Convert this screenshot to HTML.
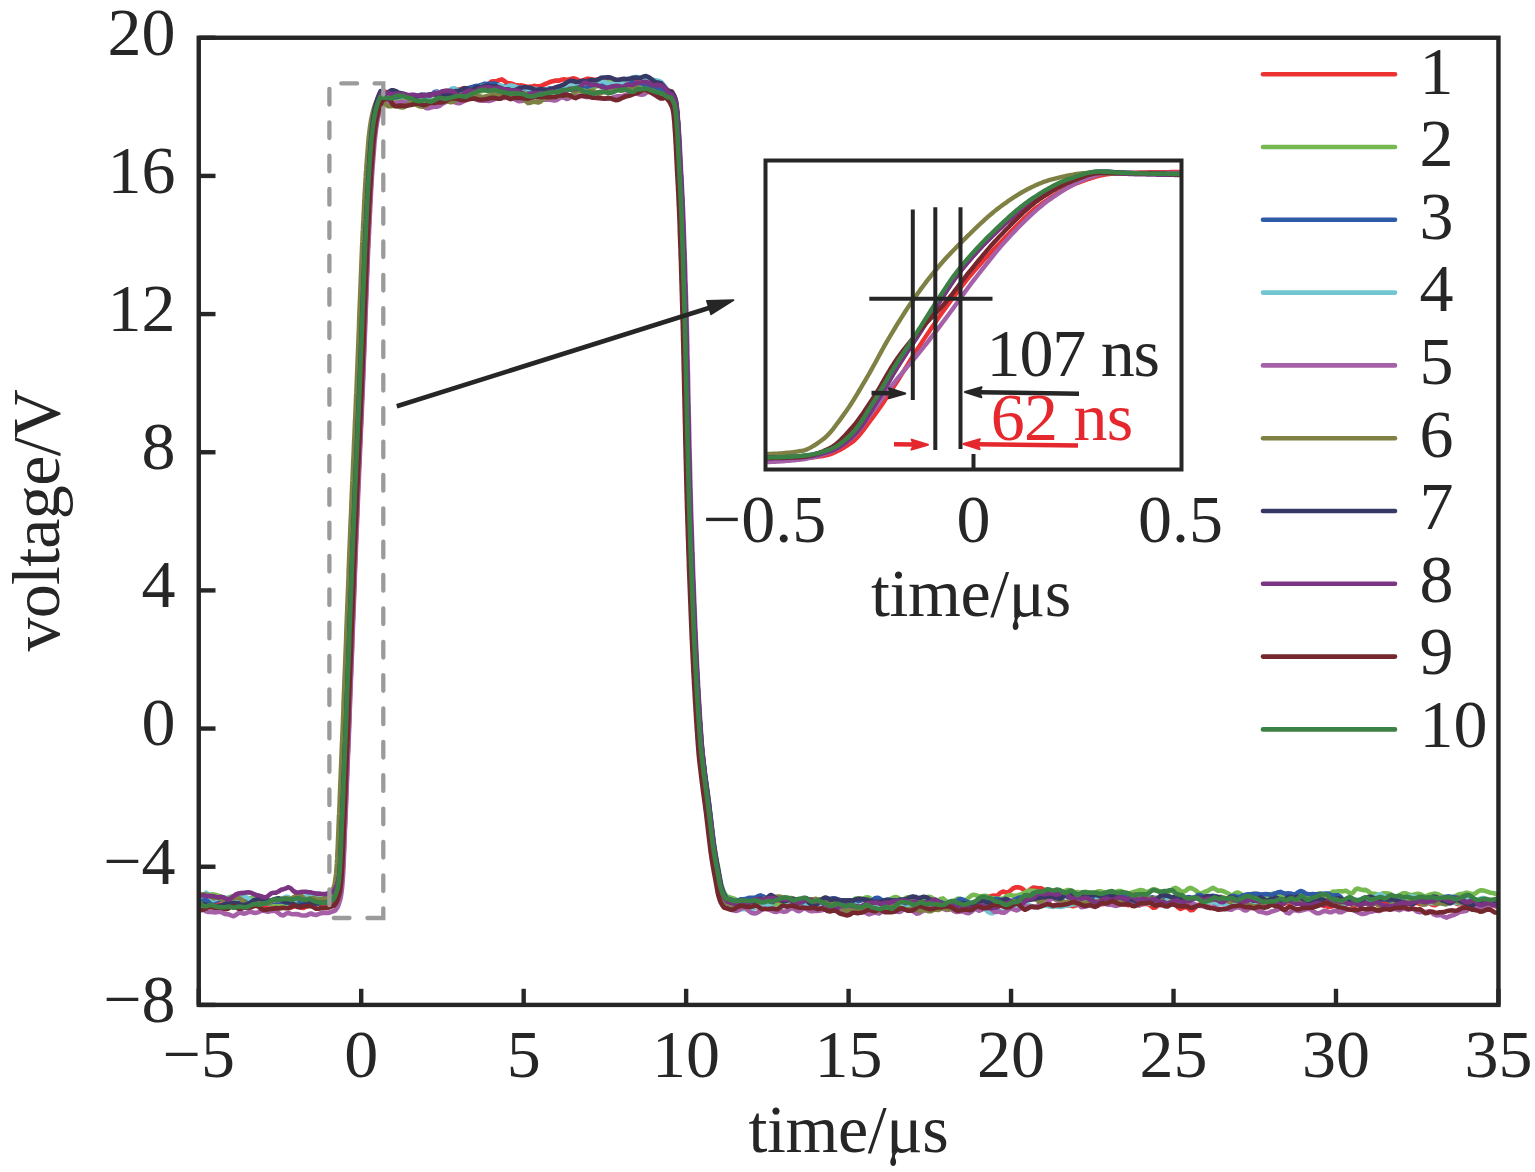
<!DOCTYPE html>
<html><head><meta charset="utf-8"><style>
html,body{margin:0;padding:0;background:#fff;width:1535px;height:1172px;overflow:hidden}
svg{display:block}
text{font-family:"Liberation Serif", serif}
</style></head><body>
<svg width="1535" height="1172" viewBox="0 0 1535 1172">
<defs><clipPath id="pc"><rect x="198.75" y="37.75" width="1299.7" height="967.15"/></clipPath><clipPath id="ic"><rect x="765.5" y="160.5" width="416" height="309"/></clipPath></defs>
<rect width="1535" height="1172" fill="#fff"/>
<g clip-path="url(#pc)" fill="none" stroke-width="4.6" stroke-linejoin="round" stroke-linecap="round">
<path stroke="#ec3232" d="M196.0 900.8 L198.5 902.8 L201.0 902.6 L203.5 901.3 L206.0 901.1 L208.5 901.5 L211.0 901.9 L213.5 902.5 L216.0 903.1 L218.5 904.2 L221.0 904.6 L223.5 904.4 L226.0 904.6 L228.5 904.6 L231.0 905.4 L233.5 906.2 L236.0 906.1 L238.5 906.5 L241.0 906.8 L243.5 906.3 L246.0 905.8 L248.5 905.3 L251.0 904.7 L253.5 903.7 L256.0 903.7 L258.5 905.5 L261.0 905.5 L263.5 905.4 L266.0 907.9 L268.5 909.0 L271.0 908.3 L273.5 908.5 L276.0 907.7 L278.5 905.2 L281.0 903.5 L283.5 904.3 L286.0 906.1 L288.5 907.1 L291.0 907.6 L293.5 906.6 L296.0 905.5 L298.5 906.3 L301.0 907.8 L303.5 907.9 L306.0 906.5 L308.5 905.8 L311.0 905.7 L313.5 905.0 L316.0 904.3 L318.5 904.2 L321.0 904.4 L323.5 904.9 L328.0 905.0 L335.3 902.4 L337.1 899.9 L338.3 897.3 L339.2 894.8 L340.0 892.2 L340.7 889.7 L341.1 887.1 L341.5 884.6 L341.8 882.0 L342.1 879.5 L342.3 876.9 L342.5 874.4 L342.7 871.8 L342.9 869.3 L343.0 866.7 L343.2 864.2 L343.3 861.6 L343.4 859.0 L343.5 856.5 L343.7 853.9 L343.8 851.4 L343.9 848.8 L344.0 846.3 L344.1 843.7 L344.2 841.2 L344.3 838.6 L344.4 836.1 L344.5 833.5 L344.6 831.0 L344.7 828.4 L344.8 825.9 L344.9 823.3 L345.0 820.8 L345.2 818.2 L345.3 815.6 L345.4 813.1 L345.5 810.5 L345.6 808.0 L345.7 805.4 L345.8 802.9 L345.9 800.3 L346.0 797.8 L346.1 795.2 L346.2 792.7 L346.3 790.1 L346.4 787.6 L346.5 785.0 L346.6 782.5 L346.7 779.9 L346.8 777.4 L346.9 774.8 L347.0 772.2 L347.1 769.7 L347.2 767.1 L347.3 764.6 L347.4 762.0 L347.5 759.5 L347.6 756.9 L347.7 754.4 L347.8 751.8 L347.9 749.3 L348.0 746.7 L348.2 744.2 L348.3 741.6 L348.4 739.1 L348.5 736.5 L348.6 734.0 L348.7 731.4 L348.8 728.8 L348.9 726.3 L349.0 723.7 L349.1 721.2 L349.2 718.6 L349.3 716.1 L349.4 713.5 L349.5 711.0 L349.5 708.4 L349.6 705.9 L349.7 703.3 L349.8 700.8 L349.9 698.2 L350.0 695.7 L350.1 693.1 L350.2 690.5 L350.3 688.0 L350.4 685.4 L350.5 682.9 L350.6 680.3 L350.7 677.8 L350.8 675.2 L350.9 672.7 L351.0 670.1 L351.1 667.6 L351.2 665.0 L351.3 662.5 L351.4 659.9 L351.5 657.4 L351.6 654.8 L351.7 652.3 L351.8 649.7 L351.9 647.1 L352.0 644.6 L352.1 642.0 L352.2 639.5 L352.2 636.9 L352.3 634.4 L352.4 631.8 L352.5 629.3 L352.6 626.7 L352.7 624.2 L352.8 621.6 L352.9 619.1 L353.0 616.5 L353.1 614.0 L353.2 611.4 L353.3 608.9 L353.4 606.3 L353.5 603.7 L353.6 601.2 L353.7 598.6 L353.8 596.1 L353.9 593.5 L354.0 591.0 L354.1 588.4 L354.2 585.9 L354.3 583.3 L354.4 580.8 L354.5 578.2 L354.6 575.7 L354.6 573.1 L354.7 570.6 L354.8 568.0 L354.9 565.5 L355.0 562.9 L355.1 560.3 L355.2 557.8 L355.3 555.2 L355.4 552.7 L355.5 550.1 L355.6 547.6 L355.7 545.0 L355.8 542.5 L355.9 539.9 L356.0 537.4 L356.1 534.8 L356.2 532.3 L356.3 529.7 L356.4 527.2 L356.5 524.6 L356.6 522.1 L356.7 519.5 L356.9 516.9 L357.0 514.4 L357.1 511.8 L357.2 509.3 L357.3 506.7 L357.4 504.2 L357.5 501.6 L357.6 499.1 L357.7 496.5 L357.8 494.0 L357.9 491.4 L358.0 488.9 L358.1 486.3 L358.2 483.8 L358.3 481.2 L358.5 478.7 L358.6 476.1 L358.7 473.5 L358.8 471.0 L358.9 468.4 L359.0 465.9 L359.1 463.3 L359.2 460.8 L359.3 458.2 L359.5 455.7 L359.6 453.1 L359.7 450.6 L359.8 448.0 L359.9 445.5 L360.0 442.9 L360.1 440.4 L360.2 437.8 L360.4 435.3 L360.5 432.7 L360.6 430.1 L360.7 427.6 L360.8 425.0 L360.9 422.5 L361.0 419.9 L361.1 417.4 L361.3 414.8 L361.4 412.3 L361.5 409.7 L361.6 407.2 L361.7 404.6 L361.8 402.1 L361.9 399.5 L362.0 397.0 L362.1 394.4 L362.2 391.9 L362.4 389.3 L362.5 386.7 L362.6 384.2 L362.7 381.6 L362.8 379.1 L362.9 376.5 L363.0 374.0 L363.1 371.4 L363.2 368.9 L363.3 366.3 L363.4 363.8 L363.5 361.2 L363.6 358.7 L363.7 356.1 L363.8 353.6 L363.9 351.0 L364.0 348.5 L364.1 345.9 L364.2 343.3 L364.3 340.8 L364.4 338.2 L364.5 335.7 L364.6 333.1 L364.7 330.6 L364.8 328.0 L364.9 325.5 L365.0 322.9 L365.1 320.4 L365.1 317.8 L365.2 315.3 L365.3 312.7 L365.4 310.2 L365.5 307.6 L365.6 305.1 L365.7 302.5 L365.8 299.9 L365.9 297.4 L366.0 294.8 L366.1 292.3 L366.2 289.7 L366.3 287.2 L366.4 284.6 L366.5 282.1 L366.6 279.5 L366.7 277.0 L366.8 274.4 L366.9 271.9 L367.0 269.3 L367.1 266.8 L367.2 264.2 L367.3 261.6 L367.4 259.1 L367.5 256.5 L367.6 254.0 L367.7 251.4 L367.8 248.9 L367.9 246.3 L368.0 243.8 L368.1 241.2 L368.2 238.7 L368.4 236.1 L368.5 233.6 L368.6 231.0 L368.7 228.5 L368.8 225.9 L369.0 223.4 L369.1 220.8 L369.2 218.2 L369.3 215.7 L369.5 213.1 L369.6 210.6 L369.7 208.0 L369.8 205.5 L370.0 202.9 L370.1 200.4 L370.2 197.8 L370.3 195.3 L370.5 192.7 L370.6 190.2 L370.7 187.6 L370.9 185.1 L371.0 182.5 L371.2 180.0 L371.3 177.4 L371.5 174.8 L371.6 172.3 L371.8 169.7 L371.9 167.2 L372.1 164.6 L372.3 162.1 L372.4 159.5 L372.6 157.0 L372.8 154.4 L373.0 151.9 L373.2 149.3 L373.4 146.8 L373.6 144.2 L373.8 141.7 L374.0 139.1 L374.2 136.6 L374.4 134.0 L374.6 131.4 L374.9 128.9 L375.2 126.3 L375.5 123.8 L375.8 121.2 L376.1 118.7 L376.5 116.1 L376.9 113.6 L377.3 111.0 L377.8 108.5 L378.4 105.9 L379.0 103.4 L379.7 100.8 L380.4 98.3 L381.3 95.7 L382.4 93.2 L383.6 90.6 L386.6 92.8 L389.1 93.7 L391.6 94.3 L394.1 95.1 L396.6 95.7 L399.1 95.1 L401.6 95.3 L404.1 95.9 L406.6 96.0 L409.1 96.2 L411.6 96.7 L414.1 96.4 L416.6 95.9 L419.1 96.0 L421.6 96.4 L424.1 96.6 L426.6 96.3 L429.1 96.1 L431.6 95.0 L434.1 93.7 L436.6 93.2 L439.1 92.9 L441.6 92.3 L444.1 91.4 L446.6 90.7 L449.1 90.3 L451.6 90.2 L454.1 89.6 L456.6 89.3 L459.1 89.7 L461.6 89.0 L464.1 88.1 L466.6 88.5 L469.1 89.1 L471.6 88.8 L474.1 88.4 L476.6 87.4 L479.1 86.3 L481.6 86.5 L484.1 86.3 L486.6 85.2 L489.1 83.5 L491.6 81.6 L494.1 81.2 L496.6 81.4 L499.1 80.1 L501.6 79.4 L504.1 80.7 L506.6 82.7 L509.1 83.4 L511.6 83.5 L514.1 84.6 L516.6 85.4 L519.1 85.6 L521.6 85.4 L524.1 85.9 L526.6 86.7 L529.1 86.9 L531.6 86.6 L534.1 85.9 L536.6 86.2 L539.1 86.4 L541.6 85.6 L544.1 84.5 L546.6 83.5 L549.1 82.4 L551.6 81.5 L554.1 80.9 L556.6 80.6 L559.1 80.6 L561.6 79.8 L564.1 79.3 L566.6 79.9 L569.1 79.6 L571.6 78.7 L574.1 78.4 L576.6 79.1 L579.1 80.9 L581.6 81.1 L584.1 79.8 L586.6 78.9 L589.1 78.9 L591.6 79.3 L594.1 79.7 L596.6 79.8 L599.1 79.9 L601.6 80.7 L604.1 81.6 L606.6 81.4 L609.1 80.3 L611.6 80.2 L614.1 81.1 L616.6 81.3 L619.1 80.7 L621.6 80.6 L624.1 80.5 L626.6 79.6 L629.1 78.9 L631.6 79.3 L634.1 80.3 L636.6 82.0 L639.1 83.9 L641.6 83.9 L644.1 83.0 L646.6 83.3 L649.1 83.5 L651.6 83.3 L654.1 84.2 L656.6 85.6 L659.1 86.1 L661.6 86.3 L664.1 87.3 L666.6 89.4 L669.1 90.8 L672.0 91.5 L673.4 94.1 L674.7 96.6 L675.6 99.2 L676.1 101.7 L676.5 104.3 L676.8 106.8 L677.0 109.4 L677.3 112.0 L677.5 114.5 L677.6 117.1 L677.8 119.6 L678.0 122.2 L678.2 124.7 L678.3 127.3 L678.5 129.8 L678.6 132.4 L678.8 135.0 L678.9 137.5 L679.0 140.1 L679.2 142.6 L679.3 145.2 L679.4 147.7 L679.5 150.3 L679.7 152.9 L679.8 155.4 L679.9 158.0 L680.0 160.5 L680.2 163.1 L680.3 165.6 L680.5 168.2 L680.6 170.7 L680.7 173.3 L680.9 175.9 L681.0 178.4 L681.1 181.0 L681.3 183.5 L681.4 186.1 L681.5 188.6 L681.6 191.2 L681.7 193.8 L681.8 196.3 L682.0 198.9 L682.1 201.4 L682.2 204.0 L682.3 206.5 L682.4 209.1 L682.5 211.7 L682.6 214.2 L682.7 216.8 L682.8 219.3 L682.8 221.9 L682.9 224.4 L683.0 227.0 L683.1 229.5 L683.2 232.1 L683.3 234.7 L683.4 237.2 L683.5 239.8 L683.6 242.3 L683.6 244.9 L683.7 247.4 L683.8 250.0 L683.9 252.6 L684.0 255.1 L684.1 257.7 L684.1 260.2 L684.2 262.8 L684.3 265.3 L684.4 267.9 L684.4 270.4 L684.5 273.0 L684.6 275.6 L684.7 278.1 L684.7 280.7 L684.8 283.2 L684.9 285.8 L685.0 288.3 L685.0 290.9 L685.1 293.5 L685.2 296.0 L685.3 298.6 L685.3 301.1 L685.4 303.7 L685.5 306.2 L685.6 308.8 L685.6 311.4 L685.7 313.9 L685.8 316.5 L685.8 319.0 L685.9 321.6 L686.0 324.1 L686.0 326.7 L686.1 329.2 L686.1 331.8 L686.2 334.4 L686.3 336.9 L686.3 339.5 L686.4 342.0 L686.4 344.6 L686.5 347.1 L686.6 349.7 L686.6 352.3 L686.7 354.8 L686.7 357.4 L686.8 359.9 L686.8 362.5 L686.9 365.0 L687.0 367.6 L687.0 370.2 L687.1 372.7 L687.1 375.3 L687.2 377.8 L687.2 380.4 L687.3 382.9 L687.3 385.5 L687.4 388.0 L687.5 390.6 L687.5 393.2 L687.6 395.7 L687.6 398.3 L687.7 400.8 L687.7 403.4 L687.8 405.9 L687.8 408.5 L687.9 411.1 L687.9 413.6 L688.0 416.2 L688.1 418.7 L688.1 421.3 L688.2 423.8 L688.2 426.4 L688.3 428.9 L688.3 431.5 L688.4 434.1 L688.4 436.6 L688.5 439.2 L688.6 441.7 L688.6 444.3 L688.7 446.8 L688.7 449.4 L688.8 452.0 L688.9 454.5 L688.9 457.1 L689.0 459.6 L689.0 462.2 L689.1 464.7 L689.2 467.3 L689.2 469.9 L689.3 472.4 L689.4 475.0 L689.4 477.5 L689.5 480.1 L689.6 482.6 L689.6 485.2 L689.7 487.7 L689.8 490.3 L689.8 492.9 L689.9 495.4 L690.0 498.0 L690.0 500.5 L690.1 503.1 L690.2 505.6 L690.3 508.2 L690.4 510.8 L690.4 513.3 L690.5 515.9 L690.6 518.4 L690.7 521.0 L690.8 523.5 L690.8 526.1 L690.9 528.6 L691.0 531.2 L691.1 533.8 L691.2 536.3 L691.3 538.9 L691.3 541.4 L691.4 544.0 L691.5 546.5 L691.6 549.1 L691.7 551.7 L691.8 554.2 L691.9 556.8 L691.9 559.3 L692.0 561.9 L692.1 564.4 L692.2 567.0 L692.3 569.6 L692.4 572.1 L692.5 574.7 L692.6 577.2 L692.7 579.8 L692.8 582.3 L692.9 584.9 L693.0 587.4 L693.1 590.0 L693.2 592.6 L693.3 595.1 L693.4 597.7 L693.5 600.2 L693.6 602.8 L693.7 605.3 L693.8 607.9 L693.9 610.5 L694.0 613.0 L694.1 615.6 L694.2 618.1 L694.3 620.7 L694.4 623.2 L694.5 625.8 L694.6 628.3 L694.7 630.9 L694.8 633.5 L695.0 636.0 L695.1 638.6 L695.2 641.1 L695.3 643.7 L695.4 646.2 L695.6 648.8 L695.7 651.4 L695.8 653.9 L695.9 656.5 L696.1 659.0 L696.2 661.6 L696.3 664.1 L696.4 666.7 L696.6 669.3 L696.7 671.8 L696.9 674.4 L697.0 676.9 L697.1 679.5 L697.3 682.0 L697.4 684.6 L697.6 687.1 L697.7 689.7 L697.8 692.3 L698.0 694.8 L698.1 697.4 L698.3 699.9 L698.5 702.5 L698.6 705.0 L698.8 707.6 L698.9 710.2 L699.1 712.7 L699.2 715.3 L699.4 717.8 L699.6 720.4 L699.7 722.9 L699.9 725.5 L700.1 728.1 L700.3 730.6 L700.4 733.2 L700.6 735.7 L700.8 738.3 L701.0 740.8 L701.2 743.4 L701.4 745.9 L701.6 748.5 L701.8 751.1 L702.1 753.6 L702.3 756.2 L702.6 758.7 L702.9 761.3 L703.2 763.8 L703.5 766.4 L703.8 769.0 L704.1 771.5 L704.4 774.1 L704.7 776.6 L705.0 779.2 L705.4 781.7 L705.7 784.3 L706.0 786.8 L706.4 789.4 L706.7 792.0 L707.1 794.5 L707.4 797.1 L707.8 799.6 L708.1 802.2 L708.4 804.7 L708.8 807.3 L709.1 809.9 L709.4 812.4 L709.7 815.0 L710.0 817.5 L710.3 820.1 L710.6 822.6 L710.9 825.2 L711.2 827.8 L711.5 830.3 L711.8 832.9 L712.1 835.4 L712.4 838.0 L712.7 840.5 L713.0 843.1 L713.3 845.6 L713.6 848.2 L714.0 850.8 L714.4 853.3 L714.7 855.9 L715.2 858.4 L715.6 861.0 L716.0 863.5 L716.5 866.1 L716.9 868.7 L717.4 871.2 L717.9 873.8 L718.4 876.3 L718.8 878.9 L719.3 881.4 L719.7 884.0 L720.2 886.5 L720.6 889.1 L721.2 891.7 L721.9 894.2 L722.7 896.8 L723.7 899.3 L725.1 901.9 L726.9 904.4 L735.0 907.0 L738.0 907.2 L740.5 906.9 L743.0 906.3 L745.5 905.6 L748.0 905.4 L750.5 905.3 L753.0 906.5 L755.5 907.5 L758.0 907.1 L760.5 905.6 L763.0 905.6 L765.5 907.1 L768.0 906.2 L770.5 903.5 L773.0 902.6 L775.5 902.8 L778.0 903.3 L780.5 902.9 L783.0 901.6 L785.5 901.9 L788.0 903.7 L790.5 904.0 L793.0 902.9 L795.5 901.8 L798.0 901.9 L800.5 902.4 L803.0 902.4 L805.5 903.5 L808.0 905.7 L810.5 907.2 L813.0 906.8 L815.5 906.0 L818.0 906.0 L820.5 905.7 L823.0 905.3 L825.5 904.6 L828.0 904.6 L830.5 906.1 L833.0 906.8 L835.5 906.4 L838.0 906.6 L840.5 907.1 L843.0 907.9 L845.5 908.1 L848.0 907.9 L850.5 907.6 L853.0 907.0 L855.5 906.9 L858.0 907.5 L860.5 907.0 L863.0 905.8 L865.5 904.5 L868.0 903.8 L870.5 904.9 L873.0 908.1 L875.5 909.2 L878.0 907.1 L880.5 906.0 L883.0 906.6 L885.5 906.4 L888.0 905.3 L890.5 904.6 L893.0 905.6 L895.5 907.1 L898.0 908.3 L900.5 907.6 L903.0 905.6 L905.5 903.4 L908.0 902.2 L910.5 904.0 L913.0 905.9 L915.5 905.6 L918.0 906.1 L920.5 908.5 L923.0 909.3 L925.5 908.1 L928.0 907.3 L930.5 907.4 L933.0 907.4 L935.5 906.3 L938.0 905.9 L940.5 906.4 L943.0 906.6 L945.5 906.9 L948.0 906.9 L950.5 906.5 L953.0 906.5 L955.5 907.0 L958.0 905.8 L960.5 904.3 L963.0 904.3 L965.5 904.8 L968.0 904.7 L970.5 904.3 L973.0 905.4 L975.5 905.5 L978.0 901.0 L980.5 899.0 L983.0 898.1 L985.5 896.3 L988.0 896.7 L990.5 896.3 L993.0 895.6 L995.5 895.9 L998.0 895.2 L1000.5 892.7 L1003.0 891.5 L1005.5 892.4 L1008.0 892.3 L1010.5 890.5 L1013.0 888.4 L1015.5 887.4 L1018.0 887.2 L1020.5 887.7 L1023.0 889.3 L1025.5 891.5 L1028.0 891.6 L1030.5 889.1 L1033.0 887.6 L1035.5 887.8 L1038.0 888.2 L1040.5 888.2 L1043.0 889.2 L1045.5 894.1 L1048.0 900.3 L1050.5 905.7 L1053.0 906.9 L1055.5 905.0 L1058.0 905.1 L1060.5 906.0 L1063.0 905.7 L1065.5 905.1 L1068.0 905.1 L1070.5 905.5 L1073.0 906.2 L1075.5 905.6 L1078.0 904.3 L1080.5 903.3 L1083.0 903.7 L1085.5 904.3 L1088.0 904.4 L1090.5 904.2 L1093.0 903.5 L1095.5 902.8 L1098.0 903.1 L1100.5 904.3 L1103.0 904.1 L1105.5 902.3 L1108.0 901.3 L1110.5 902.4 L1113.0 903.2 L1115.5 902.5 L1118.0 902.1 L1120.5 902.9 L1123.0 903.3 L1125.5 904.0 L1128.0 905.2 L1130.5 904.7 L1133.0 904.0 L1135.5 904.2 L1138.0 903.9 L1140.5 903.9 L1143.0 904.1 L1145.5 903.8 L1148.0 904.0 L1150.5 905.6 L1153.0 907.6 L1155.5 907.4 L1158.0 905.2 L1160.5 904.7 L1163.0 905.1 L1165.5 904.2 L1168.0 903.2 L1170.5 902.6 L1173.0 902.7 L1175.5 904.7 L1178.0 907.6 L1180.5 909.0 L1183.0 907.9 L1185.5 907.0 L1188.0 908.1 L1190.5 910.2 L1193.0 909.9 L1195.5 907.3 L1198.0 905.0 L1200.5 904.3 L1203.0 905.2 L1205.5 905.5 L1208.0 904.6 L1210.5 903.2 L1213.0 901.5 L1215.5 900.5 L1218.0 901.0 L1220.5 901.3 L1223.0 901.6 L1225.5 901.1 L1228.0 900.3 L1230.5 900.3 L1233.0 900.7 L1235.5 900.7 L1238.0 900.6 L1240.5 900.9 L1243.0 900.9 L1245.5 901.3 L1248.0 901.0 L1250.5 900.2 L1253.0 900.5 L1255.5 902.0 L1258.0 903.4 L1260.5 903.2 L1263.0 903.1 L1265.5 903.7 L1268.0 903.6 L1270.5 904.0 L1273.0 904.2 L1275.5 904.6 L1278.0 905.0 L1280.5 905.0 L1283.0 904.4 L1285.5 903.2 L1288.0 902.6 L1290.5 902.5 L1293.0 901.2 L1295.5 899.5 L1298.0 899.3 L1300.5 900.5 L1303.0 901.3 L1305.5 901.5 L1308.0 901.6 L1310.5 901.0 L1313.0 900.1 L1315.5 900.1 L1318.0 902.1 L1320.5 904.6 L1323.0 905.5 L1325.5 906.1 L1328.0 906.7 L1330.5 906.9 L1333.0 905.9 L1335.5 903.6 L1338.0 902.3 L1340.5 902.4 L1343.0 903.3 L1345.5 903.3 L1348.0 902.0 L1350.5 903.1 L1353.0 905.9 L1355.5 905.8 L1358.0 903.2 L1360.5 902.2 L1363.0 902.7 L1365.5 903.3 L1368.0 903.5 L1370.5 903.3 L1373.0 902.7 L1375.5 903.2 L1378.0 905.1 L1380.5 905.7 L1383.0 904.0 L1385.5 902.0 L1388.0 901.7 L1390.5 902.3 L1393.0 903.2 L1395.5 904.1 L1398.0 904.1 L1400.5 904.1 L1403.0 904.0 L1405.5 903.8 L1408.0 903.8 L1410.5 903.3 L1413.0 903.0 L1415.5 902.9 L1418.0 903.2 L1420.5 904.3 L1423.0 904.1 L1425.5 902.2 L1428.0 902.3 L1430.5 903.8 L1433.0 904.9 L1435.5 905.1 L1438.0 903.7 L1440.5 901.8 L1443.0 900.9 L1445.5 901.9 L1448.0 902.8 L1450.5 901.8 L1453.0 901.5 L1455.5 903.1 L1458.0 904.2 L1460.5 903.5 L1463.0 903.7 L1465.5 905.4 L1468.0 906.9 L1470.5 906.6 L1473.0 905.5 L1475.5 904.9 L1478.0 904.0 L1480.5 902.7 L1483.0 902.8 L1485.5 903.5 L1488.0 903.5 L1490.5 903.6 L1493.0 904.5 L1495.5 906.3 L1498.0 907.0 L1500.5 906.0 L1503.0 904.3"/>
<path stroke="#76b951" d="M196.0 896.6 L198.5 899.2 L201.0 899.5 L203.5 897.9 L206.0 896.8 L208.5 895.7 L211.0 894.5 L213.5 894.4 L216.0 895.0 L218.5 895.7 L221.0 897.1 L223.5 898.7 L226.0 899.0 L228.5 897.8 L231.0 896.6 L233.5 896.8 L236.0 898.6 L238.5 900.3 L241.0 900.6 L243.5 899.5 L246.0 898.5 L248.5 898.3 L251.0 897.9 L253.5 897.9 L256.0 899.8 L258.5 902.1 L261.0 902.2 L263.5 901.1 L266.0 901.2 L268.5 903.0 L271.0 904.2 L273.5 903.8 L276.0 902.9 L278.5 903.8 L281.0 904.8 L283.5 904.9 L286.0 904.3 L288.5 902.6 L291.0 901.4 L293.5 901.5 L296.0 902.0 L298.5 902.1 L301.0 901.6 L303.5 901.6 L306.0 901.5 L308.5 900.9 L311.0 900.6 L313.5 900.7 L316.0 900.6 L318.5 900.2 L321.0 900.0 L326.0 900.0 L333.3 897.5 L335.1 895.0 L336.3 892.4 L337.2 889.9 L338.0 887.4 L338.7 884.9 L339.1 882.3 L339.5 879.8 L339.8 877.3 L340.1 874.8 L340.3 872.2 L340.5 869.7 L340.7 867.2 L340.9 864.7 L341.0 862.1 L341.2 859.6 L341.3 857.1 L341.4 854.6 L341.5 852.0 L341.7 849.5 L341.8 847.0 L341.9 844.5 L342.0 841.9 L342.1 839.4 L342.2 836.9 L342.3 834.4 L342.4 831.8 L342.5 829.3 L342.6 826.8 L342.7 824.3 L342.8 821.8 L342.9 819.2 L343.0 816.7 L343.2 814.2 L343.3 811.7 L343.4 809.1 L343.5 806.6 L343.6 804.1 L343.7 801.6 L343.8 799.0 L343.9 796.5 L344.0 794.0 L344.1 791.5 L344.2 788.9 L344.3 786.4 L344.4 783.9 L344.5 781.4 L344.6 778.8 L344.7 776.3 L344.8 773.8 L344.9 771.3 L345.0 768.7 L345.1 766.2 L345.2 763.7 L345.3 761.2 L345.4 758.6 L345.5 756.1 L345.6 753.6 L345.7 751.1 L345.8 748.6 L345.9 746.0 L346.0 743.5 L346.2 741.0 L346.3 738.5 L346.4 735.9 L346.5 733.4 L346.6 730.9 L346.7 728.4 L346.8 725.8 L346.9 723.3 L347.0 720.8 L347.1 718.3 L347.2 715.7 L347.3 713.2 L347.4 710.7 L347.5 708.2 L347.5 705.6 L347.6 703.1 L347.7 700.6 L347.8 698.1 L347.9 695.5 L348.0 693.0 L348.1 690.5 L348.2 688.0 L348.3 685.4 L348.4 682.9 L348.5 680.4 L348.6 677.9 L348.7 675.4 L348.8 672.8 L348.9 670.3 L349.0 667.8 L349.1 665.3 L349.2 662.7 L349.3 660.2 L349.4 657.7 L349.5 655.2 L349.6 652.6 L349.7 650.1 L349.8 647.6 L349.9 645.1 L350.0 642.5 L350.1 640.0 L350.2 637.5 L350.2 635.0 L350.3 632.4 L350.4 629.9 L350.5 627.4 L350.6 624.9 L350.7 622.3 L350.8 619.8 L350.9 617.3 L351.0 614.8 L351.1 612.2 L351.2 609.7 L351.3 607.2 L351.4 604.7 L351.5 602.2 L351.6 599.6 L351.7 597.1 L351.8 594.6 L351.9 592.1 L352.0 589.5 L352.1 587.0 L352.2 584.5 L352.3 582.0 L352.4 579.4 L352.5 576.9 L352.6 574.4 L352.6 571.9 L352.7 569.3 L352.8 566.8 L352.9 564.3 L353.0 561.8 L353.1 559.2 L353.2 556.7 L353.3 554.2 L353.4 551.7 L353.5 549.1 L353.6 546.6 L353.7 544.1 L353.8 541.6 L353.9 539.0 L354.0 536.5 L354.1 534.0 L354.2 531.5 L354.3 529.0 L354.4 526.4 L354.5 523.9 L354.6 521.4 L354.7 518.9 L354.9 516.3 L355.0 513.8 L355.1 511.3 L355.2 508.8 L355.3 506.2 L355.4 503.7 L355.5 501.2 L355.6 498.7 L355.7 496.1 L355.8 493.6 L355.9 491.1 L356.0 488.6 L356.1 486.0 L356.2 483.5 L356.3 481.0 L356.5 478.5 L356.6 475.9 L356.7 473.4 L356.8 470.9 L356.9 468.4 L357.0 465.8 L357.1 463.3 L357.2 460.8 L357.3 458.3 L357.5 455.8 L357.6 453.2 L357.7 450.7 L357.8 448.2 L357.9 445.7 L358.0 443.1 L358.1 440.6 L358.2 438.1 L358.4 435.6 L358.5 433.0 L358.6 430.5 L358.7 428.0 L358.8 425.5 L358.9 422.9 L359.0 420.4 L359.1 417.9 L359.3 415.4 L359.4 412.8 L359.5 410.3 L359.6 407.8 L359.7 405.3 L359.8 402.7 L359.9 400.2 L360.0 397.7 L360.1 395.2 L360.2 392.6 L360.4 390.1 L360.5 387.6 L360.6 385.1 L360.7 382.6 L360.8 380.0 L360.9 377.5 L361.0 375.0 L361.1 372.5 L361.2 369.9 L361.3 367.4 L361.4 364.9 L361.5 362.4 L361.6 359.8 L361.7 357.3 L361.8 354.8 L361.9 352.3 L362.0 349.7 L362.1 347.2 L362.2 344.7 L362.3 342.2 L362.4 339.6 L362.5 337.1 L362.6 334.6 L362.7 332.1 L362.8 329.5 L362.9 327.0 L363.0 324.5 L363.1 322.0 L363.1 319.4 L363.2 316.9 L363.3 314.4 L363.4 311.9 L363.5 309.4 L363.6 306.8 L363.7 304.3 L363.8 301.8 L363.9 299.3 L364.0 296.7 L364.1 294.2 L364.2 291.7 L364.3 289.2 L364.4 286.6 L364.5 284.1 L364.6 281.6 L364.7 279.1 L364.8 276.5 L364.9 274.0 L365.0 271.5 L365.1 269.0 L365.2 266.4 L365.3 263.9 L365.4 261.4 L365.5 258.9 L365.6 256.3 L365.7 253.8 L365.8 251.3 L365.9 248.8 L366.0 246.2 L366.1 243.7 L366.2 241.2 L366.4 238.7 L366.5 236.2 L366.6 233.6 L366.7 231.1 L366.8 228.6 L367.0 226.1 L367.1 223.5 L367.2 221.0 L367.3 218.5 L367.5 216.0 L367.6 213.4 L367.7 210.9 L367.8 208.4 L368.0 205.9 L368.1 203.3 L368.2 200.8 L368.3 198.3 L368.5 195.8 L368.6 193.2 L368.7 190.7 L368.9 188.2 L369.0 185.7 L369.2 183.1 L369.3 180.6 L369.5 178.1 L369.6 175.6 L369.8 173.0 L369.9 170.5 L370.1 168.0 L370.3 165.5 L370.4 163.0 L370.6 160.4 L370.8 157.9 L371.0 155.4 L371.2 152.9 L371.4 150.3 L371.6 147.8 L371.8 145.3 L372.0 142.8 L372.2 140.2 L372.4 137.7 L372.6 135.2 L372.9 132.7 L373.2 130.1 L373.5 127.6 L373.8 125.1 L374.1 122.6 L374.5 120.0 L374.9 117.5 L375.3 115.0 L375.8 112.5 L376.4 109.9 L377.0 107.4 L377.7 104.9 L378.4 102.4 L379.3 99.8 L380.4 97.3 L381.6 94.8 L384.6 96.3 L387.1 97.4 L389.6 98.9 L392.1 99.3 L394.6 99.1 L397.1 99.4 L399.6 100.0 L402.1 99.9 L404.6 98.8 L407.1 98.3 L409.6 99.2 L412.1 99.8 L414.6 99.2 L417.1 97.7 L419.6 97.4 L422.1 98.7 L424.6 99.6 L427.1 100.4 L429.6 100.8 L432.1 100.4 L434.6 99.4 L437.1 98.0 L439.6 97.0 L442.1 97.0 L444.6 97.2 L447.1 96.5 L449.6 94.4 L452.1 93.7 L454.6 94.9 L457.1 95.9 L459.6 96.8 L462.1 96.7 L464.6 95.0 L467.1 92.8 L469.6 92.4 L472.1 93.0 L474.6 92.5 L477.1 91.6 L479.6 91.5 L482.1 90.9 L484.6 90.4 L487.1 90.3 L489.6 90.1 L492.1 90.6 L494.6 91.3 L497.1 92.9 L499.6 94.5 L502.1 93.7 L504.6 91.4 L507.1 91.0 L509.6 92.3 L512.1 93.2 L514.6 93.0 L517.1 93.1 L519.6 93.7 L522.1 93.5 L524.6 92.8 L527.1 92.1 L529.6 92.8 L532.1 94.8 L534.6 95.2 L537.1 94.1 L539.6 94.0 L542.1 95.2 L544.6 95.4 L547.1 94.4 L549.6 93.5 L552.1 92.3 L554.6 90.8 L557.1 90.0 L559.6 89.7 L562.1 89.0 L564.6 88.2 L567.1 88.0 L569.6 88.4 L572.1 87.9 L574.6 86.9 L577.1 87.1 L579.6 88.0 L582.1 88.2 L584.6 88.2 L587.1 88.1 L589.6 88.4 L592.1 88.3 L594.6 87.2 L597.1 86.2 L599.6 85.4 L602.1 84.7 L604.6 83.7 L607.1 82.3 L609.6 81.9 L612.1 83.0 L614.6 83.9 L617.1 84.0 L619.6 83.2 L622.1 82.0 L624.6 81.4 L627.1 81.5 L629.6 81.8 L632.1 82.9 L634.6 84.6 L637.1 85.6 L639.6 85.3 L642.1 84.4 L644.6 83.5 L647.1 83.7 L649.6 85.7 L652.1 87.1 L654.6 86.5 L657.1 86.1 L659.6 85.6 L662.1 85.6 L664.6 87.7 L667.1 91.2 L669.6 94.0 L672.0 95.7 L673.4 98.2 L674.7 100.7 L675.6 103.3 L676.1 105.8 L676.5 108.3 L676.8 110.8 L677.0 113.3 L677.3 115.8 L677.5 118.4 L677.6 120.9 L677.8 123.4 L678.0 125.9 L678.2 128.4 L678.3 131.0 L678.5 133.5 L678.6 136.0 L678.8 138.5 L678.9 141.0 L679.0 143.5 L679.2 146.1 L679.3 148.6 L679.4 151.1 L679.5 153.6 L679.7 156.1 L679.8 158.7 L679.9 161.2 L680.0 163.7 L680.2 166.2 L680.3 168.7 L680.5 171.2 L680.6 173.8 L680.7 176.3 L680.9 178.8 L681.0 181.3 L681.1 183.8 L681.3 186.4 L681.4 188.9 L681.5 191.4 L681.6 193.9 L681.7 196.4 L681.8 198.9 L682.0 201.5 L682.1 204.0 L682.2 206.5 L682.3 209.0 L682.4 211.5 L682.5 214.1 L682.6 216.6 L682.7 219.1 L682.8 221.6 L682.8 224.1 L682.9 226.6 L683.0 229.2 L683.1 231.7 L683.2 234.2 L683.3 236.7 L683.4 239.2 L683.5 241.8 L683.6 244.3 L683.6 246.8 L683.7 249.3 L683.8 251.8 L683.9 254.3 L684.0 256.9 L684.1 259.4 L684.1 261.9 L684.2 264.4 L684.3 266.9 L684.4 269.5 L684.4 272.0 L684.5 274.5 L684.6 277.0 L684.7 279.5 L684.7 282.0 L684.8 284.6 L684.9 287.1 L685.0 289.6 L685.0 292.1 L685.1 294.6 L685.2 297.2 L685.3 299.7 L685.3 302.2 L685.4 304.7 L685.5 307.2 L685.6 309.7 L685.6 312.3 L685.7 314.8 L685.8 317.3 L685.8 319.8 L685.9 322.3 L686.0 324.9 L686.0 327.4 L686.1 329.9 L686.1 332.4 L686.2 334.9 L686.3 337.4 L686.3 340.0 L686.4 342.5 L686.4 345.0 L686.5 347.5 L686.6 350.0 L686.6 352.6 L686.7 355.1 L686.7 357.6 L686.8 360.1 L686.8 362.6 L686.9 365.1 L687.0 367.7 L687.0 370.2 L687.1 372.7 L687.1 375.2 L687.2 377.7 L687.2 380.3 L687.3 382.8 L687.3 385.3 L687.4 387.8 L687.5 390.3 L687.5 392.8 L687.6 395.4 L687.6 397.9 L687.7 400.4 L687.7 402.9 L687.8 405.4 L687.8 408.0 L687.9 410.5 L687.9 413.0 L688.0 415.5 L688.1 418.0 L688.1 420.5 L688.2 423.1 L688.2 425.6 L688.3 428.1 L688.3 430.6 L688.4 433.1 L688.4 435.7 L688.5 438.2 L688.6 440.7 L688.6 443.2 L688.7 445.7 L688.7 448.2 L688.8 450.8 L688.9 453.3 L688.9 455.8 L689.0 458.3 L689.0 460.8 L689.1 463.4 L689.2 465.9 L689.2 468.4 L689.3 470.9 L689.4 473.4 L689.4 475.9 L689.5 478.5 L689.6 481.0 L689.6 483.5 L689.7 486.0 L689.8 488.5 L689.8 491.1 L689.9 493.6 L690.0 496.1 L690.0 498.6 L690.1 501.1 L690.2 503.6 L690.3 506.2 L690.4 508.7 L690.4 511.2 L690.5 513.7 L690.6 516.2 L690.7 518.8 L690.8 521.3 L690.8 523.8 L690.9 526.3 L691.0 528.8 L691.1 531.3 L691.2 533.9 L691.3 536.4 L691.3 538.9 L691.4 541.4 L691.5 543.9 L691.6 546.5 L691.7 549.0 L691.8 551.5 L691.9 554.0 L691.9 556.5 L692.0 559.0 L692.1 561.6 L692.2 564.1 L692.3 566.6 L692.4 569.1 L692.5 571.6 L692.6 574.2 L692.7 576.7 L692.8 579.2 L692.9 581.7 L693.0 584.2 L693.1 586.7 L693.2 589.3 L693.3 591.8 L693.4 594.3 L693.5 596.8 L693.6 599.3 L693.7 601.9 L693.8 604.4 L693.9 606.9 L694.0 609.4 L694.1 611.9 L694.2 614.4 L694.3 617.0 L694.4 619.5 L694.5 622.0 L694.6 624.5 L694.7 627.0 L694.8 629.6 L695.0 632.1 L695.1 634.6 L695.2 637.1 L695.3 639.6 L695.4 642.1 L695.6 644.7 L695.7 647.2 L695.8 649.7 L695.9 652.2 L696.1 654.7 L696.2 657.3 L696.3 659.8 L696.4 662.3 L696.6 664.8 L696.7 667.3 L696.9 669.8 L697.0 672.4 L697.1 674.9 L697.3 677.4 L697.4 679.9 L697.6 682.4 L697.7 685.0 L697.8 687.5 L698.0 690.0 L698.1 692.5 L698.3 695.0 L698.5 697.5 L698.6 700.1 L698.8 702.6 L698.9 705.1 L699.1 707.6 L699.2 710.1 L699.4 712.7 L699.6 715.2 L699.7 717.7 L699.9 720.2 L700.1 722.7 L700.3 725.2 L700.4 727.8 L700.6 730.3 L700.8 732.8 L701.0 735.3 L701.2 737.8 L701.4 740.4 L701.6 742.9 L701.8 745.4 L702.1 747.9 L702.3 750.4 L702.6 752.9 L702.9 755.5 L703.2 758.0 L703.5 760.5 L703.8 763.0 L704.1 765.5 L704.4 768.1 L704.7 770.6 L705.0 773.1 L705.4 775.6 L705.7 778.1 L706.0 780.6 L706.4 783.2 L706.7 785.7 L707.1 788.2 L707.4 790.7 L707.8 793.2 L708.1 795.8 L708.4 798.3 L708.8 800.8 L709.1 803.3 L709.4 805.8 L709.7 808.3 L710.0 810.9 L710.3 813.4 L710.6 815.9 L710.9 818.4 L711.2 820.9 L711.5 823.5 L711.8 826.0 L712.1 828.5 L712.4 831.0 L712.7 833.5 L713.0 836.0 L713.3 838.6 L713.6 841.1 L714.0 843.6 L714.4 846.1 L714.7 848.6 L715.2 851.2 L715.6 853.7 L716.0 856.2 L716.5 858.7 L716.9 861.2 L717.4 863.7 L717.9 866.3 L718.4 868.8 L718.8 871.3 L719.3 873.8 L719.7 876.3 L720.2 878.9 L720.6 881.4 L721.2 883.9 L721.9 886.4 L722.7 888.9 L723.7 891.4 L725.1 894.0 L726.9 896.5 L735.0 899.0 L738.0 901.7 L740.5 903.8 L743.0 905.8 L745.5 907.9 L748.0 908.9 L750.5 909.5 L753.0 908.4 L755.5 905.7 L758.0 903.8 L760.5 904.2 L763.0 905.3 L765.5 905.9 L768.0 905.4 L770.5 905.0 L773.0 904.9 L775.5 904.9 L778.0 904.8 L780.5 905.1 L783.0 905.2 L785.5 905.2 L788.0 904.5 L790.5 903.5 L793.0 903.2 L795.5 901.3 L798.0 899.5 L800.5 899.7 L803.0 900.2 L805.5 900.1 L808.0 899.8 L810.5 899.5 L813.0 900.2 L815.5 900.3 L818.0 899.3 L820.5 899.3 L823.0 899.5 L825.5 899.9 L828.0 900.9 L830.5 901.0 L833.0 900.5 L835.5 901.4 L838.0 902.6 L840.5 902.0 L843.0 900.6 L845.5 900.4 L848.0 901.3 L850.5 901.8 L853.0 900.5 L855.5 898.6 L858.0 898.2 L860.5 898.8 L863.0 898.7 L865.5 897.6 L868.0 897.2 L870.5 898.5 L873.0 900.5 L875.5 902.1 L878.0 902.7 L880.5 902.0 L883.0 901.9 L885.5 902.1 L888.0 900.8 L890.5 899.1 L893.0 897.8 L895.5 897.0 L898.0 897.8 L900.5 899.9 L903.0 900.0 L905.5 898.0 L908.0 897.3 L910.5 898.0 L913.0 898.1 L915.5 898.4 L918.0 899.3 L920.5 900.0 L923.0 899.4 L925.5 897.7 L928.0 896.9 L930.5 897.0 L933.0 898.6 L935.5 900.6 L938.0 900.4 L940.5 898.9 L943.0 898.4 L945.5 900.5 L948.0 903.3 L950.5 903.7 L953.0 902.1 L955.5 899.7 L958.0 898.5 L960.5 900.1 L963.0 901.5 L965.5 900.7 L968.0 898.4 L970.5 896.1 L973.0 894.8 L975.5 895.1 L978.0 896.0 L980.5 896.6 L983.0 896.1 L985.5 895.7 L988.0 896.8 L990.5 898.2 L993.0 898.4 L995.5 898.3 L998.0 898.6 L1000.5 898.9 L1003.0 898.6 L1005.5 897.2 L1008.0 895.4 L1010.5 895.0 L1013.0 895.8 L1015.5 895.7 L1018.0 895.2 L1020.5 894.6 L1023.0 893.6 L1025.5 892.3 L1028.0 890.8 L1030.5 890.8 L1033.0 890.9 L1035.5 891.1 L1038.0 891.7 L1040.5 892.4 L1043.0 892.3 L1045.5 891.8 L1048.0 890.7 L1050.5 890.4 L1053.0 890.7 L1055.5 891.0 L1058.0 892.1 L1060.5 892.3 L1063.0 891.3 L1065.5 890.8 L1068.0 890.0 L1070.5 890.2 L1073.0 891.9 L1075.5 892.0 L1078.0 892.1 L1080.5 893.1 L1083.0 892.2 L1085.5 891.7 L1088.0 892.4 L1090.5 893.2 L1093.0 893.6 L1095.5 892.7 L1098.0 891.4 L1100.5 891.3 L1103.0 892.1 L1105.5 892.7 L1108.0 893.1 L1110.5 893.7 L1113.0 893.5 L1115.5 892.2 L1118.0 891.1 L1120.5 891.0 L1123.0 892.0 L1125.5 893.4 L1128.0 893.7 L1130.5 893.0 L1133.0 892.1 L1135.5 891.4 L1138.0 890.7 L1140.5 890.0 L1143.0 890.4 L1145.5 891.7 L1148.0 891.8 L1150.5 890.6 L1153.0 889.3 L1155.5 889.6 L1158.0 890.6 L1160.5 891.8 L1163.0 892.9 L1165.5 892.8 L1168.0 892.2 L1170.5 890.8 L1173.0 888.7 L1175.5 887.8 L1178.0 889.0 L1180.5 891.1 L1183.0 891.9 L1185.5 890.9 L1188.0 888.7 L1190.5 887.9 L1193.0 888.9 L1195.5 890.4 L1198.0 892.4 L1200.5 893.5 L1203.0 892.8 L1205.5 891.5 L1208.0 890.7 L1210.5 889.1 L1213.0 887.9 L1215.5 889.2 L1218.0 890.7 L1220.5 890.6 L1223.0 891.1 L1225.5 892.2 L1228.0 893.4 L1230.5 895.0 L1233.0 895.0 L1235.5 893.1 L1238.0 892.5 L1240.5 893.8 L1243.0 895.6 L1245.5 897.2 L1248.0 896.8 L1250.5 894.9 L1253.0 893.5 L1255.5 893.9 L1258.0 895.9 L1260.5 897.3 L1263.0 897.8 L1265.5 897.5 L1268.0 896.2 L1270.5 894.4 L1273.0 893.6 L1275.5 893.9 L1278.0 894.3 L1280.5 894.5 L1283.0 895.3 L1285.5 896.2 L1288.0 896.3 L1290.5 896.9 L1293.0 897.4 L1295.5 897.4 L1298.0 896.4 L1300.5 894.9 L1303.0 894.7 L1305.5 896.3 L1308.0 897.9 L1310.5 897.9 L1313.0 896.3 L1315.5 895.0 L1318.0 893.7 L1320.5 893.4 L1323.0 895.0 L1325.5 896.3 L1328.0 895.6 L1330.5 893.1 L1333.0 891.6 L1335.5 891.7 L1338.0 891.3 L1340.5 891.2 L1343.0 891.4 L1345.5 890.7 L1348.0 891.8 L1350.5 893.8 L1353.0 892.7 L1355.5 889.5 L1358.0 888.5 L1360.5 889.6 L1363.0 890.1 L1365.5 889.9 L1368.0 891.1 L1370.5 893.1 L1373.0 893.9 L1375.5 893.8 L1378.0 894.7 L1380.5 894.5 L1383.0 893.3 L1385.5 893.4 L1388.0 893.5 L1390.5 894.0 L1393.0 895.9 L1395.5 897.4 L1398.0 896.7 L1400.5 894.5 L1403.0 893.3 L1405.5 893.3 L1408.0 894.1 L1410.5 895.2 L1413.0 894.8 L1415.5 894.3 L1418.0 893.8 L1420.5 894.2 L1423.0 895.7 L1425.5 896.3 L1428.0 895.4 L1430.5 894.4 L1433.0 893.9 L1435.5 893.6 L1438.0 894.3 L1440.5 895.6 L1443.0 896.8 L1445.5 897.5 L1448.0 897.6 L1450.5 897.5 L1453.0 897.2 L1455.5 896.1 L1458.0 894.7 L1460.5 894.0 L1463.0 893.8 L1465.5 892.8 L1468.0 892.8 L1470.5 893.8 L1473.0 894.2 L1475.5 893.4 L1478.0 891.4 L1480.5 890.2 L1483.0 890.6 L1485.5 891.1 L1488.0 891.9 L1490.5 892.7 L1493.0 893.0 L1495.5 893.8 L1498.0 894.5 L1500.5 894.9 L1503.0 894.9"/>
<path stroke="#2f5aa8" d="M196.0 900.5 L198.5 900.0 L201.0 900.0 L203.5 899.8 L206.0 899.8 L208.5 901.7 L211.0 902.8 L213.5 901.7 L216.0 900.9 L218.5 900.0 L221.0 899.2 L223.5 900.4 L226.0 901.5 L228.5 902.0 L231.0 902.8 L233.5 901.6 L236.0 900.7 L238.5 901.5 L241.0 901.9 L243.5 900.7 L246.0 901.1 L248.5 902.3 L251.0 901.2 L253.5 900.5 L256.0 902.3 L258.5 902.5 L261.0 901.6 L263.5 902.3 L266.0 903.7 L268.5 903.5 L271.0 902.1 L273.5 901.6 L276.0 901.8 L278.5 901.8 L281.0 901.4 L283.5 901.7 L286.0 902.6 L288.5 902.8 L291.0 901.3 L293.5 898.7 L296.0 898.7 L298.5 900.3 L301.0 902.6 L303.5 903.7 L306.0 903.6 L308.5 904.0 L311.0 904.6 L313.5 904.2 L316.0 904.0 L318.5 903.7 L321.0 902.6 L326.0 902.0 L333.3 899.5 L335.1 896.9 L336.3 894.4 L337.2 891.9 L338.0 889.3 L338.7 886.8 L339.1 884.2 L339.5 881.7 L339.8 879.2 L340.1 876.6 L340.3 874.1 L340.5 871.6 L340.7 869.0 L340.9 866.5 L341.0 864.0 L341.2 861.4 L341.3 858.9 L341.4 856.4 L341.5 853.8 L341.7 851.3 L341.8 848.7 L341.9 846.2 L342.0 843.7 L342.1 841.1 L342.2 838.6 L342.3 836.1 L342.4 833.5 L342.5 831.0 L342.6 828.5 L342.7 825.9 L342.8 823.4 L342.9 820.8 L343.0 818.3 L343.2 815.8 L343.3 813.2 L343.4 810.7 L343.5 808.2 L343.6 805.6 L343.7 803.1 L343.8 800.6 L343.9 798.0 L344.0 795.5 L344.1 792.9 L344.2 790.4 L344.3 787.9 L344.4 785.3 L344.5 782.8 L344.6 780.3 L344.7 777.7 L344.8 775.2 L344.9 772.7 L345.0 770.1 L345.1 767.6 L345.2 765.1 L345.3 762.5 L345.4 760.0 L345.5 757.4 L345.6 754.9 L345.7 752.4 L345.8 749.8 L345.9 747.3 L346.0 744.8 L346.2 742.2 L346.3 739.7 L346.4 737.2 L346.5 734.6 L346.6 732.1 L346.7 729.5 L346.8 727.0 L346.9 724.5 L347.0 721.9 L347.1 719.4 L347.2 716.9 L347.3 714.3 L347.4 711.8 L347.5 709.3 L347.5 706.7 L347.6 704.2 L347.7 701.7 L347.8 699.1 L347.9 696.6 L348.0 694.0 L348.1 691.5 L348.2 689.0 L348.3 686.4 L348.4 683.9 L348.5 681.4 L348.6 678.8 L348.7 676.3 L348.8 673.8 L348.9 671.2 L349.0 668.7 L349.1 666.1 L349.2 663.6 L349.3 661.1 L349.4 658.5 L349.5 656.0 L349.6 653.5 L349.7 650.9 L349.8 648.4 L349.9 645.9 L350.0 643.3 L350.1 640.8 L350.2 638.3 L350.2 635.7 L350.3 633.2 L350.4 630.6 L350.5 628.1 L350.6 625.6 L350.7 623.0 L350.8 620.5 L350.9 618.0 L351.0 615.4 L351.1 612.9 L351.2 610.4 L351.3 607.8 L351.4 605.3 L351.5 602.7 L351.6 600.2 L351.7 597.7 L351.8 595.1 L351.9 592.6 L352.0 590.1 L352.1 587.5 L352.2 585.0 L352.3 582.5 L352.4 579.9 L352.5 577.4 L352.6 574.8 L352.6 572.3 L352.7 569.8 L352.8 567.2 L352.9 564.7 L353.0 562.2 L353.1 559.6 L353.2 557.1 L353.3 554.6 L353.4 552.0 L353.5 549.5 L353.6 547.0 L353.7 544.4 L353.8 541.9 L353.9 539.3 L354.0 536.8 L354.1 534.3 L354.2 531.7 L354.3 529.2 L354.4 526.7 L354.5 524.1 L354.6 521.6 L354.7 519.1 L354.9 516.5 L355.0 514.0 L355.1 511.4 L355.2 508.9 L355.3 506.4 L355.4 503.8 L355.5 501.3 L355.6 498.8 L355.7 496.2 L355.8 493.7 L355.9 491.2 L356.0 488.6 L356.1 486.1 L356.2 483.6 L356.3 481.0 L356.5 478.5 L356.6 475.9 L356.7 473.4 L356.8 470.9 L356.9 468.3 L357.0 465.8 L357.1 463.3 L357.2 460.7 L357.3 458.2 L357.5 455.7 L357.6 453.1 L357.7 450.6 L357.8 448.0 L357.9 445.5 L358.0 443.0 L358.1 440.4 L358.2 437.9 L358.4 435.4 L358.5 432.8 L358.6 430.3 L358.7 427.8 L358.8 425.2 L358.9 422.7 L359.0 420.2 L359.1 417.6 L359.3 415.1 L359.4 412.5 L359.5 410.0 L359.6 407.5 L359.7 404.9 L359.8 402.4 L359.9 399.9 L360.0 397.3 L360.1 394.8 L360.2 392.3 L360.4 389.7 L360.5 387.2 L360.6 384.6 L360.7 382.1 L360.8 379.6 L360.9 377.0 L361.0 374.5 L361.1 372.0 L361.2 369.4 L361.3 366.9 L361.4 364.4 L361.5 361.8 L361.6 359.3 L361.7 356.7 L361.8 354.2 L361.9 351.7 L362.0 349.1 L362.1 346.6 L362.2 344.1 L362.3 341.5 L362.4 339.0 L362.5 336.5 L362.6 333.9 L362.7 331.4 L362.8 328.9 L362.9 326.3 L363.0 323.8 L363.1 321.2 L363.1 318.7 L363.2 316.2 L363.3 313.6 L363.4 311.1 L363.5 308.6 L363.6 306.0 L363.7 303.5 L363.8 301.0 L363.9 298.4 L364.0 295.9 L364.1 293.3 L364.2 290.8 L364.3 288.3 L364.4 285.7 L364.5 283.2 L364.6 280.7 L364.7 278.1 L364.8 275.6 L364.9 273.1 L365.0 270.5 L365.1 268.0 L365.2 265.5 L365.3 262.9 L365.4 260.4 L365.5 257.8 L365.6 255.3 L365.7 252.8 L365.8 250.2 L365.9 247.7 L366.0 245.2 L366.1 242.6 L366.2 240.1 L366.4 237.6 L366.5 235.0 L366.6 232.5 L366.7 229.9 L366.8 227.4 L367.0 224.9 L367.1 222.3 L367.2 219.8 L367.3 217.3 L367.5 214.7 L367.6 212.2 L367.7 209.7 L367.8 207.1 L368.0 204.6 L368.1 202.1 L368.2 199.5 L368.3 197.0 L368.5 194.4 L368.6 191.9 L368.7 189.4 L368.9 186.8 L369.0 184.3 L369.2 181.8 L369.3 179.2 L369.5 176.7 L369.6 174.2 L369.8 171.6 L369.9 169.1 L370.1 166.5 L370.3 164.0 L370.4 161.5 L370.6 158.9 L370.8 156.4 L371.0 153.9 L371.2 151.3 L371.4 148.8 L371.6 146.3 L371.8 143.7 L372.0 141.2 L372.2 138.6 L372.4 136.1 L372.6 133.6 L372.9 131.0 L373.2 128.5 L373.5 126.0 L373.8 123.4 L374.1 120.9 L374.5 118.4 L374.9 115.8 L375.3 113.3 L375.8 110.8 L376.4 108.2 L377.0 105.7 L377.7 103.1 L378.4 100.6 L379.3 98.1 L380.4 95.5 L381.6 93.0 L384.6 95.2 L387.1 96.4 L389.6 96.7 L392.1 97.0 L394.6 97.5 L397.1 97.0 L399.6 96.5 L402.1 96.1 L404.6 96.1 L407.1 96.9 L409.6 97.4 L412.1 98.1 L414.6 98.6 L417.1 97.2 L419.6 95.3 L422.1 94.5 L424.6 94.9 L427.1 96.3 L429.6 96.5 L432.1 94.3 L434.6 91.9 L437.1 91.5 L439.6 92.6 L442.1 93.6 L444.6 94.2 L447.1 94.2 L449.6 93.7 L452.1 93.7 L454.6 94.1 L457.1 93.3 L459.6 91.7 L462.1 91.0 L464.6 89.8 L467.1 88.4 L469.6 87.7 L472.1 87.1 L474.6 86.3 L477.1 85.8 L479.6 85.4 L482.1 84.6 L484.6 83.8 L487.1 84.0 L489.6 83.7 L492.1 83.5 L494.6 83.5 L497.1 84.5 L499.6 86.3 L502.1 86.8 L504.6 86.5 L507.1 86.5 L509.6 87.2 L512.1 88.1 L514.6 87.6 L517.1 87.3 L519.6 87.6 L522.1 87.8 L524.6 88.1 L527.1 89.2 L529.6 90.2 L532.1 90.0 L534.6 90.3 L537.1 91.0 L539.6 90.9 L542.1 90.8 L544.6 90.5 L547.1 89.6 L549.6 88.2 L552.1 88.8 L554.6 90.4 L557.1 90.4 L559.6 89.4 L562.1 88.9 L564.6 88.8 L567.1 88.9 L569.6 89.6 L572.1 89.9 L574.6 88.9 L577.1 87.4 L579.6 85.9 L582.1 85.6 L584.6 86.1 L587.1 86.7 L589.6 85.9 L592.1 85.2 L594.6 84.9 L597.1 84.0 L599.6 83.0 L602.1 83.5 L604.6 84.8 L607.1 85.6 L609.6 85.5 L612.1 85.5 L614.6 85.4 L617.1 84.5 L619.6 83.6 L622.1 83.5 L624.6 83.6 L627.1 82.9 L629.6 81.9 L632.1 81.7 L634.6 82.6 L637.1 83.3 L639.6 82.9 L642.1 83.5 L644.6 84.9 L647.1 86.2 L649.6 86.2 L652.1 85.9 L654.6 87.0 L657.1 87.8 L659.6 88.7 L662.1 90.0 L664.6 91.4 L667.1 92.3 L669.6 93.6 L672.0 93.9 L673.4 96.4 L674.7 99.0 L675.6 101.5 L676.1 104.0 L676.5 106.6 L676.8 109.1 L677.0 111.6 L677.3 114.1 L677.5 116.7 L677.6 119.2 L677.8 121.7 L678.0 124.3 L678.2 126.8 L678.3 129.3 L678.5 131.9 L678.6 134.4 L678.8 136.9 L678.9 139.4 L679.0 142.0 L679.2 144.5 L679.3 147.0 L679.4 149.6 L679.5 152.1 L679.7 154.6 L679.8 157.2 L679.9 159.7 L680.0 162.2 L680.2 164.7 L680.3 167.3 L680.5 169.8 L680.6 172.3 L680.7 174.9 L680.9 177.4 L681.0 179.9 L681.1 182.5 L681.3 185.0 L681.4 187.5 L681.5 190.0 L681.6 192.6 L681.7 195.1 L681.8 197.6 L682.0 200.2 L682.1 202.7 L682.2 205.2 L682.3 207.8 L682.4 210.3 L682.5 212.8 L682.6 215.3 L682.7 217.9 L682.8 220.4 L682.8 222.9 L682.9 225.5 L683.0 228.0 L683.1 230.5 L683.2 233.1 L683.3 235.6 L683.4 238.1 L683.5 240.6 L683.6 243.2 L683.6 245.7 L683.7 248.2 L683.8 250.8 L683.9 253.3 L684.0 255.8 L684.1 258.4 L684.1 260.9 L684.2 263.4 L684.3 265.9 L684.4 268.5 L684.4 271.0 L684.5 273.5 L684.6 276.1 L684.7 278.6 L684.7 281.1 L684.8 283.7 L684.9 286.2 L685.0 288.7 L685.0 291.2 L685.1 293.8 L685.2 296.3 L685.3 298.8 L685.3 301.4 L685.4 303.9 L685.5 306.4 L685.6 309.0 L685.6 311.5 L685.7 314.0 L685.8 316.5 L685.8 319.1 L685.9 321.6 L686.0 324.1 L686.0 326.7 L686.1 329.2 L686.1 331.7 L686.2 334.3 L686.3 336.8 L686.3 339.3 L686.4 341.8 L686.4 344.4 L686.5 346.9 L686.6 349.4 L686.6 352.0 L686.7 354.5 L686.7 357.0 L686.8 359.6 L686.8 362.1 L686.9 364.6 L687.0 367.2 L687.0 369.7 L687.1 372.2 L687.1 374.7 L687.2 377.3 L687.2 379.8 L687.3 382.3 L687.3 384.9 L687.4 387.4 L687.5 389.9 L687.5 392.5 L687.6 395.0 L687.6 397.5 L687.7 400.0 L687.7 402.6 L687.8 405.1 L687.8 407.6 L687.9 410.2 L687.9 412.7 L688.0 415.2 L688.1 417.8 L688.1 420.3 L688.2 422.8 L688.2 425.3 L688.3 427.9 L688.3 430.4 L688.4 432.9 L688.4 435.5 L688.5 438.0 L688.6 440.5 L688.6 443.1 L688.7 445.6 L688.7 448.1 L688.8 450.6 L688.9 453.2 L688.9 455.7 L689.0 458.2 L689.0 460.8 L689.1 463.3 L689.2 465.8 L689.2 468.4 L689.3 470.9 L689.4 473.4 L689.4 475.9 L689.5 478.5 L689.6 481.0 L689.6 483.5 L689.7 486.1 L689.8 488.6 L689.8 491.1 L689.9 493.7 L690.0 496.2 L690.0 498.7 L690.1 501.2 L690.2 503.8 L690.3 506.3 L690.4 508.8 L690.4 511.4 L690.5 513.9 L690.6 516.4 L690.7 519.0 L690.8 521.5 L690.8 524.0 L690.9 526.5 L691.0 529.1 L691.1 531.6 L691.2 534.1 L691.3 536.7 L691.3 539.2 L691.4 541.7 L691.5 544.3 L691.6 546.8 L691.7 549.3 L691.8 551.8 L691.9 554.4 L691.9 556.9 L692.0 559.4 L692.1 562.0 L692.2 564.5 L692.3 567.0 L692.4 569.6 L692.5 572.1 L692.6 574.6 L692.7 577.1 L692.8 579.7 L692.9 582.2 L693.0 584.7 L693.1 587.3 L693.2 589.8 L693.3 592.3 L693.4 594.9 L693.5 597.4 L693.6 599.9 L693.7 602.4 L693.8 605.0 L693.9 607.5 L694.0 610.0 L694.1 612.6 L694.2 615.1 L694.3 617.6 L694.4 620.2 L694.5 622.7 L694.6 625.2 L694.7 627.7 L694.8 630.3 L695.0 632.8 L695.1 635.3 L695.2 637.9 L695.3 640.4 L695.4 642.9 L695.6 645.5 L695.7 648.0 L695.8 650.5 L695.9 653.1 L696.1 655.6 L696.2 658.1 L696.3 660.6 L696.4 663.2 L696.6 665.7 L696.7 668.2 L696.9 670.8 L697.0 673.3 L697.1 675.8 L697.3 678.4 L697.4 680.9 L697.6 683.4 L697.7 685.9 L697.8 688.5 L698.0 691.0 L698.1 693.5 L698.3 696.1 L698.5 698.6 L698.6 701.1 L698.8 703.7 L698.9 706.2 L699.1 708.7 L699.2 711.2 L699.4 713.8 L699.6 716.3 L699.7 718.8 L699.9 721.4 L700.1 723.9 L700.3 726.4 L700.4 729.0 L700.6 731.5 L700.8 734.0 L701.0 736.5 L701.2 739.1 L701.4 741.6 L701.6 744.1 L701.8 746.7 L702.1 749.2 L702.3 751.7 L702.6 754.3 L702.9 756.8 L703.2 759.3 L703.5 761.8 L703.8 764.4 L704.1 766.9 L704.4 769.4 L704.7 772.0 L705.0 774.5 L705.4 777.0 L705.7 779.6 L706.0 782.1 L706.4 784.6 L706.7 787.1 L707.1 789.7 L707.4 792.2 L707.8 794.7 L708.1 797.3 L708.4 799.8 L708.8 802.3 L709.1 804.9 L709.4 807.4 L709.7 809.9 L710.0 812.4 L710.3 815.0 L710.6 817.5 L710.9 820.0 L711.2 822.6 L711.5 825.1 L711.8 827.6 L712.1 830.2 L712.4 832.7 L712.7 835.2 L713.0 837.7 L713.3 840.3 L713.6 842.8 L714.0 845.3 L714.4 847.9 L714.7 850.4 L715.2 852.9 L715.6 855.5 L716.0 858.0 L716.5 860.5 L716.9 863.0 L717.4 865.6 L717.9 868.1 L718.4 870.6 L718.8 873.2 L719.3 875.7 L719.7 878.2 L720.2 880.8 L720.6 883.3 L721.2 885.8 L721.9 888.3 L722.7 890.9 L723.7 893.4 L725.1 895.9 L726.9 898.5 L735.0 901.0 L738.0 900.3 L740.5 899.4 L743.0 899.4 L745.5 899.1 L748.0 898.1 L750.5 897.7 L753.0 897.8 L755.5 897.5 L758.0 896.2 L760.5 895.4 L763.0 896.3 L765.5 897.7 L768.0 900.0 L770.5 902.1 L773.0 901.9 L775.5 899.7 L778.0 897.7 L780.5 897.8 L783.0 898.7 L785.5 899.5 L788.0 899.5 L790.5 899.5 L793.0 900.2 L795.5 901.8 L798.0 902.5 L800.5 902.3 L803.0 902.5 L805.5 903.6 L808.0 904.1 L810.5 903.4 L813.0 902.6 L815.5 901.6 L818.0 901.6 L820.5 902.4 L823.0 902.1 L825.5 901.3 L828.0 900.3 L830.5 898.8 L833.0 898.3 L835.5 898.8 L838.0 899.3 L840.5 900.2 L843.0 902.1 L845.5 902.9 L848.0 901.5 L850.5 900.8 L853.0 901.2 L855.5 901.5 L858.0 901.4 L860.5 900.8 L863.0 899.6 L865.5 899.9 L868.0 901.4 L870.5 901.4 L873.0 899.6 L875.5 898.0 L878.0 897.8 L880.5 899.1 L883.0 900.8 L885.5 900.1 L888.0 899.4 L890.5 900.0 L893.0 900.2 L895.5 900.8 L898.0 902.5 L900.5 903.7 L903.0 903.7 L905.5 903.7 L908.0 903.6 L910.5 902.9 L913.0 902.9 L915.5 904.3 L918.0 905.9 L920.5 905.9 L923.0 904.6 L925.5 902.8 L928.0 901.5 L930.5 901.7 L933.0 903.0 L935.5 902.5 L938.0 901.9 L940.5 902.1 L943.0 903.1 L945.5 904.5 L948.0 905.3 L950.5 905.5 L953.0 904.8 L955.5 902.7 L958.0 900.1 L960.5 898.9 L963.0 899.6 L965.5 901.0 L968.0 902.1 L970.5 903.1 L973.0 903.6 L975.5 902.9 L978.0 901.3 L980.5 900.8 L983.0 901.2 L985.5 901.4 L988.0 901.5 L990.5 901.0 L993.0 899.8 L995.5 898.9 L998.0 899.1 L1000.5 899.8 L1003.0 900.2 L1005.5 900.8 L1008.0 901.8 L1010.5 901.3 L1013.0 900.5 L1015.5 899.5 L1018.0 898.0 L1020.5 897.4 L1023.0 897.8 L1025.5 897.8 L1028.0 897.0 L1030.5 895.7 L1033.0 893.5 L1035.5 892.6 L1038.0 894.2 L1040.5 894.9 L1043.0 894.1 L1045.5 892.9 L1048.0 892.1 L1050.5 892.9 L1053.0 893.7 L1055.5 894.0 L1058.0 894.9 L1060.5 895.1 L1063.0 894.7 L1065.5 895.6 L1068.0 897.5 L1070.5 898.3 L1073.0 897.4 L1075.5 897.4 L1078.0 899.1 L1080.5 899.7 L1083.0 899.1 L1085.5 898.0 L1088.0 897.1 L1090.5 896.9 L1093.0 896.6 L1095.5 897.3 L1098.0 897.7 L1100.5 896.6 L1103.0 895.1 L1105.5 894.1 L1108.0 894.4 L1110.5 895.8 L1113.0 896.8 L1115.5 895.6 L1118.0 893.8 L1120.5 894.5 L1123.0 895.5 L1125.5 894.9 L1128.0 895.5 L1130.5 897.5 L1133.0 899.4 L1135.5 900.5 L1138.0 900.6 L1140.5 900.1 L1143.0 900.3 L1145.5 900.8 L1148.0 899.6 L1150.5 897.5 L1153.0 897.4 L1155.5 898.8 L1158.0 899.3 L1160.5 898.3 L1163.0 897.9 L1165.5 898.5 L1168.0 899.6 L1170.5 900.2 L1173.0 900.4 L1175.5 899.5 L1178.0 898.2 L1180.5 897.9 L1183.0 898.4 L1185.5 898.0 L1188.0 897.1 L1190.5 897.4 L1193.0 897.9 L1195.5 897.0 L1198.0 895.0 L1200.5 895.0 L1203.0 896.6 L1205.5 896.9 L1208.0 896.2 L1210.5 896.1 L1213.0 895.8 L1215.5 896.2 L1218.0 897.4 L1220.5 898.5 L1223.0 899.7 L1225.5 900.2 L1228.0 898.8 L1230.5 896.7 L1233.0 895.8 L1235.5 896.3 L1238.0 897.2 L1240.5 896.7 L1243.0 895.4 L1245.5 894.8 L1248.0 894.3 L1250.5 894.3 L1253.0 894.2 L1255.5 893.7 L1258.0 893.9 L1260.5 894.5 L1263.0 894.4 L1265.5 894.0 L1268.0 894.2 L1270.5 894.7 L1273.0 894.5 L1275.5 893.5 L1278.0 892.3 L1280.5 891.9 L1283.0 893.0 L1285.5 893.7 L1288.0 893.3 L1290.5 893.5 L1293.0 894.4 L1295.5 894.2 L1298.0 892.2 L1300.5 891.0 L1303.0 891.7 L1305.5 893.4 L1308.0 894.2 L1310.5 894.3 L1313.0 894.1 L1315.5 894.4 L1318.0 894.3 L1320.5 894.0 L1323.0 893.7 L1325.5 893.5 L1328.0 893.6 L1330.5 894.7 L1333.0 895.6 L1335.5 895.4 L1338.0 895.2 L1340.5 896.7 L1343.0 899.9 L1345.5 902.2 L1348.0 902.3 L1350.5 902.3 L1353.0 902.8 L1355.5 902.4 L1358.0 901.3 L1360.5 899.9 L1363.0 898.3 L1365.5 898.2 L1368.0 900.0 L1370.5 901.9 L1373.0 902.4 L1375.5 901.3 L1378.0 900.1 L1380.5 899.1 L1383.0 898.7 L1385.5 899.0 L1388.0 899.6 L1390.5 901.2 L1393.0 902.9 L1395.5 904.0 L1398.0 902.7 L1400.5 902.2 L1403.0 903.1 L1405.5 902.6 L1408.0 902.4 L1410.5 903.1 L1413.0 902.3 L1415.5 900.6 L1418.0 900.4 L1420.5 901.3 L1423.0 901.4 L1425.5 900.9 L1428.0 900.0 L1430.5 897.9 L1433.0 896.8 L1435.5 898.0 L1438.0 899.2 L1440.5 899.0 L1443.0 897.9 L1445.5 896.8 L1448.0 896.4 L1450.5 896.7 L1453.0 897.0 L1455.5 897.5 L1458.0 898.3 L1460.5 899.5 L1463.0 899.6 L1465.5 898.5 L1468.0 897.9 L1470.5 897.9 L1473.0 898.4 L1475.5 899.7 L1478.0 901.3 L1480.5 902.4 L1483.0 902.5 L1485.5 901.4 L1488.0 900.8 L1490.5 901.3 L1493.0 901.6 L1495.5 901.5 L1498.0 901.2 L1500.5 901.2 L1503.0 900.4"/>
<path stroke="#72c6d2" d="M196.0 896.9 L198.5 897.0 L201.0 896.8 L203.5 894.7 L206.0 892.7 L208.5 894.3 L211.0 898.1 L213.5 900.1 L216.0 899.2 L218.5 897.9 L221.0 897.9 L223.5 898.2 L226.0 897.7 L228.5 897.9 L231.0 899.0 L233.5 899.3 L236.0 899.1 L238.5 898.4 L241.0 896.8 L243.5 896.1 L246.0 897.0 L248.5 898.4 L251.0 900.0 L253.5 901.4 L256.0 901.4 L258.5 901.2 L261.0 901.1 L263.5 900.8 L266.0 900.4 L268.5 900.5 L271.0 900.8 L273.5 900.4 L276.0 899.8 L278.5 898.6 L281.0 898.3 L283.5 898.1 L286.0 896.7 L288.5 897.0 L291.0 898.9 L293.5 900.0 L296.0 899.4 L298.5 897.6 L301.0 896.5 L303.5 896.8 L306.0 896.3 L308.5 895.4 L311.0 896.4 L313.5 897.3 L316.0 896.9 L318.5 896.9 L321.0 897.7 L326.0 898.0 L333.3 895.5 L335.1 892.9 L336.3 890.4 L337.2 887.9 L338.0 885.4 L338.7 882.8 L339.1 880.3 L339.5 877.8 L339.8 875.3 L340.1 872.7 L340.3 870.2 L340.5 867.7 L340.7 865.1 L340.9 862.6 L341.0 860.1 L341.2 857.6 L341.3 855.0 L341.4 852.5 L341.5 850.0 L341.7 847.5 L341.8 844.9 L341.9 842.4 L342.0 839.9 L342.1 837.3 L342.2 834.8 L342.3 832.3 L342.4 829.8 L342.5 827.2 L342.6 824.7 L342.7 822.2 L342.8 819.7 L342.9 817.1 L343.0 814.6 L343.2 812.1 L343.3 809.5 L343.4 807.0 L343.5 804.5 L343.6 802.0 L343.7 799.4 L343.8 796.9 L343.9 794.4 L344.0 791.9 L344.1 789.3 L344.2 786.8 L344.3 784.3 L344.4 781.7 L344.5 779.2 L344.6 776.7 L344.7 774.2 L344.8 771.6 L344.9 769.1 L345.0 766.6 L345.1 764.1 L345.2 761.5 L345.3 759.0 L345.4 756.5 L345.5 753.9 L345.6 751.4 L345.7 748.9 L345.8 746.4 L345.9 743.8 L346.0 741.3 L346.2 738.8 L346.3 736.3 L346.4 733.7 L346.5 731.2 L346.6 728.7 L346.7 726.1 L346.8 723.6 L346.9 721.1 L347.0 718.6 L347.1 716.0 L347.2 713.5 L347.3 711.0 L347.4 708.5 L347.5 705.9 L347.5 703.4 L347.6 700.9 L347.7 698.3 L347.8 695.8 L347.9 693.3 L348.0 690.8 L348.1 688.2 L348.2 685.7 L348.3 683.2 L348.4 680.7 L348.5 678.1 L348.6 675.6 L348.7 673.1 L348.8 670.5 L348.9 668.0 L349.0 665.5 L349.1 663.0 L349.2 660.4 L349.3 657.9 L349.4 655.4 L349.5 652.9 L349.6 650.3 L349.7 647.8 L349.8 645.3 L349.9 642.7 L350.0 640.2 L350.1 637.7 L350.2 635.2 L350.2 632.6 L350.3 630.1 L350.4 627.6 L350.5 625.1 L350.6 622.5 L350.7 620.0 L350.8 617.5 L350.9 614.9 L351.0 612.4 L351.1 609.9 L351.2 607.4 L351.3 604.8 L351.4 602.3 L351.5 599.8 L351.6 597.3 L351.7 594.7 L351.8 592.2 L351.9 589.7 L352.0 587.1 L352.1 584.6 L352.2 582.1 L352.3 579.6 L352.4 577.0 L352.5 574.5 L352.6 572.0 L352.6 569.5 L352.7 566.9 L352.8 564.4 L352.9 561.9 L353.0 559.3 L353.1 556.8 L353.2 554.3 L353.3 551.8 L353.4 549.2 L353.5 546.7 L353.6 544.2 L353.7 541.7 L353.8 539.1 L353.9 536.6 L354.0 534.1 L354.1 531.5 L354.2 529.0 L354.3 526.5 L354.4 524.0 L354.5 521.4 L354.6 518.9 L354.7 516.4 L354.9 513.9 L355.0 511.3 L355.1 508.8 L355.2 506.3 L355.3 503.7 L355.4 501.2 L355.5 498.7 L355.6 496.2 L355.7 493.6 L355.8 491.1 L355.9 488.6 L356.0 486.1 L356.1 483.5 L356.2 481.0 L356.3 478.5 L356.5 475.9 L356.6 473.4 L356.7 470.9 L356.8 468.4 L356.9 465.8 L357.0 463.3 L357.1 460.8 L357.2 458.3 L357.3 455.7 L357.5 453.2 L357.6 450.7 L357.7 448.1 L357.8 445.6 L357.9 443.1 L358.0 440.6 L358.1 438.0 L358.2 435.5 L358.4 433.0 L358.5 430.5 L358.6 427.9 L358.7 425.4 L358.8 422.9 L358.9 420.3 L359.0 417.8 L359.1 415.3 L359.3 412.8 L359.4 410.2 L359.5 407.7 L359.6 405.2 L359.7 402.7 L359.8 400.1 L359.9 397.6 L360.0 395.1 L360.1 392.5 L360.2 390.0 L360.4 387.5 L360.5 385.0 L360.6 382.4 L360.7 379.9 L360.8 377.4 L360.9 374.9 L361.0 372.3 L361.1 369.8 L361.2 367.3 L361.3 364.7 L361.4 362.2 L361.5 359.7 L361.6 357.2 L361.7 354.6 L361.8 352.1 L361.9 349.6 L362.0 347.1 L362.1 344.5 L362.2 342.0 L362.3 339.5 L362.4 336.9 L362.5 334.4 L362.6 331.9 L362.7 329.4 L362.8 326.8 L362.9 324.3 L363.0 321.8 L363.1 319.3 L363.1 316.7 L363.2 314.2 L363.3 311.7 L363.4 309.1 L363.5 306.6 L363.6 304.1 L363.7 301.6 L363.8 299.0 L363.9 296.5 L364.0 294.0 L364.1 291.5 L364.2 288.9 L364.3 286.4 L364.4 283.9 L364.5 281.3 L364.6 278.8 L364.7 276.3 L364.8 273.8 L364.9 271.2 L365.0 268.7 L365.1 266.2 L365.2 263.7 L365.3 261.1 L365.4 258.6 L365.5 256.1 L365.6 253.5 L365.7 251.0 L365.8 248.5 L365.9 246.0 L366.0 243.4 L366.1 240.9 L366.2 238.4 L366.4 235.9 L366.5 233.3 L366.6 230.8 L366.7 228.3 L366.8 225.7 L367.0 223.2 L367.1 220.7 L367.2 218.2 L367.3 215.6 L367.5 213.1 L367.6 210.6 L367.7 208.1 L367.8 205.5 L368.0 203.0 L368.1 200.5 L368.2 197.9 L368.3 195.4 L368.5 192.9 L368.6 190.4 L368.7 187.8 L368.9 185.3 L369.0 182.8 L369.2 180.3 L369.3 177.7 L369.5 175.2 L369.6 172.7 L369.8 170.1 L369.9 167.6 L370.1 165.1 L370.3 162.6 L370.4 160.0 L370.6 157.5 L370.8 155.0 L371.0 152.5 L371.2 149.9 L371.4 147.4 L371.6 144.9 L371.8 142.3 L372.0 139.8 L372.2 137.3 L372.4 134.8 L372.6 132.2 L372.9 129.7 L373.2 127.2 L373.5 124.7 L373.8 122.1 L374.1 119.6 L374.5 117.1 L374.9 114.5 L375.3 112.0 L375.8 109.5 L376.4 107.0 L377.0 104.4 L377.7 101.9 L378.4 99.4 L379.3 96.9 L380.4 94.3 L381.6 91.8 L384.6 94.6 L387.1 95.9 L389.6 95.5 L392.1 94.3 L394.6 94.3 L397.1 94.4 L399.6 95.5 L402.1 96.4 L404.6 96.6 L407.1 96.1 L409.6 95.8 L412.1 96.0 L414.6 96.0 L417.1 97.1 L419.6 98.9 L422.1 99.3 L424.6 98.5 L427.1 97.6 L429.6 96.2 L432.1 94.7 L434.6 93.2 L437.1 92.5 L439.6 92.6 L442.1 92.5 L444.6 91.7 L447.1 91.2 L449.6 90.1 L452.1 88.5 L454.6 88.2 L457.1 89.6 L459.6 91.2 L462.1 92.0 L464.6 92.1 L467.1 91.7 L469.6 91.1 L472.1 90.0 L474.6 88.9 L477.1 88.4 L479.6 87.2 L482.1 86.0 L484.6 85.7 L487.1 86.0 L489.6 86.4 L492.1 86.7 L494.6 86.9 L497.1 86.2 L499.6 85.0 L502.1 85.9 L504.6 87.4 L507.1 86.7 L509.6 85.6 L512.1 85.6 L514.6 86.3 L517.1 87.6 L519.6 88.2 L522.1 87.5 L524.6 87.7 L527.1 88.9 L529.6 89.1 L532.1 88.8 L534.6 88.8 L537.1 89.1 L539.6 89.2 L542.1 89.7 L544.6 89.7 L547.1 89.1 L549.6 89.0 L552.1 89.1 L554.6 88.4 L557.1 87.3 L559.6 86.3 L562.1 86.1 L564.6 86.9 L567.1 87.3 L569.6 86.6 L572.1 85.4 L574.6 84.1 L577.1 82.8 L579.6 82.6 L582.1 82.8 L584.6 83.1 L587.1 83.1 L589.6 82.5 L592.1 82.5 L594.6 83.1 L597.1 82.6 L599.6 81.6 L602.1 81.0 L604.6 81.8 L607.1 83.2 L609.6 83.7 L612.1 83.5 L614.6 83.9 L617.1 84.2 L619.6 83.7 L622.1 83.5 L624.6 82.7 L627.1 80.4 L629.6 78.3 L632.1 77.4 L634.6 77.0 L637.1 77.1 L639.6 77.4 L642.1 77.4 L644.6 77.6 L647.1 78.1 L649.6 78.6 L652.1 79.3 L654.6 79.9 L657.1 80.4 L659.6 81.2 L662.1 82.8 L664.6 86.2 L667.1 89.5 L669.6 92.1 L672.0 92.7 L673.4 95.2 L674.7 97.8 L675.6 100.3 L676.1 102.9 L676.5 105.4 L676.8 108.0 L677.0 110.5 L677.3 113.1 L677.5 115.6 L677.6 118.2 L677.8 120.7 L678.0 123.3 L678.2 125.8 L678.3 128.4 L678.5 130.9 L678.6 133.5 L678.8 136.0 L678.9 138.6 L679.0 141.1 L679.2 143.7 L679.3 146.2 L679.4 148.8 L679.5 151.3 L679.7 153.9 L679.8 156.4 L679.9 159.0 L680.0 161.5 L680.2 164.1 L680.3 166.6 L680.5 169.2 L680.6 171.7 L680.7 174.3 L680.9 176.8 L681.0 179.4 L681.1 181.9 L681.3 184.5 L681.4 187.0 L681.5 189.6 L681.6 192.1 L681.7 194.7 L681.8 197.2 L682.0 199.8 L682.1 202.3 L682.2 204.9 L682.3 207.4 L682.4 210.0 L682.5 212.5 L682.6 215.1 L682.7 217.6 L682.8 220.2 L682.8 222.7 L682.9 225.3 L683.0 227.8 L683.1 230.4 L683.2 232.9 L683.3 235.5 L683.4 238.0 L683.5 240.6 L683.6 243.1 L683.6 245.7 L683.7 248.2 L683.8 250.8 L683.9 253.3 L684.0 255.9 L684.1 258.4 L684.1 261.0 L684.2 263.5 L684.3 266.1 L684.4 268.6 L684.4 271.2 L684.5 273.7 L684.6 276.3 L684.7 278.8 L684.7 281.4 L684.8 283.9 L684.9 286.5 L685.0 289.0 L685.0 291.6 L685.1 294.1 L685.2 296.7 L685.3 299.2 L685.3 301.8 L685.4 304.3 L685.5 306.9 L685.6 309.4 L685.6 312.0 L685.7 314.5 L685.8 317.1 L685.8 319.6 L685.9 322.2 L686.0 324.7 L686.0 327.3 L686.1 329.8 L686.1 332.4 L686.2 334.9 L686.3 337.5 L686.3 340.0 L686.4 342.6 L686.4 345.1 L686.5 347.7 L686.6 350.2 L686.6 352.8 L686.7 355.3 L686.7 357.9 L686.8 360.4 L686.8 363.0 L686.9 365.5 L687.0 368.0 L687.0 370.6 L687.1 373.1 L687.1 375.7 L687.2 378.2 L687.2 380.8 L687.3 383.3 L687.3 385.9 L687.4 388.4 L687.5 391.0 L687.5 393.5 L687.6 396.1 L687.6 398.6 L687.7 401.2 L687.7 403.7 L687.8 406.3 L687.8 408.8 L687.9 411.4 L687.9 413.9 L688.0 416.5 L688.1 419.0 L688.1 421.6 L688.2 424.1 L688.2 426.7 L688.3 429.2 L688.3 431.8 L688.4 434.3 L688.4 436.9 L688.5 439.4 L688.6 442.0 L688.6 444.5 L688.7 447.1 L688.7 449.6 L688.8 452.2 L688.9 454.7 L688.9 457.3 L689.0 459.8 L689.0 462.4 L689.1 464.9 L689.2 467.5 L689.2 470.0 L689.3 472.6 L689.4 475.1 L689.4 477.7 L689.5 480.2 L689.6 482.8 L689.6 485.3 L689.7 487.9 L689.8 490.4 L689.8 493.0 L689.9 495.5 L690.0 498.1 L690.0 500.6 L690.1 503.2 L690.2 505.7 L690.3 508.3 L690.4 510.8 L690.4 513.4 L690.5 515.9 L690.6 518.5 L690.7 521.0 L690.8 523.6 L690.8 526.1 L690.9 528.7 L691.0 531.2 L691.1 533.8 L691.2 536.3 L691.3 538.9 L691.3 541.4 L691.4 544.0 L691.5 546.5 L691.6 549.1 L691.7 551.6 L691.8 554.2 L691.9 556.7 L691.9 559.3 L692.0 561.8 L692.1 564.4 L692.2 566.9 L692.3 569.5 L692.4 572.0 L692.5 574.6 L692.6 577.1 L692.7 579.7 L692.8 582.2 L692.9 584.8 L693.0 587.3 L693.1 589.9 L693.2 592.4 L693.3 595.0 L693.4 597.5 L693.5 600.1 L693.6 602.6 L693.7 605.2 L693.8 607.7 L693.9 610.3 L694.0 612.8 L694.1 615.4 L694.2 617.9 L694.3 620.5 L694.4 623.0 L694.5 625.6 L694.6 628.1 L694.7 630.7 L694.8 633.2 L695.0 635.7 L695.1 638.3 L695.2 640.8 L695.3 643.4 L695.4 645.9 L695.6 648.5 L695.7 651.0 L695.8 653.6 L695.9 656.1 L696.1 658.7 L696.2 661.2 L696.3 663.8 L696.4 666.3 L696.6 668.9 L696.7 671.4 L696.9 674.0 L697.0 676.5 L697.1 679.1 L697.3 681.6 L697.4 684.2 L697.6 686.7 L697.7 689.3 L697.8 691.8 L698.0 694.4 L698.1 696.9 L698.3 699.5 L698.5 702.0 L698.6 704.6 L698.8 707.1 L698.9 709.7 L699.1 712.2 L699.2 714.8 L699.4 717.3 L699.6 719.9 L699.7 722.4 L699.9 725.0 L700.1 727.5 L700.3 730.1 L700.4 732.6 L700.6 735.2 L700.8 737.7 L701.0 740.3 L701.2 742.8 L701.4 745.4 L701.6 747.9 L701.8 750.5 L702.1 753.0 L702.3 755.6 L702.6 758.1 L702.9 760.7 L703.2 763.2 L703.5 765.8 L703.8 768.3 L704.1 770.9 L704.4 773.4 L704.7 776.0 L705.0 778.5 L705.4 781.1 L705.7 783.6 L706.0 786.2 L706.4 788.7 L706.7 791.3 L707.1 793.8 L707.4 796.4 L707.8 798.9 L708.1 801.5 L708.4 804.0 L708.8 806.6 L709.1 809.1 L709.4 811.7 L709.7 814.2 L710.0 816.8 L710.3 819.3 L710.6 821.9 L710.9 824.4 L711.2 827.0 L711.5 829.5 L711.8 832.1 L712.1 834.6 L712.4 837.2 L712.7 839.7 L713.0 842.3 L713.3 844.8 L713.6 847.4 L714.0 849.9 L714.4 852.5 L714.7 855.0 L715.2 857.6 L715.6 860.1 L716.0 862.7 L716.5 865.2 L716.9 867.8 L717.4 870.3 L717.9 872.9 L718.4 875.4 L718.8 878.0 L719.3 880.5 L719.7 883.1 L720.2 885.6 L720.6 888.2 L721.2 890.7 L721.9 893.3 L722.7 895.8 L723.7 898.4 L725.1 900.9 L726.9 903.5 L735.0 906.0 L738.0 907.7 L740.5 908.9 L743.0 909.2 L745.5 908.9 L748.0 909.2 L750.5 909.9 L753.0 909.2 L755.5 907.1 L758.0 905.8 L760.5 905.7 L763.0 905.6 L765.5 905.4 L768.0 905.6 L770.5 906.5 L773.0 907.9 L775.5 909.0 L778.0 908.7 L780.5 907.3 L783.0 906.4 L785.5 906.2 L788.0 905.2 L790.5 904.2 L793.0 904.3 L795.5 905.4 L798.0 907.5 L800.5 908.3 L803.0 907.3 L805.5 905.6 L808.0 904.8 L810.5 904.6 L813.0 904.3 L815.5 904.3 L818.0 904.1 L820.5 903.8 L823.0 904.4 L825.5 905.1 L828.0 904.0 L830.5 902.4 L833.0 902.5 L835.5 903.6 L838.0 904.7 L840.5 905.5 L843.0 906.4 L845.5 907.5 L848.0 907.5 L850.5 906.6 L853.0 905.0 L855.5 904.6 L858.0 906.4 L860.5 908.0 L863.0 908.0 L865.5 907.2 L868.0 906.2 L870.5 905.1 L873.0 905.0 L875.5 906.4 L878.0 907.9 L880.5 908.7 L883.0 909.2 L885.5 909.4 L888.0 909.1 L890.5 908.4 L893.0 907.0 L895.5 905.1 L898.0 904.2 L900.5 905.7 L903.0 907.4 L905.5 907.9 L908.0 907.7 L910.5 905.8 L913.0 904.1 L915.5 904.2 L918.0 904.1 L920.5 904.0 L923.0 904.3 L925.5 905.5 L928.0 906.8 L930.5 906.1 L933.0 904.5 L935.5 904.4 L938.0 905.3 L940.5 906.9 L943.0 907.5 L945.5 907.0 L948.0 907.5 L950.5 908.3 L953.0 908.5 L955.5 908.3 L958.0 907.7 L960.5 907.5 L963.0 907.6 L965.5 907.6 L968.0 906.8 L970.5 906.4 L973.0 907.8 L975.5 909.0 L978.0 908.2 L980.5 907.1 L983.0 907.2 L985.5 909.4 L988.0 911.7 L990.5 913.1 L993.0 913.1 L995.5 911.6 L998.0 911.1 L1000.5 911.6 L1003.0 911.5 L1005.5 910.8 L1008.0 909.5 L1010.5 908.7 L1013.0 908.0 L1015.5 907.6 L1018.0 907.7 L1020.5 907.1 L1023.0 906.3 L1025.5 905.0 L1028.0 904.3 L1030.5 905.7 L1033.0 906.5 L1035.5 906.2 L1038.0 906.3 L1040.5 906.7 L1043.0 905.9 L1045.5 905.1 L1048.0 906.0 L1050.5 906.8 L1053.0 906.4 L1055.5 906.2 L1058.0 906.8 L1060.5 907.0 L1063.0 906.5 L1065.5 905.8 L1068.0 905.4 L1070.5 904.8 L1073.0 904.5 L1075.5 904.3 L1078.0 903.0 L1080.5 901.9 L1083.0 901.7 L1085.5 901.8 L1088.0 902.3 L1090.5 902.5 L1093.0 902.1 L1095.5 900.6 L1098.0 898.1 L1100.5 896.8 L1103.0 898.3 L1105.5 900.3 L1108.0 900.8 L1110.5 901.2 L1113.0 900.5 L1115.5 898.9 L1118.0 899.1 L1120.5 900.9 L1123.0 902.8 L1125.5 903.0 L1128.0 902.2 L1130.5 902.1 L1133.0 902.1 L1135.5 902.3 L1138.0 903.8 L1140.5 904.3 L1143.0 903.1 L1145.5 902.7 L1148.0 903.0 L1150.5 903.8 L1153.0 903.7 L1155.5 902.6 L1158.0 902.5 L1160.5 903.0 L1163.0 902.4 L1165.5 901.0 L1168.0 899.1 L1170.5 899.1 L1173.0 900.7 L1175.5 901.0 L1178.0 899.8 L1180.5 899.2 L1183.0 899.1 L1185.5 899.0 L1188.0 899.8 L1190.5 900.5 L1193.0 899.6 L1195.5 898.3 L1198.0 898.2 L1200.5 898.9 L1203.0 900.0 L1205.5 901.7 L1208.0 902.3 L1210.5 902.4 L1213.0 902.9 L1215.5 903.9 L1218.0 904.7 L1220.5 904.0 L1223.0 903.7 L1225.5 904.6 L1228.0 905.3 L1230.5 906.2 L1233.0 905.9 L1235.5 904.8 L1238.0 903.9 L1240.5 903.2 L1243.0 903.6 L1245.5 904.6 L1248.0 904.4 L1250.5 903.6 L1253.0 903.1 L1255.5 902.9 L1258.0 902.6 L1260.5 902.4 L1263.0 902.6 L1265.5 902.4 L1268.0 901.2 L1270.5 900.3 L1273.0 899.8 L1275.5 899.6 L1278.0 899.9 L1280.5 899.8 L1283.0 899.2 L1285.5 899.3 L1288.0 900.2 L1290.5 901.3 L1293.0 902.1 L1295.5 902.4 L1298.0 902.6 L1300.5 903.3 L1303.0 903.6 L1305.5 903.6 L1308.0 903.6 L1310.5 903.7 L1313.0 903.2 L1315.5 902.4 L1318.0 902.4 L1320.5 902.3 L1323.0 901.7 L1325.5 901.5 L1328.0 901.3 L1330.5 901.5 L1333.0 901.2 L1335.5 900.9 L1338.0 902.0 L1340.5 903.8 L1343.0 904.0 L1345.5 903.0 L1348.0 902.7 L1350.5 902.6 L1353.0 902.2 L1355.5 901.1 L1358.0 899.8 L1360.5 899.2 L1363.0 899.9 L1365.5 900.6 L1368.0 900.7 L1370.5 899.9 L1373.0 898.3 L1375.5 896.5 L1378.0 894.8 L1380.5 894.4 L1383.0 895.5 L1385.5 897.2 L1388.0 898.0 L1390.5 898.1 L1393.0 898.8 L1395.5 899.7 L1398.0 899.2 L1400.5 898.8 L1403.0 900.0 L1405.5 900.4 L1408.0 898.4 L1410.5 896.0 L1413.0 896.4 L1415.5 897.9 L1418.0 897.9 L1420.5 897.8 L1423.0 898.8 L1425.5 899.9 L1428.0 901.3 L1430.5 902.7 L1433.0 903.3 L1435.5 903.0 L1438.0 903.1 L1440.5 903.3 L1443.0 904.0 L1445.5 904.3 L1448.0 903.8 L1450.5 902.8 L1453.0 902.2 L1455.5 902.6 L1458.0 903.3 L1460.5 903.4 L1463.0 902.6 L1465.5 901.0 L1468.0 899.1 L1470.5 898.8 L1473.0 901.0 L1475.5 902.6 L1478.0 901.0 L1480.5 898.5 L1483.0 897.9 L1485.5 899.1 L1488.0 899.7 L1490.5 900.3 L1493.0 901.8 L1495.5 903.5 L1498.0 904.7 L1500.5 904.5 L1503.0 903.2"/>
<path stroke="#a560a8" d="M196.0 911.0 L198.5 910.1 L201.0 909.6 L203.5 909.7 L206.0 911.2 L208.5 912.0 L211.0 911.9 L213.5 912.3 L216.0 912.4 L218.5 911.7 L221.0 911.9 L223.5 913.4 L226.0 914.3 L228.5 914.3 L231.0 915.4 L233.5 916.2 L236.0 914.9 L238.5 913.0 L241.0 912.7 L243.5 913.7 L246.0 913.3 L248.5 911.9 L251.0 911.8 L253.5 912.7 L256.0 912.9 L258.5 912.1 L261.0 911.0 L263.5 910.6 L266.0 911.4 L268.5 911.7 L271.0 910.9 L273.5 910.6 L276.0 911.4 L278.5 913.0 L281.0 915.1 L283.5 915.5 L286.0 913.6 L288.5 912.9 L291.0 913.9 L293.5 914.3 L296.0 914.1 L298.5 914.4 L301.0 915.2 L303.5 915.5 L306.0 915.5 L308.5 914.5 L311.0 913.5 L313.5 914.5 L316.0 915.0 L318.5 914.1 L321.0 913.1 L323.5 912.9 L328.0 913.0 L335.3 910.5 L337.1 907.9 L338.3 905.4 L339.2 902.8 L340.0 900.3 L340.7 897.7 L341.1 895.2 L341.5 892.6 L341.8 890.1 L342.1 887.5 L342.3 885.0 L342.5 882.4 L342.7 879.9 L342.9 877.4 L343.0 874.8 L343.2 872.3 L343.3 869.7 L343.4 867.2 L343.5 864.6 L343.7 862.1 L343.8 859.5 L343.9 857.0 L344.0 854.4 L344.1 851.9 L344.2 849.3 L344.3 846.8 L344.4 844.3 L344.5 841.7 L344.6 839.2 L344.7 836.6 L344.8 834.1 L344.9 831.5 L345.0 829.0 L345.2 826.4 L345.3 823.9 L345.4 821.3 L345.5 818.8 L345.6 816.2 L345.7 813.7 L345.8 811.2 L345.9 808.6 L346.0 806.1 L346.1 803.5 L346.2 801.0 L346.3 798.4 L346.4 795.9 L346.5 793.3 L346.6 790.8 L346.7 788.2 L346.8 785.7 L346.9 783.1 L347.0 780.6 L347.1 778.1 L347.2 775.5 L347.3 773.0 L347.4 770.4 L347.5 767.9 L347.6 765.3 L347.7 762.8 L347.8 760.2 L347.9 757.7 L348.0 755.1 L348.2 752.6 L348.3 750.1 L348.4 747.5 L348.5 745.0 L348.6 742.4 L348.7 739.9 L348.8 737.3 L348.9 734.8 L349.0 732.2 L349.1 729.7 L349.2 727.1 L349.3 724.6 L349.4 722.0 L349.5 719.5 L349.5 717.0 L349.6 714.4 L349.7 711.9 L349.8 709.3 L349.9 706.8 L350.0 704.2 L350.1 701.7 L350.2 699.1 L350.3 696.6 L350.4 694.0 L350.5 691.5 L350.6 688.9 L350.7 686.4 L350.8 683.9 L350.9 681.3 L351.0 678.8 L351.1 676.2 L351.2 673.7 L351.3 671.1 L351.4 668.6 L351.5 666.0 L351.6 663.5 L351.7 660.9 L351.8 658.4 L351.9 655.8 L352.0 653.3 L352.1 650.8 L352.2 648.2 L352.2 645.7 L352.3 643.1 L352.4 640.6 L352.5 638.0 L352.6 635.5 L352.7 632.9 L352.8 630.4 L352.9 627.8 L353.0 625.3 L353.1 622.7 L353.2 620.2 L353.3 617.7 L353.4 615.1 L353.5 612.6 L353.6 610.0 L353.7 607.5 L353.8 604.9 L353.9 602.4 L354.0 599.8 L354.1 597.3 L354.2 594.7 L354.3 592.2 L354.4 589.6 L354.5 587.1 L354.6 584.6 L354.6 582.0 L354.7 579.5 L354.8 576.9 L354.9 574.4 L355.0 571.8 L355.1 569.3 L355.2 566.7 L355.3 564.2 L355.4 561.6 L355.5 559.1 L355.6 556.5 L355.7 554.0 L355.8 551.5 L355.9 548.9 L356.0 546.4 L356.1 543.8 L356.2 541.3 L356.3 538.7 L356.4 536.2 L356.5 533.6 L356.6 531.1 L356.7 528.5 L356.9 526.0 L357.0 523.4 L357.1 520.9 L357.2 518.4 L357.3 515.8 L357.4 513.3 L357.5 510.7 L357.6 508.2 L357.7 505.6 L357.8 503.1 L357.9 500.5 L358.0 498.0 L358.1 495.4 L358.2 492.9 L358.3 490.4 L358.5 487.8 L358.6 485.3 L358.7 482.7 L358.8 480.2 L358.9 477.6 L359.0 475.1 L359.1 472.5 L359.2 470.0 L359.3 467.4 L359.5 464.9 L359.6 462.3 L359.7 459.8 L359.8 457.3 L359.9 454.7 L360.0 452.2 L360.1 449.6 L360.2 447.1 L360.4 444.5 L360.5 442.0 L360.6 439.4 L360.7 436.9 L360.8 434.3 L360.9 431.8 L361.0 429.2 L361.1 426.7 L361.3 424.2 L361.4 421.6 L361.5 419.1 L361.6 416.5 L361.7 414.0 L361.8 411.4 L361.9 408.9 L362.0 406.3 L362.1 403.8 L362.2 401.2 L362.4 398.7 L362.5 396.1 L362.6 393.6 L362.7 391.1 L362.8 388.5 L362.9 386.0 L363.0 383.4 L363.1 380.9 L363.2 378.3 L363.3 375.8 L363.4 373.2 L363.5 370.7 L363.6 368.1 L363.7 365.6 L363.8 363.0 L363.9 360.5 L364.0 358.0 L364.1 355.4 L364.2 352.9 L364.3 350.3 L364.4 347.8 L364.5 345.2 L364.6 342.7 L364.7 340.1 L364.8 337.6 L364.9 335.0 L365.0 332.5 L365.1 329.9 L365.1 327.4 L365.2 324.9 L365.3 322.3 L365.4 319.8 L365.5 317.2 L365.6 314.7 L365.7 312.1 L365.8 309.6 L365.9 307.0 L366.0 304.5 L366.1 301.9 L366.2 299.4 L366.3 296.8 L366.4 294.3 L366.5 291.8 L366.6 289.2 L366.7 286.7 L366.8 284.1 L366.9 281.6 L367.0 279.0 L367.1 276.5 L367.2 273.9 L367.3 271.4 L367.4 268.8 L367.5 266.3 L367.6 263.7 L367.7 261.2 L367.8 258.7 L367.9 256.1 L368.0 253.6 L368.1 251.0 L368.2 248.5 L368.4 245.9 L368.5 243.4 L368.6 240.8 L368.7 238.3 L368.8 235.7 L369.0 233.2 L369.1 230.7 L369.2 228.1 L369.3 225.6 L369.5 223.0 L369.6 220.5 L369.7 217.9 L369.8 215.4 L370.0 212.8 L370.1 210.3 L370.2 207.7 L370.3 205.2 L370.5 202.6 L370.6 200.1 L370.7 197.6 L370.9 195.0 L371.0 192.5 L371.2 189.9 L371.3 187.4 L371.5 184.8 L371.6 182.3 L371.8 179.7 L371.9 177.2 L372.1 174.6 L372.3 172.1 L372.4 169.5 L372.6 167.0 L372.8 164.5 L373.0 161.9 L373.2 159.4 L373.4 156.8 L373.6 154.3 L373.8 151.7 L374.0 149.2 L374.2 146.6 L374.4 144.1 L374.6 141.5 L374.9 139.0 L375.2 136.4 L375.5 133.9 L375.8 131.4 L376.1 128.8 L376.5 126.3 L376.9 123.7 L377.3 121.2 L377.8 118.6 L378.4 116.1 L379.0 113.5 L379.7 111.0 L380.4 108.4 L381.3 105.9 L382.4 103.3 L383.6 100.8 L386.6 100.9 L389.1 101.8 L391.6 102.7 L394.1 103.1 L396.6 102.7 L399.1 102.5 L401.6 101.8 L404.1 102.2 L406.6 102.7 L409.1 102.4 L411.6 102.2 L414.1 102.7 L416.6 103.1 L419.1 103.5 L421.6 104.8 L424.1 106.7 L426.6 108.3 L429.1 108.1 L431.6 107.2 L434.1 106.7 L436.6 106.8 L439.1 106.1 L441.6 104.3 L444.1 102.8 L446.6 101.7 L449.1 101.1 L451.6 101.4 L454.1 101.9 L456.6 103.0 L459.1 103.3 L461.6 102.3 L464.1 100.9 L466.6 99.1 L469.1 97.7 L471.6 97.9 L474.1 98.8 L476.6 99.7 L479.1 100.4 L481.6 100.6 L484.1 100.4 L486.6 100.7 L489.1 100.9 L491.6 100.3 L494.1 99.3 L496.6 98.3 L499.1 97.7 L501.6 97.8 L504.1 97.9 L506.6 97.4 L509.1 97.3 L511.6 97.8 L514.1 98.9 L516.6 100.4 L519.1 101.2 L521.6 101.0 L524.1 100.4 L526.6 100.3 L529.1 100.7 L531.6 101.3 L534.1 101.9 L536.6 101.4 L539.1 100.7 L541.6 99.8 L544.1 99.5 L546.6 99.7 L549.1 99.7 L551.6 99.9 L554.1 100.4 L556.6 100.1 L559.1 98.6 L561.6 97.1 L564.1 97.8 L566.6 99.0 L569.1 98.2 L571.6 96.4 L574.1 95.4 L576.6 95.8 L579.1 96.3 L581.6 96.2 L584.1 96.5 L586.6 97.1 L589.1 96.8 L591.6 96.6 L594.1 97.3 L596.6 98.2 L599.1 98.3 L601.6 98.3 L604.1 98.5 L606.6 98.8 L609.1 98.7 L611.6 98.0 L614.1 97.1 L616.6 96.4 L619.1 96.4 L621.6 96.4 L624.1 95.5 L626.6 94.4 L629.1 94.4 L631.6 94.1 L634.1 93.4 L636.6 93.5 L639.1 94.3 L641.6 94.8 L644.1 94.2 L646.6 92.6 L649.1 91.9 L651.6 92.8 L654.1 94.2 L656.6 94.6 L659.1 94.8 L661.6 95.9 L664.1 96.9 L666.6 96.9 L669.1 97.7 L673.0 101.7 L674.4 104.2 L675.7 106.8 L676.6 109.3 L677.1 111.8 L677.5 114.4 L677.8 116.9 L678.0 119.5 L678.3 122.0 L678.5 124.5 L678.6 127.1 L678.8 129.6 L679.0 132.1 L679.2 134.7 L679.3 137.2 L679.5 139.8 L679.6 142.3 L679.8 144.8 L679.9 147.4 L680.0 149.9 L680.2 152.4 L680.3 155.0 L680.4 157.5 L680.5 160.1 L680.7 162.6 L680.8 165.1 L680.9 167.7 L681.0 170.2 L681.2 172.7 L681.3 175.3 L681.5 177.8 L681.6 180.3 L681.7 182.9 L681.9 185.4 L682.0 188.0 L682.1 190.5 L682.3 193.0 L682.4 195.6 L682.5 198.1 L682.6 200.6 L682.7 203.2 L682.8 205.7 L683.0 208.3 L683.1 210.8 L683.2 213.3 L683.3 215.9 L683.4 218.4 L683.5 220.9 L683.6 223.5 L683.7 226.0 L683.8 228.5 L683.8 231.1 L683.9 233.6 L684.0 236.2 L684.1 238.7 L684.2 241.2 L684.3 243.8 L684.4 246.3 L684.5 248.8 L684.6 251.4 L684.6 253.9 L684.7 256.5 L684.8 259.0 L684.9 261.5 L685.0 264.1 L685.1 266.6 L685.1 269.1 L685.2 271.7 L685.3 274.2 L685.4 276.8 L685.4 279.3 L685.5 281.8 L685.6 284.4 L685.7 286.9 L685.7 289.4 L685.8 292.0 L685.9 294.5 L686.0 297.0 L686.0 299.6 L686.1 302.1 L686.2 304.7 L686.3 307.2 L686.3 309.7 L686.4 312.3 L686.5 314.8 L686.6 317.3 L686.6 319.9 L686.7 322.4 L686.8 325.0 L686.8 327.5 L686.9 330.0 L687.0 332.6 L687.0 335.1 L687.1 337.6 L687.1 340.2 L687.2 342.7 L687.3 345.3 L687.3 347.8 L687.4 350.3 L687.4 352.9 L687.5 355.4 L687.6 357.9 L687.6 360.5 L687.7 363.0 L687.7 365.5 L687.8 368.1 L687.8 370.6 L687.9 373.2 L688.0 375.7 L688.0 378.2 L688.1 380.8 L688.1 383.3 L688.2 385.8 L688.2 388.4 L688.3 390.9 L688.3 393.5 L688.4 396.0 L688.5 398.5 L688.5 401.1 L688.6 403.6 L688.6 406.1 L688.7 408.7 L688.7 411.2 L688.8 413.7 L688.8 416.3 L688.9 418.8 L688.9 421.4 L689.0 423.9 L689.1 426.4 L689.1 429.0 L689.2 431.5 L689.2 434.0 L689.3 436.6 L689.3 439.1 L689.4 441.7 L689.4 444.2 L689.5 446.7 L689.6 449.3 L689.6 451.8 L689.7 454.3 L689.7 456.9 L689.8 459.4 L689.9 462.0 L689.9 464.5 L690.0 467.0 L690.0 469.6 L690.1 472.1 L690.2 474.6 L690.2 477.2 L690.3 479.7 L690.4 482.2 L690.4 484.8 L690.5 487.3 L690.6 489.9 L690.6 492.4 L690.7 494.9 L690.8 497.5 L690.8 500.0 L690.9 502.5 L691.0 505.1 L691.0 507.6 L691.1 510.2 L691.2 512.7 L691.3 515.2 L691.4 517.8 L691.4 520.3 L691.5 522.8 L691.6 525.4 L691.7 527.9 L691.8 530.5 L691.8 533.0 L691.9 535.5 L692.0 538.1 L692.1 540.6 L692.2 543.1 L692.3 545.7 L692.3 548.2 L692.4 550.7 L692.5 553.3 L692.6 555.8 L692.7 558.4 L692.8 560.9 L692.9 563.4 L692.9 566.0 L693.0 568.5 L693.1 571.0 L693.2 573.6 L693.3 576.1 L693.4 578.7 L693.5 581.2 L693.6 583.7 L693.7 586.3 L693.8 588.8 L693.9 591.3 L694.0 593.9 L694.1 596.4 L694.2 599.0 L694.3 601.5 L694.4 604.0 L694.5 606.6 L694.6 609.1 L694.7 611.6 L694.8 614.2 L694.9 616.7 L695.0 619.2 L695.1 621.8 L695.2 624.3 L695.3 626.9 L695.4 629.4 L695.5 631.9 L695.6 634.5 L695.7 637.0 L695.8 639.5 L696.0 642.1 L696.1 644.6 L696.2 647.2 L696.3 649.7 L696.4 652.2 L696.6 654.8 L696.7 657.3 L696.8 659.8 L696.9 662.4 L697.1 664.9 L697.2 667.4 L697.3 670.0 L697.4 672.5 L697.6 675.1 L697.7 677.6 L697.9 680.1 L698.0 682.7 L698.1 685.2 L698.3 687.7 L698.4 690.3 L698.6 692.8 L698.7 695.4 L698.8 697.9 L699.0 700.4 L699.1 703.0 L699.3 705.5 L699.5 708.0 L699.6 710.6 L699.8 713.1 L699.9 715.7 L700.1 718.2 L700.2 720.7 L700.4 723.3 L700.6 725.8 L700.7 728.3 L700.9 730.9 L701.1 733.4 L701.3 735.9 L701.4 738.5 L701.6 741.0 L701.8 743.6 L702.0 746.1 L702.2 748.6 L702.4 751.2 L702.6 753.7 L702.8 756.2 L703.1 758.8 L703.3 761.3 L703.6 763.9 L703.9 766.4 L704.2 768.9 L704.5 771.5 L704.8 774.0 L705.1 776.5 L705.4 779.1 L705.7 781.6 L706.0 784.2 L706.4 786.7 L706.7 789.2 L707.0 791.8 L707.4 794.3 L707.7 796.8 L708.1 799.4 L708.4 801.9 L708.8 804.4 L709.1 807.0 L709.4 809.5 L709.8 812.1 L710.1 814.6 L710.4 817.1 L710.7 819.7 L711.0 822.2 L711.3 824.7 L711.6 827.3 L711.9 829.8 L712.2 832.4 L712.5 834.9 L712.8 837.4 L713.1 840.0 L713.4 842.5 L713.7 845.0 L714.0 847.6 L714.3 850.1 L714.6 852.6 L715.0 855.2 L715.4 857.7 L715.7 860.3 L716.2 862.8 L716.6 865.3 L717.0 867.9 L717.5 870.4 L717.9 872.9 L718.4 875.5 L718.9 878.0 L719.4 880.6 L719.8 883.1 L720.3 885.6 L720.7 888.2 L721.2 890.7 L721.6 893.2 L722.2 895.8 L722.9 898.3 L723.7 900.9 L724.7 903.4 L726.1 905.9 L727.9 908.5 L736.0 911.0 L739.0 910.0 L741.5 908.4 L744.0 907.3 L746.5 908.6 L749.0 911.1 L751.5 912.8 L754.0 913.4 L756.5 913.1 L759.0 911.7 L761.5 909.8 L764.0 908.5 L766.5 909.1 L769.0 909.6 L771.5 910.5 L774.0 911.8 L776.5 911.9 L779.0 910.8 L781.5 911.1 L784.0 911.9 L786.5 911.2 L789.0 909.6 L791.5 908.2 L794.0 908.6 L796.5 910.5 L799.0 911.2 L801.5 909.9 L804.0 908.4 L806.5 909.0 L809.0 910.6 L811.5 911.3 L814.0 911.0 L816.5 911.0 L819.0 910.8 L821.5 910.2 L824.0 909.7 L826.5 909.4 L829.0 908.7 L831.5 907.7 L834.0 907.7 L836.5 908.8 L839.0 909.9 L841.5 910.7 L844.0 910.0 L846.5 908.8 L849.0 908.2 L851.5 907.9 L854.0 908.3 L856.5 909.3 L859.0 910.7 L861.5 911.2 L864.0 911.5 L866.5 913.2 L869.0 914.4 L871.5 913.6 L874.0 912.4 L876.5 912.9 L879.0 913.6 L881.5 912.1 L884.0 910.1 L886.5 909.2 L889.0 908.5 L891.5 908.2 L894.0 909.5 L896.5 911.2 L899.0 912.0 L901.5 911.0 L904.0 909.1 L906.5 909.3 L909.0 910.3 L911.5 910.4 L914.0 911.7 L916.5 913.6 L919.0 913.3 L921.5 911.6 L924.0 910.4 L926.5 910.4 L929.0 909.5 L931.5 907.4 L934.0 904.4 L936.5 902.8 L939.0 904.7 L941.5 907.1 L944.0 909.1 L946.5 910.0 L949.0 908.9 L951.5 909.2 L954.0 911.1 L956.5 912.0 L959.0 911.7 L961.5 911.2 L964.0 911.9 L966.5 913.0 L969.0 913.1 L971.5 911.7 L974.0 909.3 L976.5 909.2 L979.0 910.7 L981.5 909.9 L984.0 907.9 L986.5 906.9 L989.0 907.0 L991.5 909.0 L994.0 911.5 L996.5 911.9 L999.0 911.5 L1001.5 912.5 L1004.0 912.8 L1006.5 911.2 L1009.0 909.0 L1011.5 908.5 L1014.0 909.5 L1016.5 910.4 L1019.0 909.3 L1021.5 907.1 L1024.0 906.4 L1026.5 906.5 L1029.0 906.7 L1031.5 907.1 L1034.0 907.3 L1036.5 906.4 L1039.0 904.6 L1041.5 904.2 L1044.0 904.8 L1046.5 903.5 L1049.0 900.3 L1051.5 898.6 L1054.0 899.0 L1056.5 900.2 L1059.0 900.8 L1061.5 900.6 L1064.0 901.6 L1066.5 903.0 L1069.0 902.5 L1071.5 902.1 L1074.0 901.3 L1076.5 902.0 L1079.0 905.2 L1081.5 907.2 L1084.0 906.8 L1086.5 906.3 L1089.0 905.3 L1091.5 903.5 L1094.0 902.9 L1096.5 903.9 L1099.0 904.1 L1101.5 903.7 L1104.0 903.8 L1106.5 904.3 L1109.0 904.6 L1111.5 904.8 L1114.0 905.5 L1116.5 905.9 L1119.0 905.0 L1121.5 904.1 L1124.0 903.8 L1126.5 904.0 L1129.0 903.7 L1131.5 903.2 L1134.0 903.6 L1136.5 905.0 L1139.0 905.6 L1141.5 904.7 L1144.0 902.1 L1146.5 899.8 L1149.0 900.1 L1151.5 901.5 L1154.0 903.3 L1156.5 904.6 L1159.0 904.9 L1161.5 905.3 L1164.0 905.5 L1166.5 905.1 L1169.0 904.6 L1171.5 904.3 L1174.0 903.9 L1176.5 904.2 L1179.0 904.6 L1181.5 905.2 L1184.0 904.3 L1186.5 902.9 L1189.0 903.3 L1191.5 903.8 L1194.0 903.9 L1196.5 905.0 L1199.0 905.9 L1201.5 905.9 L1204.0 906.4 L1206.5 907.2 L1209.0 907.9 L1211.5 907.7 L1214.0 906.7 L1216.5 908.0 L1219.0 909.6 L1221.5 909.1 L1224.0 908.6 L1226.5 908.6 L1229.0 909.5 L1231.5 909.7 L1234.0 908.3 L1236.5 907.4 L1239.0 907.2 L1241.5 908.3 L1244.0 910.2 L1246.5 910.5 L1249.0 908.7 L1251.5 907.0 L1254.0 907.4 L1256.5 909.9 L1259.0 911.6 L1261.5 912.1 L1264.0 912.6 L1266.5 913.3 L1269.0 912.7 L1271.5 911.4 L1274.0 910.9 L1276.5 910.1 L1279.0 908.9 L1281.5 908.5 L1284.0 909.9 L1286.5 912.6 L1289.0 913.4 L1291.5 911.4 L1294.0 909.9 L1296.5 910.6 L1299.0 911.1 L1301.5 910.6 L1304.0 909.9 L1306.5 909.0 L1309.0 908.8 L1311.5 910.0 L1314.0 911.7 L1316.5 913.1 L1319.0 913.3 L1321.5 912.2 L1324.0 910.9 L1326.5 911.2 L1329.0 912.2 L1331.5 912.2 L1334.0 910.9 L1336.5 910.8 L1339.0 912.1 L1341.5 912.3 L1344.0 910.9 L1346.5 909.6 L1349.0 909.3 L1351.5 909.7 L1354.0 910.6 L1356.5 911.5 L1359.0 912.9 L1361.5 914.0 L1364.0 913.9 L1366.5 913.2 L1369.0 912.0 L1371.5 911.7 L1374.0 911.1 L1376.5 910.4 L1379.0 911.1 L1381.5 910.3 L1384.0 909.1 L1386.5 908.1 L1389.0 908.1 L1391.5 908.9 L1394.0 909.0 L1396.5 909.3 L1399.0 910.2 L1401.5 909.4 L1404.0 908.4 L1406.5 909.2 L1409.0 909.7 L1411.5 908.8 L1414.0 909.2 L1416.5 911.3 L1419.0 912.2 L1421.5 912.0 L1424.0 912.0 L1426.5 911.7 L1429.0 911.3 L1431.5 912.2 L1434.0 914.4 L1436.5 915.4 L1439.0 915.0 L1441.5 915.1 L1444.0 916.7 L1446.5 917.6 L1449.0 916.5 L1451.5 915.6 L1454.0 915.0 L1456.5 913.8 L1459.0 912.3 L1461.5 911.3 L1464.0 911.4 L1466.5 910.7 L1469.0 908.1 L1471.5 906.4 L1474.0 906.1 L1476.5 905.9 L1479.0 907.0 L1481.5 908.0 L1484.0 907.6 L1486.5 907.2 L1489.0 906.3 L1491.5 905.4 L1494.0 905.5 L1496.5 905.9 L1499.0 906.5 L1501.5 907.2"/>
<path stroke="#7f8043" d="M196.0 895.0 L198.5 894.6 L201.0 894.3 L203.5 894.6 L206.0 894.5 L208.5 894.9 L211.0 896.9 L213.5 898.4 L216.0 897.8 L218.5 897.6 L221.0 899.2 L223.5 899.7 L226.0 899.1 L228.5 898.6 L231.0 898.9 L233.5 898.6 L236.0 897.8 L238.5 897.8 L241.0 899.4 L243.5 901.3 L246.0 903.0 L248.5 904.2 L251.0 903.8 L253.5 903.7 L256.0 904.0 L258.5 903.4 L261.0 903.0 L263.5 903.2 L266.0 903.5 L268.5 903.2 L271.0 901.8 L273.5 899.9 L276.0 899.9 L278.5 900.4 L281.0 899.7 L283.5 898.3 L286.0 898.2 L288.5 899.0 L291.0 898.5 L293.5 897.3 L296.0 895.8 L298.5 894.9 L301.0 895.4 L303.5 897.7 L306.0 899.7 L308.5 899.3 L311.0 898.2 L313.5 898.1 L316.0 898.7 L322.0 899.0 L329.3 896.5 L331.1 894.0 L332.3 891.5 L333.2 889.0 L334.0 886.5 L334.7 884.0 L335.1 881.4 L335.5 878.9 L335.8 876.4 L336.1 873.9 L336.3 871.4 L336.5 868.9 L336.7 866.4 L336.9 863.9 L337.0 861.4 L337.2 858.9 L337.3 856.4 L337.4 853.9 L337.5 851.4 L337.7 848.8 L337.8 846.3 L337.9 843.8 L338.0 841.3 L338.1 838.8 L338.2 836.3 L338.3 833.8 L338.4 831.3 L338.5 828.8 L338.6 826.3 L338.7 823.8 L338.8 821.3 L338.9 818.7 L339.0 816.2 L339.2 813.7 L339.3 811.2 L339.4 808.7 L339.5 806.2 L339.6 803.7 L339.7 801.2 L339.8 798.7 L339.9 796.2 L340.0 793.7 L340.1 791.2 L340.2 788.7 L340.3 786.1 L340.4 783.6 L340.5 781.1 L340.6 778.6 L340.7 776.1 L340.8 773.6 L340.9 771.1 L341.0 768.6 L341.1 766.1 L341.2 763.6 L341.3 761.1 L341.4 758.6 L341.5 756.1 L341.6 753.5 L341.7 751.0 L341.8 748.5 L341.9 746.0 L342.0 743.5 L342.2 741.0 L342.3 738.5 L342.4 736.0 L342.5 733.5 L342.6 731.0 L342.7 728.5 L342.8 726.0 L342.9 723.5 L343.0 720.9 L343.1 718.4 L343.2 715.9 L343.3 713.4 L343.4 710.9 L343.5 708.4 L343.5 705.9 L343.6 703.4 L343.7 700.9 L343.8 698.4 L343.9 695.9 L344.0 693.4 L344.1 690.8 L344.2 688.3 L344.3 685.8 L344.4 683.3 L344.5 680.8 L344.6 678.3 L344.7 675.8 L344.8 673.3 L344.9 670.8 L345.0 668.3 L345.1 665.8 L345.2 663.3 L345.3 660.8 L345.4 658.2 L345.5 655.7 L345.6 653.2 L345.7 650.7 L345.8 648.2 L345.9 645.7 L346.0 643.2 L346.1 640.7 L346.2 638.2 L346.2 635.7 L346.3 633.2 L346.4 630.7 L346.5 628.2 L346.6 625.6 L346.7 623.1 L346.8 620.6 L346.9 618.1 L347.0 615.6 L347.1 613.1 L347.2 610.6 L347.3 608.1 L347.4 605.6 L347.5 603.1 L347.6 600.6 L347.7 598.1 L347.8 595.6 L347.9 593.0 L348.0 590.5 L348.1 588.0 L348.2 585.5 L348.3 583.0 L348.4 580.5 L348.5 578.0 L348.6 575.5 L348.6 573.0 L348.7 570.5 L348.8 568.0 L348.9 565.5 L349.0 562.9 L349.1 560.4 L349.2 557.9 L349.3 555.4 L349.4 552.9 L349.5 550.4 L349.6 547.9 L349.7 545.4 L349.8 542.9 L349.9 540.4 L350.0 537.9 L350.1 535.4 L350.2 532.9 L350.3 530.3 L350.4 527.8 L350.5 525.3 L350.6 522.8 L350.7 520.3 L350.9 517.8 L351.0 515.3 L351.1 512.8 L351.2 510.3 L351.3 507.8 L351.4 505.3 L351.5 502.8 L351.6 500.3 L351.7 497.7 L351.8 495.2 L351.9 492.7 L352.0 490.2 L352.1 487.7 L352.2 485.2 L352.3 482.7 L352.5 480.2 L352.6 477.7 L352.7 475.2 L352.8 472.7 L352.9 470.2 L353.0 467.7 L353.1 465.1 L353.2 462.6 L353.3 460.1 L353.5 457.6 L353.6 455.1 L353.7 452.6 L353.8 450.1 L353.9 447.6 L354.0 445.1 L354.1 442.6 L354.2 440.1 L354.4 437.6 L354.5 435.1 L354.6 432.5 L354.7 430.0 L354.8 427.5 L354.9 425.0 L355.0 422.5 L355.1 420.0 L355.3 417.5 L355.4 415.0 L355.5 412.5 L355.6 410.0 L355.7 407.5 L355.8 405.0 L355.9 402.4 L356.0 399.9 L356.1 397.4 L356.2 394.9 L356.4 392.4 L356.5 389.9 L356.6 387.4 L356.7 384.9 L356.8 382.4 L356.9 379.9 L357.0 377.4 L357.1 374.9 L357.2 372.4 L357.3 369.8 L357.4 367.3 L357.5 364.8 L357.6 362.3 L357.7 359.8 L357.8 357.3 L357.9 354.8 L358.0 352.3 L358.1 349.8 L358.2 347.3 L358.3 344.8 L358.4 342.3 L358.5 339.8 L358.6 337.2 L358.7 334.7 L358.8 332.2 L358.9 329.7 L359.0 327.2 L359.1 324.7 L359.1 322.2 L359.2 319.7 L359.3 317.2 L359.4 314.7 L359.5 312.2 L359.6 309.7 L359.7 307.2 L359.8 304.6 L359.9 302.1 L360.0 299.6 L360.1 297.1 L360.2 294.6 L360.3 292.1 L360.4 289.6 L360.5 287.1 L360.6 284.6 L360.7 282.1 L360.8 279.6 L360.9 277.1 L361.0 274.5 L361.1 272.0 L361.2 269.5 L361.3 267.0 L361.4 264.5 L361.5 262.0 L361.6 259.5 L361.7 257.0 L361.8 254.5 L361.9 252.0 L362.0 249.5 L362.1 247.0 L362.2 244.5 L362.4 241.9 L362.5 239.4 L362.6 236.9 L362.7 234.4 L362.8 231.9 L363.0 229.4 L363.1 226.9 L363.2 224.4 L363.3 221.9 L363.5 219.4 L363.6 216.9 L363.7 214.4 L363.8 211.9 L364.0 209.3 L364.1 206.8 L364.2 204.3 L364.3 201.8 L364.5 199.3 L364.6 196.8 L364.7 194.3 L364.9 191.8 L365.0 189.3 L365.2 186.8 L365.3 184.3 L365.5 181.8 L365.6 179.3 L365.8 176.7 L365.9 174.2 L366.1 171.7 L366.3 169.2 L366.4 166.7 L366.6 164.2 L366.8 161.7 L367.0 159.2 L367.2 156.7 L367.4 154.2 L367.6 151.7 L367.8 149.2 L368.0 146.6 L368.2 144.1 L368.4 141.6 L368.6 139.1 L368.9 136.6 L369.2 134.1 L369.5 131.6 L369.8 129.1 L370.1 126.6 L370.5 124.1 L370.9 121.6 L371.3 119.1 L371.8 116.6 L372.4 114.0 L373.0 111.5 L373.7 109.0 L374.4 106.5 L375.3 104.0 L376.4 101.5 L377.6 99.0 L380.6 100.3 L383.1 102.0 L385.6 104.8 L388.1 106.1 L390.6 106.3 L393.1 105.9 L395.6 105.8 L398.1 106.5 L400.6 107.2 L403.1 107.5 L405.6 106.2 L408.1 104.2 L410.6 103.2 L413.1 103.4 L415.6 104.6 L418.1 105.8 L420.6 106.5 L423.1 106.8 L425.6 105.4 L428.1 104.1 L430.6 103.0 L433.1 102.0 L435.6 101.5 L438.1 101.3 L440.6 101.6 L443.1 101.5 L445.6 101.0 L448.1 101.6 L450.6 102.3 L453.1 101.7 L455.6 100.3 L458.1 98.9 L460.6 98.5 L463.1 98.7 L465.6 97.4 L468.1 95.4 L470.6 95.1 L473.1 96.0 L475.6 96.1 L478.1 95.7 L480.6 96.5 L483.1 97.1 L485.6 96.4 L488.1 95.7 L490.6 95.3 L493.1 94.5 L495.6 94.0 L498.1 94.1 L500.6 94.5 L503.1 94.4 L505.6 94.6 L508.1 95.0 L510.6 94.8 L513.1 94.8 L515.6 95.7 L518.1 96.9 L520.6 97.7 L523.1 98.7 L525.6 100.9 L528.1 103.1 L530.6 102.7 L533.1 101.4 L535.6 101.7 L538.1 102.5 L540.6 101.5 L543.1 99.5 L545.6 97.9 L548.1 97.6 L550.6 97.6 L553.1 97.1 L555.6 96.8 L558.1 96.5 L560.6 96.0 L563.1 95.4 L565.6 95.6 L568.1 96.2 L570.6 95.8 L573.1 93.9 L575.6 91.9 L578.1 91.3 L580.6 91.2 L583.1 91.4 L585.6 92.2 L588.1 92.0 L590.6 90.7 L593.1 90.8 L595.6 92.3 L598.1 93.6 L600.6 93.3 L603.1 92.2 L605.6 92.2 L608.1 92.1 L610.6 91.1 L613.1 89.5 L615.6 88.5 L618.1 89.3 L620.6 90.7 L623.1 90.4 L625.6 89.4 L628.1 88.9 L630.6 88.0 L633.1 86.9 L635.6 87.4 L638.1 88.4 L640.6 88.9 L643.1 89.9 L645.6 91.0 L648.1 91.2 L650.6 90.7 L653.1 90.7 L655.6 92.5 L658.1 94.5 L660.6 94.3 L663.1 95.0 L665.6 96.8 L670.0 99.9 L671.4 102.4 L672.7 104.9 L673.6 107.5 L674.1 110.0 L674.5 112.5 L674.8 115.0 L675.0 117.6 L675.3 120.1 L675.5 122.6 L675.6 125.1 L675.8 127.7 L676.0 130.2 L676.2 132.7 L676.3 135.2 L676.5 137.8 L676.6 140.3 L676.8 142.8 L676.9 145.3 L677.0 147.9 L677.2 150.4 L677.3 152.9 L677.4 155.4 L677.5 157.9 L677.7 160.5 L677.8 163.0 L677.9 165.5 L678.0 168.0 L678.2 170.6 L678.3 173.1 L678.5 175.6 L678.6 178.1 L678.7 180.7 L678.9 183.2 L679.0 185.7 L679.1 188.2 L679.3 190.8 L679.4 193.3 L679.5 195.8 L679.6 198.3 L679.7 200.9 L679.8 203.4 L680.0 205.9 L680.1 208.4 L680.2 210.9 L680.3 213.5 L680.4 216.0 L680.5 218.5 L680.6 221.0 L680.7 223.6 L680.8 226.1 L680.8 228.6 L680.9 231.1 L681.0 233.7 L681.1 236.2 L681.2 238.7 L681.3 241.2 L681.4 243.8 L681.5 246.3 L681.6 248.8 L681.6 251.3 L681.7 253.9 L681.8 256.4 L681.9 258.9 L682.0 261.4 L682.1 263.9 L682.1 266.5 L682.2 269.0 L682.3 271.5 L682.4 274.0 L682.4 276.6 L682.5 279.1 L682.6 281.6 L682.7 284.1 L682.7 286.7 L682.8 289.2 L682.9 291.7 L683.0 294.2 L683.0 296.8 L683.1 299.3 L683.2 301.8 L683.3 304.3 L683.3 306.9 L683.4 309.4 L683.5 311.9 L683.6 314.4 L683.6 316.9 L683.7 319.5 L683.8 322.0 L683.8 324.5 L683.9 327.0 L684.0 329.6 L684.0 332.1 L684.1 334.6 L684.1 337.1 L684.2 339.7 L684.3 342.2 L684.3 344.7 L684.4 347.2 L684.4 349.8 L684.5 352.3 L684.6 354.8 L684.6 357.3 L684.7 359.9 L684.7 362.4 L684.8 364.9 L684.8 367.4 L684.9 369.9 L685.0 372.5 L685.0 375.0 L685.1 377.5 L685.1 380.0 L685.2 382.6 L685.2 385.1 L685.3 387.6 L685.3 390.1 L685.4 392.7 L685.5 395.2 L685.5 397.7 L685.6 400.2 L685.6 402.8 L685.7 405.3 L685.7 407.8 L685.8 410.3 L685.8 412.9 L685.9 415.4 L685.9 417.9 L686.0 420.4 L686.1 422.9 L686.1 425.5 L686.2 428.0 L686.2 430.5 L686.3 433.0 L686.3 435.6 L686.4 438.1 L686.4 440.6 L686.5 443.1 L686.6 445.7 L686.6 448.2 L686.7 450.7 L686.7 453.2 L686.8 455.8 L686.9 458.3 L686.9 460.8 L687.0 463.3 L687.0 465.9 L687.1 468.4 L687.2 470.9 L687.2 473.4 L687.3 475.9 L687.4 478.5 L687.4 481.0 L687.5 483.5 L687.6 486.0 L687.6 488.6 L687.7 491.1 L687.8 493.6 L687.8 496.1 L687.9 498.7 L688.0 501.2 L688.0 503.7 L688.1 506.2 L688.2 508.8 L688.3 511.3 L688.4 513.8 L688.4 516.3 L688.5 518.9 L688.6 521.4 L688.7 523.9 L688.8 526.4 L688.8 529.0 L688.9 531.5 L689.0 534.0 L689.1 536.5 L689.2 539.0 L689.3 541.6 L689.3 544.1 L689.4 546.6 L689.5 549.1 L689.6 551.7 L689.7 554.2 L689.8 556.7 L689.9 559.2 L689.9 561.8 L690.0 564.3 L690.1 566.8 L690.2 569.3 L690.3 571.9 L690.4 574.4 L690.5 576.9 L690.6 579.4 L690.7 582.0 L690.8 584.5 L690.9 587.0 L691.0 589.5 L691.1 592.0 L691.2 594.6 L691.3 597.1 L691.4 599.6 L691.5 602.1 L691.6 604.7 L691.7 607.2 L691.8 609.7 L691.9 612.2 L692.0 614.8 L692.1 617.3 L692.2 619.8 L692.3 622.3 L692.4 624.9 L692.5 627.4 L692.6 629.9 L692.7 632.4 L692.8 635.0 L693.0 637.5 L693.1 640.0 L693.2 642.5 L693.3 645.0 L693.4 647.6 L693.6 650.1 L693.7 652.6 L693.8 655.1 L693.9 657.7 L694.1 660.2 L694.2 662.7 L694.3 665.2 L694.4 667.8 L694.6 670.3 L694.7 672.8 L694.9 675.3 L695.0 677.9 L695.1 680.4 L695.3 682.9 L695.4 685.4 L695.6 688.0 L695.7 690.5 L695.8 693.0 L696.0 695.5 L696.1 698.0 L696.3 700.6 L696.5 703.1 L696.6 705.6 L696.8 708.1 L696.9 710.7 L697.1 713.2 L697.2 715.7 L697.4 718.2 L697.6 720.8 L697.7 723.3 L697.9 725.8 L698.1 728.3 L698.3 730.9 L698.4 733.4 L698.6 735.9 L698.8 738.4 L699.0 741.0 L699.2 743.5 L699.4 746.0 L699.6 748.5 L699.8 751.0 L700.1 753.6 L700.3 756.1 L700.6 758.6 L700.9 761.1 L701.2 763.7 L701.5 766.2 L701.8 768.7 L702.1 771.2 L702.4 773.8 L702.7 776.3 L703.0 778.8 L703.4 781.3 L703.7 783.9 L704.0 786.4 L704.4 788.9 L704.7 791.4 L705.1 794.0 L705.4 796.5 L705.8 799.0 L706.1 801.5 L706.4 804.0 L706.8 806.6 L707.1 809.1 L707.4 811.6 L707.7 814.1 L708.0 816.7 L708.3 819.2 L708.6 821.7 L708.9 824.2 L709.2 826.8 L709.5 829.3 L709.8 831.8 L710.1 834.3 L710.4 836.9 L710.7 839.4 L711.0 841.9 L711.3 844.4 L711.6 847.0 L712.0 849.5 L712.4 852.0 L712.7 854.5 L713.2 857.0 L713.6 859.6 L714.0 862.1 L714.5 864.6 L714.9 867.1 L715.4 869.7 L715.9 872.2 L716.4 874.7 L716.8 877.2 L717.3 879.8 L717.7 882.3 L718.2 884.8 L718.6 887.3 L719.2 889.9 L719.9 892.4 L720.7 894.9 L721.7 897.4 L723.1 900.0 L724.9 902.5 L733.0 905.0 L736.0 905.1 L738.5 904.2 L741.0 904.0 L743.5 903.1 L746.0 902.7 L748.5 903.4 L751.0 903.6 L753.5 903.1 L756.0 902.6 L758.5 901.9 L761.0 900.2 L763.5 898.9 L766.0 898.3 L768.5 898.0 L771.0 898.7 L773.5 898.3 L776.0 896.8 L778.5 896.4 L781.0 896.8 L783.5 897.9 L786.0 899.3 L788.5 899.2 L791.0 898.0 L793.5 898.7 L796.0 900.6 L798.5 901.4 L801.0 901.4 L803.5 900.2 L806.0 899.2 L808.5 899.6 L811.0 899.9 L813.5 899.2 L816.0 898.8 L818.5 899.9 L821.0 900.6 L823.5 900.9 L826.0 902.6 L828.5 903.6 L831.0 903.2 L833.5 902.9 L836.0 903.4 L838.5 904.8 L841.0 907.0 L843.5 909.6 L846.0 910.9 L848.5 910.9 L851.0 910.1 L853.5 909.5 L856.0 909.2 L858.5 908.5 L861.0 909.0 L863.5 909.4 L866.0 908.3 L868.5 907.8 L871.0 908.6 L873.5 910.4 L876.0 911.3 L878.5 909.9 L881.0 908.4 L883.5 908.6 L886.0 909.7 L888.5 909.8 L891.0 907.6 L893.5 905.8 L896.0 905.9 L898.5 907.1 L901.0 908.0 L903.5 908.7 L906.0 909.4 L908.5 909.3 L911.0 908.7 L913.5 908.0 L916.0 908.9 L918.5 910.7 L921.0 911.1 L923.5 909.7 L926.0 909.6 L928.5 911.3 L931.0 911.2 L933.5 910.0 L936.0 909.6 L938.5 909.9 L941.0 908.8 L943.5 907.6 L946.0 908.8 L948.5 909.7 L951.0 908.2 L953.5 906.5 L956.0 907.5 L958.5 908.6 L961.0 907.3 L963.5 905.8 L966.0 904.9 L968.5 904.2 L971.0 905.5 L973.5 907.7 L976.0 906.8 L978.5 904.3 L981.0 904.9 L983.5 906.5 L986.0 905.7 L988.5 904.3 L991.0 903.9 L993.5 902.7 L996.0 901.2 L998.5 901.6 L1001.0 902.2 L1003.5 901.4 L1006.0 901.4 L1008.5 901.7 L1011.0 901.7 L1013.5 901.3 L1016.0 901.2 L1018.5 901.1 L1021.0 900.3 L1023.5 898.9 L1026.0 897.1 L1028.5 896.9 L1031.0 897.8 L1033.5 898.7 L1036.0 899.5 L1038.5 901.1 L1041.0 901.8 L1043.5 899.7 L1046.0 896.9 L1048.5 895.5 L1051.0 895.9 L1053.5 897.2 L1056.0 898.7 L1058.5 899.7 L1061.0 900.3 L1063.5 901.8 L1066.0 902.5 L1068.5 901.5 L1071.0 901.6 L1073.5 903.1 L1076.0 903.5 L1078.5 903.2 L1081.0 903.1 L1083.5 903.1 L1086.0 902.5 L1088.5 902.5 L1091.0 902.2 L1093.5 901.5 L1096.0 901.3 L1098.5 900.9 L1101.0 900.2 L1103.5 900.8 L1106.0 902.0 L1108.5 902.2 L1111.0 900.6 L1113.5 898.6 L1116.0 898.8 L1118.5 901.0 L1121.0 901.3 L1123.5 900.3 L1126.0 899.6 L1128.5 897.8 L1131.0 895.8 L1133.5 894.4 L1136.0 894.4 L1138.5 896.3 L1141.0 897.5 L1143.5 897.6 L1146.0 897.9 L1148.5 898.6 L1151.0 898.8 L1153.5 898.4 L1156.0 897.7 L1158.5 898.3 L1161.0 899.7 L1163.5 901.5 L1166.0 903.3 L1168.5 902.9 L1171.0 901.5 L1173.5 900.6 L1176.0 900.2 L1178.5 901.6 L1181.0 904.4 L1183.5 904.7 L1186.0 902.2 L1188.5 900.4 L1191.0 899.3 L1193.5 898.1 L1196.0 898.1 L1198.5 899.0 L1201.0 899.0 L1203.5 898.9 L1206.0 899.8 L1208.5 900.3 L1211.0 900.3 L1213.5 899.7 L1216.0 898.8 L1218.5 897.4 L1221.0 896.7 L1223.5 898.2 L1226.0 900.1 L1228.5 901.6 L1231.0 901.9 L1233.5 900.8 L1236.0 900.5 L1238.5 900.4 L1241.0 900.6 L1243.5 901.5 L1246.0 902.9 L1248.5 904.5 L1251.0 905.6 L1253.5 906.0 L1256.0 906.5 L1258.5 904.9 L1261.0 903.1 L1263.5 902.8 L1266.0 902.2 L1268.5 901.1 L1271.0 901.2 L1273.5 901.1 L1276.0 901.9 L1278.5 904.0 L1281.0 904.5 L1283.5 902.9 L1286.0 901.7 L1288.5 901.8 L1291.0 901.5 L1293.5 901.2 L1296.0 901.2 L1298.5 901.3 L1301.0 901.8 L1303.5 903.0 L1306.0 904.0 L1308.5 903.6 L1311.0 902.4 L1313.5 902.6 L1316.0 902.7 L1318.5 901.5 L1321.0 900.4 L1323.5 899.9 L1326.0 900.1 L1328.5 900.5 L1331.0 901.2 L1333.5 902.1 L1336.0 903.2 L1338.5 903.7 L1341.0 902.3 L1343.5 902.2 L1346.0 902.5 L1348.5 902.6 L1351.0 903.4 L1353.5 904.5 L1356.0 903.9 L1358.5 902.7 L1361.0 902.3 L1363.5 902.3 L1366.0 903.2 L1368.5 905.3 L1371.0 905.3 L1373.5 903.3 L1376.0 903.6 L1378.5 905.3 L1381.0 906.0 L1383.5 906.8 L1386.0 907.1 L1388.5 906.2 L1391.0 904.8 L1393.5 903.5 L1396.0 902.6 L1398.5 902.8 L1401.0 903.3 L1403.5 903.6 L1406.0 902.9 L1408.5 901.6 L1411.0 900.9 L1413.5 900.2 L1416.0 899.6 L1418.5 901.0 L1421.0 903.2 L1423.5 904.8 L1426.0 904.2 L1428.5 902.0 L1431.0 901.3 L1433.5 902.3 L1436.0 903.4 L1438.5 903.5 L1441.0 903.1 L1443.5 903.8 L1446.0 904.1 L1448.5 902.9 L1451.0 901.3 L1453.5 900.5 L1456.0 901.3 L1458.5 902.5 L1461.0 902.6 L1463.5 901.5 L1466.0 901.2 L1468.5 903.0 L1471.0 903.9 L1473.5 902.1 L1476.0 901.1 L1478.5 902.2 L1481.0 903.9 L1483.5 904.2 L1486.0 903.8 L1488.5 903.6 L1491.0 903.6 L1493.5 903.9 L1496.0 904.3 L1498.5 904.3 L1501.0 903.9 L1503.5 903.8"/>
<path stroke="#373865" d="M196.0 904.2 L198.5 904.1 L201.0 904.3 L203.5 904.3 L206.0 904.7 L208.5 905.9 L211.0 906.5 L213.5 906.3 L216.0 906.6 L218.5 906.1 L221.0 905.3 L223.5 905.2 L226.0 904.1 L228.5 902.8 L231.0 903.1 L233.5 903.3 L236.0 903.0 L238.5 904.0 L241.0 905.0 L243.5 905.0 L246.0 904.4 L248.5 903.6 L251.0 902.1 L253.5 900.5 L256.0 899.6 L258.5 899.0 L261.0 898.9 L263.5 899.5 L266.0 899.9 L268.5 900.6 L271.0 900.5 L273.5 899.6 L276.0 898.7 L278.5 898.2 L281.0 899.5 L283.5 901.6 L286.0 901.9 L288.5 901.8 L291.0 902.6 L293.5 904.0 L296.0 905.1 L298.5 905.8 L301.0 905.6 L303.5 905.0 L306.0 903.9 L308.5 902.9 L311.0 902.8 L313.5 903.3 L316.0 903.1 L318.5 902.8 L325.0 903.0 L332.3 900.5 L334.1 897.9 L335.3 895.4 L336.2 892.8 L337.0 890.3 L337.7 887.7 L338.1 885.2 L338.5 882.6 L338.8 880.1 L339.1 877.6 L339.3 875.0 L339.5 872.5 L339.7 869.9 L339.9 867.4 L340.0 864.8 L340.2 862.3 L340.3 859.7 L340.4 857.2 L340.5 854.6 L340.7 852.1 L340.8 849.6 L340.9 847.0 L341.0 844.5 L341.1 841.9 L341.2 839.4 L341.3 836.8 L341.4 834.3 L341.5 831.7 L341.6 829.2 L341.7 826.7 L341.8 824.1 L341.9 821.6 L342.0 819.0 L342.2 816.5 L342.3 813.9 L342.4 811.4 L342.5 808.8 L342.6 806.3 L342.7 803.8 L342.8 801.2 L342.9 798.7 L343.0 796.1 L343.1 793.6 L343.2 791.0 L343.3 788.5 L343.4 785.9 L343.5 783.4 L343.6 780.8 L343.7 778.3 L343.8 775.8 L343.9 773.2 L344.0 770.7 L344.1 768.1 L344.2 765.6 L344.3 763.0 L344.4 760.5 L344.5 757.9 L344.6 755.4 L344.7 752.9 L344.8 750.3 L344.9 747.8 L345.0 745.2 L345.2 742.7 L345.3 740.1 L345.4 737.6 L345.5 735.0 L345.6 732.5 L345.7 730.0 L345.8 727.4 L345.9 724.9 L346.0 722.3 L346.1 719.8 L346.2 717.2 L346.3 714.7 L346.4 712.1 L346.5 709.6 L346.5 707.0 L346.6 704.5 L346.7 702.0 L346.8 699.4 L346.9 696.9 L347.0 694.3 L347.1 691.8 L347.2 689.2 L347.3 686.7 L347.4 684.1 L347.5 681.6 L347.6 679.1 L347.7 676.5 L347.8 674.0 L347.9 671.4 L348.0 668.9 L348.1 666.3 L348.2 663.8 L348.3 661.2 L348.4 658.7 L348.5 656.2 L348.6 653.6 L348.7 651.1 L348.8 648.5 L348.9 646.0 L349.0 643.4 L349.1 640.9 L349.2 638.3 L349.2 635.8 L349.3 633.2 L349.4 630.7 L349.5 628.2 L349.6 625.6 L349.7 623.1 L349.8 620.5 L349.9 618.0 L350.0 615.4 L350.1 612.9 L350.2 610.3 L350.3 607.8 L350.4 605.3 L350.5 602.7 L350.6 600.2 L350.7 597.6 L350.8 595.1 L350.9 592.5 L351.0 590.0 L351.1 587.4 L351.2 584.9 L351.3 582.4 L351.4 579.8 L351.5 577.3 L351.6 574.7 L351.6 572.2 L351.7 569.6 L351.8 567.1 L351.9 564.5 L352.0 562.0 L352.1 559.4 L352.2 556.9 L352.3 554.4 L352.4 551.8 L352.5 549.3 L352.6 546.7 L352.7 544.2 L352.8 541.6 L352.9 539.1 L353.0 536.5 L353.1 534.0 L353.2 531.5 L353.3 528.9 L353.4 526.4 L353.5 523.8 L353.6 521.3 L353.7 518.7 L353.9 516.2 L354.0 513.6 L354.1 511.1 L354.2 508.6 L354.3 506.0 L354.4 503.5 L354.5 500.9 L354.6 498.4 L354.7 495.8 L354.8 493.3 L354.9 490.7 L355.0 488.2 L355.1 485.6 L355.2 483.1 L355.3 480.6 L355.5 478.0 L355.6 475.5 L355.7 472.9 L355.8 470.4 L355.9 467.8 L356.0 465.3 L356.1 462.7 L356.2 460.2 L356.3 457.7 L356.5 455.1 L356.6 452.6 L356.7 450.0 L356.8 447.5 L356.9 444.9 L357.0 442.4 L357.1 439.8 L357.2 437.3 L357.4 434.8 L357.5 432.2 L357.6 429.7 L357.7 427.1 L357.8 424.6 L357.9 422.0 L358.0 419.5 L358.1 416.9 L358.3 414.4 L358.4 411.8 L358.5 409.3 L358.6 406.8 L358.7 404.2 L358.8 401.7 L358.9 399.1 L359.0 396.6 L359.1 394.0 L359.2 391.5 L359.4 388.9 L359.5 386.4 L359.6 383.9 L359.7 381.3 L359.8 378.8 L359.9 376.2 L360.0 373.7 L360.1 371.1 L360.2 368.6 L360.3 366.0 L360.4 363.5 L360.5 361.0 L360.6 358.4 L360.7 355.9 L360.8 353.3 L360.9 350.8 L361.0 348.2 L361.1 345.7 L361.2 343.1 L361.3 340.6 L361.4 338.0 L361.5 335.5 L361.6 333.0 L361.7 330.4 L361.8 327.9 L361.9 325.3 L362.0 322.8 L362.1 320.2 L362.1 317.7 L362.2 315.1 L362.3 312.6 L362.4 310.1 L362.5 307.5 L362.6 305.0 L362.7 302.4 L362.8 299.9 L362.9 297.3 L363.0 294.8 L363.1 292.2 L363.2 289.7 L363.3 287.2 L363.4 284.6 L363.5 282.1 L363.6 279.5 L363.7 277.0 L363.8 274.4 L363.9 271.9 L364.0 269.3 L364.1 266.8 L364.2 264.2 L364.3 261.7 L364.4 259.2 L364.5 256.6 L364.6 254.1 L364.7 251.5 L364.8 249.0 L364.9 246.4 L365.0 243.9 L365.1 241.3 L365.2 238.8 L365.4 236.3 L365.5 233.7 L365.6 231.2 L365.7 228.6 L365.8 226.1 L366.0 223.5 L366.1 221.0 L366.2 218.4 L366.3 215.9 L366.5 213.4 L366.6 210.8 L366.7 208.3 L366.8 205.7 L367.0 203.2 L367.1 200.6 L367.2 198.1 L367.3 195.5 L367.5 193.0 L367.6 190.4 L367.7 187.9 L367.9 185.4 L368.0 182.8 L368.2 180.3 L368.3 177.7 L368.5 175.2 L368.6 172.6 L368.8 170.1 L368.9 167.5 L369.1 165.0 L369.3 162.5 L369.4 159.9 L369.6 157.4 L369.8 154.8 L370.0 152.3 L370.2 149.7 L370.4 147.2 L370.6 144.6 L370.8 142.1 L371.0 139.6 L371.2 137.0 L371.4 134.5 L371.6 131.9 L371.9 129.4 L372.2 126.8 L372.5 124.3 L372.8 121.7 L373.1 119.2 L373.5 116.6 L373.9 114.1 L374.3 111.6 L374.8 109.0 L375.4 106.5 L376.0 103.9 L376.7 101.4 L377.4 98.8 L378.3 96.3 L379.4 93.7 L380.6 91.2 L383.6 93.1 L386.1 93.6 L388.6 92.0 L391.1 90.4 L393.6 90.4 L396.1 91.2 L398.6 92.7 L401.1 93.2 L403.6 93.7 L406.1 94.8 L408.6 95.9 L411.1 97.0 L413.6 97.5 L416.1 96.9 L418.6 96.0 L421.1 95.4 L423.6 95.4 L426.1 95.2 L428.6 94.6 L431.1 94.3 L433.6 94.2 L436.1 94.8 L438.6 95.3 L441.1 95.2 L443.6 94.5 L446.1 94.2 L448.6 94.2 L451.1 93.6 L453.6 91.9 L456.1 91.0 L458.6 90.9 L461.1 89.9 L463.6 88.5 L466.1 88.2 L468.6 89.4 L471.1 90.3 L473.6 89.1 L476.1 87.2 L478.6 87.0 L481.1 87.1 L483.6 86.1 L486.1 85.4 L488.6 85.7 L491.1 86.2 L493.6 86.2 L496.1 86.3 L498.6 87.1 L501.1 88.1 L503.6 89.2 L506.1 89.3 L508.6 89.3 L511.1 90.3 L513.6 90.6 L516.1 89.6 L518.6 88.5 L521.1 87.7 L523.6 87.3 L526.1 87.3 L528.6 87.5 L531.1 88.1 L533.6 89.2 L536.1 90.0 L538.6 89.5 L541.1 89.0 L543.6 89.4 L546.1 89.9 L548.6 89.6 L551.1 89.0 L553.6 88.1 L556.1 87.3 L558.6 86.5 L561.1 85.7 L563.6 84.6 L566.1 83.0 L568.6 81.5 L571.1 80.7 L573.6 81.0 L576.1 82.0 L578.6 81.8 L581.1 81.0 L583.6 80.9 L586.1 81.4 L588.6 80.7 L591.1 80.0 L593.6 80.3 L596.1 80.3 L598.6 79.2 L601.1 77.8 L603.6 77.5 L606.1 77.4 L608.6 77.2 L611.1 77.7 L613.6 79.0 L616.1 79.8 L618.6 79.7 L621.1 79.2 L623.6 78.9 L626.1 79.1 L628.6 79.1 L631.1 78.4 L633.6 77.8 L636.1 77.6 L638.6 78.1 L641.1 77.7 L643.6 76.5 L646.1 76.1 L648.6 77.1 L651.1 78.9 L653.6 81.0 L656.1 82.2 L658.6 82.6 L661.1 83.3 L663.6 85.9 L666.1 89.0 L668.6 91.3 L672.0 92.1 L673.4 94.6 L674.7 97.2 L675.6 99.7 L676.1 102.3 L676.5 104.8 L676.8 107.3 L677.0 109.9 L677.3 112.4 L677.5 114.9 L677.6 117.5 L677.8 120.0 L678.0 122.6 L678.2 125.1 L678.3 127.6 L678.5 130.2 L678.6 132.7 L678.8 135.3 L678.9 137.8 L679.0 140.3 L679.2 142.9 L679.3 145.4 L679.4 148.0 L679.5 150.5 L679.7 153.0 L679.8 155.6 L679.9 158.1 L680.0 160.6 L680.2 163.2 L680.3 165.7 L680.5 168.3 L680.6 170.8 L680.7 173.3 L680.9 175.9 L681.0 178.4 L681.1 181.0 L681.3 183.5 L681.4 186.0 L681.5 188.6 L681.6 191.1 L681.7 193.7 L681.8 196.2 L682.0 198.7 L682.1 201.3 L682.2 203.8 L682.3 206.3 L682.4 208.9 L682.5 211.4 L682.6 214.0 L682.7 216.5 L682.8 219.0 L682.8 221.6 L682.9 224.1 L683.0 226.7 L683.1 229.2 L683.2 231.7 L683.3 234.3 L683.4 236.8 L683.5 239.4 L683.6 241.9 L683.6 244.4 L683.7 247.0 L683.8 249.5 L683.9 252.0 L684.0 254.6 L684.1 257.1 L684.1 259.7 L684.2 262.2 L684.3 264.7 L684.4 267.3 L684.4 269.8 L684.5 272.4 L684.6 274.9 L684.7 277.4 L684.7 280.0 L684.8 282.5 L684.9 285.1 L685.0 287.6 L685.0 290.1 L685.1 292.7 L685.2 295.2 L685.3 297.7 L685.3 300.3 L685.4 302.8 L685.5 305.4 L685.6 307.9 L685.6 310.4 L685.7 313.0 L685.8 315.5 L685.8 318.1 L685.9 320.6 L686.0 323.1 L686.0 325.7 L686.1 328.2 L686.1 330.8 L686.2 333.3 L686.3 335.8 L686.3 338.4 L686.4 340.9 L686.4 343.4 L686.5 346.0 L686.6 348.5 L686.6 351.1 L686.7 353.6 L686.7 356.1 L686.8 358.7 L686.8 361.2 L686.9 363.8 L687.0 366.3 L687.0 368.8 L687.1 371.4 L687.1 373.9 L687.2 376.5 L687.2 379.0 L687.3 381.5 L687.3 384.1 L687.4 386.6 L687.5 389.1 L687.5 391.7 L687.6 394.2 L687.6 396.8 L687.7 399.3 L687.7 401.8 L687.8 404.4 L687.8 406.9 L687.9 409.5 L687.9 412.0 L688.0 414.5 L688.1 417.1 L688.1 419.6 L688.2 422.2 L688.2 424.7 L688.3 427.2 L688.3 429.8 L688.4 432.3 L688.4 434.8 L688.5 437.4 L688.6 439.9 L688.6 442.5 L688.7 445.0 L688.7 447.5 L688.8 450.1 L688.9 452.6 L688.9 455.2 L689.0 457.7 L689.0 460.2 L689.1 462.8 L689.2 465.3 L689.2 467.9 L689.3 470.4 L689.4 472.9 L689.4 475.5 L689.5 478.0 L689.6 480.5 L689.6 483.1 L689.7 485.6 L689.8 488.2 L689.8 490.7 L689.9 493.2 L690.0 495.8 L690.0 498.3 L690.1 500.9 L690.2 503.4 L690.3 505.9 L690.4 508.5 L690.4 511.0 L690.5 513.6 L690.6 516.1 L690.7 518.6 L690.8 521.2 L690.8 523.7 L690.9 526.2 L691.0 528.8 L691.1 531.3 L691.2 533.9 L691.3 536.4 L691.3 538.9 L691.4 541.5 L691.5 544.0 L691.6 546.6 L691.7 549.1 L691.8 551.6 L691.9 554.2 L691.9 556.7 L692.0 559.3 L692.1 561.8 L692.2 564.3 L692.3 566.9 L692.4 569.4 L692.5 571.9 L692.6 574.5 L692.7 577.0 L692.8 579.6 L692.9 582.1 L693.0 584.6 L693.1 587.2 L693.2 589.7 L693.3 592.3 L693.4 594.8 L693.5 597.3 L693.6 599.9 L693.7 602.4 L693.8 605.0 L693.9 607.5 L694.0 610.0 L694.1 612.6 L694.2 615.1 L694.3 617.6 L694.4 620.2 L694.5 622.7 L694.6 625.3 L694.7 627.8 L694.8 630.3 L695.0 632.9 L695.1 635.4 L695.2 638.0 L695.3 640.5 L695.4 643.0 L695.6 645.6 L695.7 648.1 L695.8 650.7 L695.9 653.2 L696.1 655.7 L696.2 658.3 L696.3 660.8 L696.4 663.3 L696.6 665.9 L696.7 668.4 L696.9 671.0 L697.0 673.5 L697.1 676.0 L697.3 678.6 L697.4 681.1 L697.6 683.7 L697.7 686.2 L697.8 688.7 L698.0 691.3 L698.1 693.8 L698.3 696.4 L698.5 698.9 L698.6 701.4 L698.8 704.0 L698.9 706.5 L699.1 709.0 L699.2 711.6 L699.4 714.1 L699.6 716.7 L699.7 719.2 L699.9 721.7 L700.1 724.3 L700.3 726.8 L700.4 729.4 L700.6 731.9 L700.8 734.4 L701.0 737.0 L701.2 739.5 L701.4 742.1 L701.6 744.6 L701.8 747.1 L702.1 749.7 L702.3 752.2 L702.6 754.7 L702.9 757.3 L703.2 759.8 L703.5 762.4 L703.8 764.9 L704.1 767.4 L704.4 770.0 L704.7 772.5 L705.0 775.1 L705.4 777.6 L705.7 780.1 L706.0 782.7 L706.4 785.2 L706.7 787.8 L707.1 790.3 L707.4 792.8 L707.8 795.4 L708.1 797.9 L708.4 800.4 L708.8 803.0 L709.1 805.5 L709.4 808.1 L709.7 810.6 L710.0 813.1 L710.3 815.7 L710.6 818.2 L710.9 820.8 L711.2 823.3 L711.5 825.8 L711.8 828.4 L712.1 830.9 L712.4 833.5 L712.7 836.0 L713.0 838.5 L713.3 841.1 L713.6 843.6 L714.0 846.1 L714.4 848.7 L714.7 851.2 L715.2 853.8 L715.6 856.3 L716.0 858.8 L716.5 861.4 L716.9 863.9 L717.4 866.5 L717.9 869.0 L718.4 871.5 L718.8 874.1 L719.3 876.6 L719.7 879.2 L720.2 881.7 L720.6 884.2 L721.2 886.8 L721.9 889.3 L722.7 891.8 L723.7 894.4 L725.1 896.9 L726.9 899.5 L735.0 902.0 L738.0 903.1 L740.5 903.6 L743.0 904.0 L745.5 904.3 L748.0 903.1 L750.5 901.8 L753.0 901.5 L755.5 901.2 L758.0 899.7 L760.5 898.8 L763.0 899.5 L765.5 899.2 L768.0 897.1 L770.5 895.0 L773.0 896.0 L775.5 897.9 L778.0 899.0 L780.5 900.1 L783.0 901.1 L785.5 901.0 L788.0 900.2 L790.5 899.5 L793.0 898.9 L795.5 899.3 L798.0 900.7 L800.5 900.8 L803.0 899.7 L805.5 899.7 L808.0 901.8 L810.5 904.1 L813.0 905.4 L815.5 905.6 L818.0 903.3 L820.5 900.3 L823.0 898.5 L825.5 897.5 L828.0 898.4 L830.5 900.0 L833.0 899.5 L835.5 898.8 L838.0 900.2 L840.5 900.8 L843.0 900.3 L845.5 900.6 L848.0 900.3 L850.5 900.4 L853.0 900.6 L855.5 899.4 L858.0 898.9 L860.5 898.9 L863.0 899.2 L865.5 899.6 L868.0 899.9 L870.5 901.0 L873.0 901.6 L875.5 901.7 L878.0 902.1 L880.5 901.9 L883.0 900.7 L885.5 900.0 L888.0 900.2 L890.5 900.5 L893.0 900.5 L895.5 900.5 L898.0 900.2 L900.5 899.6 L903.0 899.5 L905.5 899.4 L908.0 898.2 L910.5 897.0 L913.0 896.4 L915.5 896.9 L918.0 898.1 L920.5 897.8 L923.0 896.8 L925.5 897.0 L928.0 898.1 L930.5 899.7 L933.0 900.1 L935.5 900.2 L938.0 901.5 L940.5 903.2 L943.0 904.6 L945.5 905.5 L948.0 905.7 L950.5 905.7 L953.0 905.0 L955.5 904.3 L958.0 904.9 L960.5 904.2 L963.0 902.9 L965.5 903.7 L968.0 905.1 L970.5 906.1 L973.0 905.5 L975.5 903.5 L978.0 902.1 L980.5 901.3 L983.0 901.0 L985.5 901.6 L988.0 902.6 L990.5 903.6 L993.0 903.3 L995.5 902.3 L998.0 901.2 L1000.5 900.7 L1003.0 899.8 L1005.5 898.9 L1008.0 899.7 L1010.5 901.2 L1013.0 902.7 L1015.5 903.0 L1018.0 901.0 L1020.5 900.2 L1023.0 900.8 L1025.5 900.7 L1028.0 900.0 L1030.5 899.7 L1033.0 899.2 L1035.5 898.6 L1038.0 898.1 L1040.5 897.5 L1043.0 897.1 L1045.5 897.1 L1048.0 896.4 L1050.5 896.2 L1053.0 896.9 L1055.5 897.7 L1058.0 898.4 L1060.5 898.6 L1063.0 897.0 L1065.5 895.0 L1068.0 894.4 L1070.5 893.8 L1073.0 893.4 L1075.5 893.7 L1078.0 894.4 L1080.5 894.9 L1083.0 894.8 L1085.5 894.7 L1088.0 894.7 L1090.5 894.7 L1093.0 894.5 L1095.5 894.7 L1098.0 895.6 L1100.5 896.2 L1103.0 896.7 L1105.5 897.0 L1108.0 897.0 L1110.5 896.5 L1113.0 896.0 L1115.5 896.2 L1118.0 896.4 L1120.5 897.2 L1123.0 898.5 L1125.5 899.5 L1128.0 899.5 L1130.5 899.3 L1133.0 900.2 L1135.5 901.3 L1138.0 901.9 L1140.5 901.2 L1143.0 899.4 L1145.5 899.3 L1148.0 901.3 L1150.5 902.0 L1153.0 900.6 L1155.5 899.6 L1158.0 898.2 L1160.5 895.8 L1163.0 894.5 L1165.5 895.1 L1168.0 896.0 L1170.5 896.7 L1173.0 897.3 L1175.5 896.7 L1178.0 895.9 L1180.5 897.4 L1183.0 899.6 L1185.5 900.1 L1188.0 900.6 L1190.5 900.0 L1193.0 898.5 L1195.5 897.7 L1198.0 897.4 L1200.5 897.9 L1203.0 897.9 L1205.5 896.6 L1208.0 896.1 L1210.5 896.2 L1213.0 896.5 L1215.5 896.7 L1218.0 896.8 L1220.5 897.7 L1223.0 899.0 L1225.5 899.7 L1228.0 898.3 L1230.5 896.9 L1233.0 897.5 L1235.5 898.5 L1238.0 899.2 L1240.5 899.5 L1243.0 899.7 L1245.5 899.6 L1248.0 899.3 L1250.5 899.7 L1253.0 900.6 L1255.5 900.5 L1258.0 898.6 L1260.5 897.3 L1263.0 898.7 L1265.5 900.6 L1268.0 900.4 L1270.5 899.3 L1273.0 898.6 L1275.5 897.7 L1278.0 898.3 L1280.5 900.3 L1283.0 901.0 L1285.5 899.3 L1288.0 897.0 L1290.5 896.9 L1293.0 897.8 L1295.5 897.1 L1298.0 896.6 L1300.5 897.6 L1303.0 898.9 L1305.5 900.1 L1308.0 901.0 L1310.5 901.0 L1313.0 901.3 L1315.5 901.3 L1318.0 900.3 L1320.5 899.2 L1323.0 899.6 L1325.5 901.1 L1328.0 901.0 L1330.5 900.5 L1333.0 900.1 L1335.5 899.1 L1338.0 898.3 L1340.5 898.6 L1343.0 899.6 L1345.5 900.5 L1348.0 901.1 L1350.5 900.5 L1353.0 899.4 L1355.5 899.8 L1358.0 901.2 L1360.5 901.4 L1363.0 899.8 L1365.5 898.3 L1368.0 897.1 L1370.5 896.7 L1373.0 897.6 L1375.5 898.6 L1378.0 899.1 L1380.5 899.5 L1383.0 899.2 L1385.5 899.4 L1388.0 899.4 L1390.5 898.7 L1393.0 899.0 L1395.5 900.0 L1398.0 900.8 L1400.5 901.5 L1403.0 902.3 L1405.5 903.0 L1408.0 903.7 L1410.5 904.4 L1413.0 904.1 L1415.5 902.6 L1418.0 900.9 L1420.5 900.5 L1423.0 900.9 L1425.5 900.9 L1428.0 899.4 L1430.5 897.8 L1433.0 896.7 L1435.5 896.9 L1438.0 897.9 L1440.5 899.4 L1443.0 900.6 L1445.5 901.2 L1448.0 902.6 L1450.5 903.2 L1453.0 901.7 L1455.5 899.8 L1458.0 899.8 L1460.5 901.2 L1463.0 902.4 L1465.5 903.3 L1468.0 905.2 L1470.5 906.7 L1473.0 905.2 L1475.5 902.9 L1478.0 902.3 L1480.5 903.0 L1483.0 903.8 L1485.5 903.6 L1488.0 902.9 L1490.5 902.7 L1493.0 902.2 L1495.5 901.3 L1498.0 901.2 L1500.5 901.7 L1503.0 900.6"/>
<path stroke="#7a3482" d="M196.0 898.5 L198.5 897.3 L201.0 895.8 L203.5 895.1 L206.0 896.0 L208.5 896.2 L211.0 896.1 L213.5 896.2 L216.0 896.9 L218.5 897.4 L221.0 896.8 L223.5 897.2 L226.0 899.0 L228.5 899.6 L231.0 898.3 L233.5 896.2 L236.0 894.5 L238.5 893.5 L241.0 893.1 L243.5 892.9 L246.0 892.5 L248.5 892.3 L251.0 892.7 L253.5 893.9 L256.0 894.9 L258.5 895.4 L261.0 896.1 L263.5 897.1 L266.0 897.3 L268.5 895.6 L271.0 893.4 L273.5 892.7 L276.0 892.6 L278.5 891.5 L281.0 889.8 L283.5 889.2 L286.0 888.3 L288.5 887.2 L291.0 888.5 L293.5 891.1 L296.0 892.4 L298.5 892.5 L301.0 892.1 L303.5 891.7 L306.0 891.8 L308.5 892.2 L311.0 892.4 L313.5 893.1 L316.0 893.6 L318.5 893.6 L321.0 893.8 L326.0 894.0 L333.3 891.5 L335.1 889.0 L336.3 886.5 L337.2 884.0 L338.0 881.5 L338.7 878.9 L339.1 876.4 L339.5 873.9 L339.8 871.4 L340.1 868.9 L340.3 866.4 L340.5 863.9 L340.7 861.4 L340.9 858.9 L341.0 856.4 L341.2 853.9 L341.3 851.3 L341.4 848.8 L341.5 846.3 L341.7 843.8 L341.8 841.3 L341.9 838.8 L342.0 836.3 L342.1 833.8 L342.2 831.3 L342.3 828.8 L342.4 826.3 L342.5 823.7 L342.6 821.2 L342.7 818.7 L342.8 816.2 L342.9 813.7 L343.0 811.2 L343.2 808.7 L343.3 806.2 L343.4 803.7 L343.5 801.2 L343.6 798.7 L343.7 796.1 L343.8 793.6 L343.9 791.1 L344.0 788.6 L344.1 786.1 L344.2 783.6 L344.3 781.1 L344.4 778.6 L344.5 776.1 L344.6 773.6 L344.7 771.1 L344.8 768.5 L344.9 766.0 L345.0 763.5 L345.1 761.0 L345.2 758.5 L345.3 756.0 L345.4 753.5 L345.5 751.0 L345.6 748.5 L345.7 746.0 L345.8 743.5 L345.9 740.9 L346.0 738.4 L346.2 735.9 L346.3 733.4 L346.4 730.9 L346.5 728.4 L346.6 725.9 L346.7 723.4 L346.8 720.9 L346.9 718.4 L347.0 715.9 L347.1 713.3 L347.2 710.8 L347.3 708.3 L347.4 705.8 L347.5 703.3 L347.5 700.8 L347.6 698.3 L347.7 695.8 L347.8 693.3 L347.9 690.8 L348.0 688.3 L348.1 685.7 L348.2 683.2 L348.3 680.7 L348.4 678.2 L348.5 675.7 L348.6 673.2 L348.7 670.7 L348.8 668.2 L348.9 665.7 L349.0 663.2 L349.1 660.7 L349.2 658.1 L349.3 655.6 L349.4 653.1 L349.5 650.6 L349.6 648.1 L349.7 645.6 L349.8 643.1 L349.9 640.6 L350.0 638.1 L350.1 635.6 L350.2 633.1 L350.2 630.5 L350.3 628.0 L350.4 625.5 L350.5 623.0 L350.6 620.5 L350.7 618.0 L350.8 615.5 L350.9 613.0 L351.0 610.5 L351.1 608.0 L351.2 605.5 L351.3 602.9 L351.4 600.4 L351.5 597.9 L351.6 595.4 L351.7 592.9 L351.8 590.4 L351.9 587.9 L352.0 585.4 L352.1 582.9 L352.2 580.4 L352.3 577.9 L352.4 575.3 L352.5 572.8 L352.6 570.3 L352.6 567.8 L352.7 565.3 L352.8 562.8 L352.9 560.3 L353.0 557.8 L353.1 555.3 L353.2 552.8 L353.3 550.3 L353.4 547.7 L353.5 545.2 L353.6 542.7 L353.7 540.2 L353.8 537.7 L353.9 535.2 L354.0 532.7 L354.1 530.2 L354.2 527.7 L354.3 525.2 L354.4 522.7 L354.5 520.1 L354.6 517.6 L354.7 515.1 L354.9 512.6 L355.0 510.1 L355.1 507.6 L355.2 505.1 L355.3 502.6 L355.4 500.1 L355.5 497.6 L355.6 495.1 L355.7 492.5 L355.8 490.0 L355.9 487.5 L356.0 485.0 L356.1 482.5 L356.2 480.0 L356.3 477.5 L356.5 475.0 L356.6 472.5 L356.7 470.0 L356.8 467.5 L356.9 464.9 L357.0 462.4 L357.1 459.9 L357.2 457.4 L357.3 454.9 L357.5 452.4 L357.6 449.9 L357.7 447.4 L357.8 444.9 L357.9 442.4 L358.0 439.9 L358.1 437.3 L358.2 434.8 L358.4 432.3 L358.5 429.8 L358.6 427.3 L358.7 424.8 L358.8 422.3 L358.9 419.8 L359.0 417.3 L359.1 414.8 L359.3 412.3 L359.4 409.7 L359.5 407.2 L359.6 404.7 L359.7 402.2 L359.8 399.7 L359.9 397.2 L360.0 394.7 L360.1 392.2 L360.2 389.7 L360.4 387.2 L360.5 384.7 L360.6 382.1 L360.7 379.6 L360.8 377.1 L360.9 374.6 L361.0 372.1 L361.1 369.6 L361.2 367.1 L361.3 364.6 L361.4 362.1 L361.5 359.6 L361.6 357.1 L361.7 354.5 L361.8 352.0 L361.9 349.5 L362.0 347.0 L362.1 344.5 L362.2 342.0 L362.3 339.5 L362.4 337.0 L362.5 334.5 L362.6 332.0 L362.7 329.5 L362.8 326.9 L362.9 324.4 L363.0 321.9 L363.1 319.4 L363.1 316.9 L363.2 314.4 L363.3 311.9 L363.4 309.4 L363.5 306.9 L363.6 304.4 L363.7 301.9 L363.8 299.3 L363.9 296.8 L364.0 294.3 L364.1 291.8 L364.2 289.3 L364.3 286.8 L364.4 284.3 L364.5 281.8 L364.6 279.3 L364.7 276.8 L364.8 274.3 L364.9 271.7 L365.0 269.2 L365.1 266.7 L365.2 264.2 L365.3 261.7 L365.4 259.2 L365.5 256.7 L365.6 254.2 L365.7 251.7 L365.8 249.2 L365.9 246.7 L366.0 244.1 L366.1 241.6 L366.2 239.1 L366.4 236.6 L366.5 234.1 L366.6 231.6 L366.7 229.1 L366.8 226.6 L367.0 224.1 L367.1 221.6 L367.2 219.1 L367.3 216.5 L367.5 214.0 L367.6 211.5 L367.7 209.0 L367.8 206.5 L368.0 204.0 L368.1 201.5 L368.2 199.0 L368.3 196.5 L368.5 194.0 L368.6 191.5 L368.7 188.9 L368.9 186.4 L369.0 183.9 L369.2 181.4 L369.3 178.9 L369.5 176.4 L369.6 173.9 L369.8 171.4 L369.9 168.9 L370.1 166.4 L370.3 163.9 L370.4 161.3 L370.6 158.8 L370.8 156.3 L371.0 153.8 L371.2 151.3 L371.4 148.8 L371.6 146.3 L371.8 143.8 L372.0 141.3 L372.2 138.8 L372.4 136.3 L372.6 133.7 L372.9 131.2 L373.2 128.7 L373.5 126.2 L373.8 123.7 L374.1 121.2 L374.5 118.7 L374.9 116.2 L375.3 113.7 L375.8 111.2 L376.4 108.7 L377.0 106.1 L377.7 103.6 L378.4 101.1 L379.3 98.6 L380.4 96.1 L381.6 93.6 L384.6 93.5 L387.1 93.1 L389.6 93.4 L392.1 94.4 L394.6 94.0 L397.1 93.6 L399.6 94.1 L402.1 94.4 L404.6 94.2 L407.1 94.7 L409.6 95.0 L412.1 94.8 L414.6 94.9 L417.1 95.4 L419.6 96.0 L422.1 95.8 L424.6 94.9 L427.1 95.2 L429.6 95.8 L432.1 94.7 L434.6 93.4 L437.1 93.3 L439.6 92.5 L442.1 91.3 L444.6 90.9 L447.1 91.0 L449.6 90.9 L452.1 91.1 L454.6 92.6 L457.1 94.7 L459.6 95.8 L462.1 94.9 L464.6 93.1 L467.1 91.4 L469.6 90.4 L472.1 91.0 L474.6 91.2 L477.1 90.3 L479.6 88.9 L482.1 87.7 L484.6 87.6 L487.1 87.4 L489.6 87.4 L492.1 88.1 L494.6 88.4 L497.1 87.6 L499.6 88.1 L502.1 89.1 L504.6 89.2 L507.1 89.5 L509.6 90.1 L512.1 90.4 L514.6 90.5 L517.1 90.8 L519.6 91.3 L522.1 92.7 L524.6 94.5 L527.1 94.7 L529.6 94.0 L532.1 93.5 L534.6 93.0 L537.1 93.2 L539.6 93.6 L542.1 93.8 L544.6 93.7 L547.1 93.0 L549.6 91.9 L552.1 91.7 L554.6 91.8 L557.1 92.6 L559.6 93.3 L562.1 93.0 L564.6 91.9 L567.1 90.3 L569.6 88.7 L572.1 88.7 L574.6 89.3 L577.1 88.9 L579.6 87.3 L582.1 84.5 L584.6 82.5 L587.1 83.2 L589.6 84.4 L592.1 84.6 L594.6 84.7 L597.1 85.3 L599.6 86.1 L602.1 87.1 L604.6 87.8 L607.1 87.9 L609.6 87.1 L612.1 86.4 L614.6 86.1 L617.1 85.7 L619.6 86.3 L622.1 87.1 L624.6 86.0 L627.1 84.5 L629.6 84.8 L632.1 85.0 L634.6 84.0 L637.1 82.9 L639.6 82.5 L642.1 82.2 L644.6 81.9 L647.1 82.1 L649.6 83.5 L652.1 85.0 L654.6 85.3 L657.1 85.1 L659.6 85.1 L662.1 85.6 L664.6 87.8 L667.1 91.3 L669.6 93.7 L672.0 94.5 L673.4 97.0 L674.7 99.6 L675.6 102.1 L676.1 104.7 L676.5 107.2 L676.8 109.7 L677.0 112.3 L677.3 114.8 L677.5 117.3 L677.6 119.9 L677.8 122.4 L678.0 125.0 L678.2 127.5 L678.3 130.0 L678.5 132.6 L678.6 135.1 L678.8 137.6 L678.9 140.2 L679.0 142.7 L679.2 145.3 L679.3 147.8 L679.4 150.3 L679.5 152.9 L679.7 155.4 L679.8 157.9 L679.9 160.5 L680.0 163.0 L680.2 165.6 L680.3 168.1 L680.5 170.6 L680.6 173.2 L680.7 175.7 L680.9 178.2 L681.0 180.8 L681.1 183.3 L681.3 185.9 L681.4 188.4 L681.5 190.9 L681.6 193.5 L681.7 196.0 L681.8 198.5 L682.0 201.1 L682.1 203.6 L682.2 206.2 L682.3 208.7 L682.4 211.2 L682.5 213.8 L682.6 216.3 L682.7 218.8 L682.8 221.4 L682.8 223.9 L682.9 226.5 L683.0 229.0 L683.1 231.5 L683.2 234.1 L683.3 236.6 L683.4 239.1 L683.5 241.7 L683.6 244.2 L683.6 246.8 L683.7 249.3 L683.8 251.8 L683.9 254.4 L684.0 256.9 L684.1 259.4 L684.1 262.0 L684.2 264.5 L684.3 267.1 L684.4 269.6 L684.4 272.1 L684.5 274.7 L684.6 277.2 L684.7 279.7 L684.7 282.3 L684.8 284.8 L684.9 287.4 L685.0 289.9 L685.0 292.4 L685.1 295.0 L685.2 297.5 L685.3 300.0 L685.3 302.6 L685.4 305.1 L685.5 307.7 L685.6 310.2 L685.6 312.7 L685.7 315.3 L685.8 317.8 L685.8 320.3 L685.9 322.9 L686.0 325.4 L686.0 328.0 L686.1 330.5 L686.1 333.0 L686.2 335.6 L686.3 338.1 L686.3 340.6 L686.4 343.2 L686.4 345.7 L686.5 348.3 L686.6 350.8 L686.6 353.3 L686.7 355.9 L686.7 358.4 L686.8 360.9 L686.8 363.5 L686.9 366.0 L687.0 368.6 L687.0 371.1 L687.1 373.6 L687.1 376.2 L687.2 378.7 L687.2 381.3 L687.3 383.8 L687.3 386.3 L687.4 388.9 L687.5 391.4 L687.5 393.9 L687.6 396.5 L687.6 399.0 L687.7 401.6 L687.7 404.1 L687.8 406.6 L687.8 409.2 L687.9 411.7 L687.9 414.2 L688.0 416.8 L688.1 419.3 L688.1 421.9 L688.2 424.4 L688.2 426.9 L688.3 429.5 L688.3 432.0 L688.4 434.5 L688.4 437.1 L688.5 439.6 L688.6 442.2 L688.6 444.7 L688.7 447.2 L688.7 449.8 L688.8 452.3 L688.9 454.8 L688.9 457.4 L689.0 459.9 L689.0 462.5 L689.1 465.0 L689.2 467.5 L689.2 470.1 L689.3 472.6 L689.4 475.1 L689.4 477.7 L689.5 480.2 L689.6 482.8 L689.6 485.3 L689.7 487.8 L689.8 490.4 L689.8 492.9 L689.9 495.4 L690.0 498.0 L690.0 500.5 L690.1 503.1 L690.2 505.6 L690.3 508.1 L690.4 510.7 L690.4 513.2 L690.5 515.7 L690.6 518.3 L690.7 520.8 L690.8 523.4 L690.8 525.9 L690.9 528.4 L691.0 531.0 L691.1 533.5 L691.2 536.0 L691.3 538.6 L691.3 541.1 L691.4 543.7 L691.5 546.2 L691.6 548.7 L691.7 551.3 L691.8 553.8 L691.9 556.3 L691.9 558.9 L692.0 561.4 L692.1 564.0 L692.2 566.5 L692.3 569.0 L692.4 571.6 L692.5 574.1 L692.6 576.6 L692.7 579.2 L692.8 581.7 L692.9 584.3 L693.0 586.8 L693.1 589.3 L693.2 591.9 L693.3 594.4 L693.4 596.9 L693.5 599.5 L693.6 602.0 L693.7 604.6 L693.8 607.1 L693.9 609.6 L694.0 612.2 L694.1 614.7 L694.2 617.2 L694.3 619.8 L694.4 622.3 L694.5 624.9 L694.6 627.4 L694.7 629.9 L694.8 632.5 L695.0 635.0 L695.1 637.6 L695.2 640.1 L695.3 642.6 L695.4 645.2 L695.6 647.7 L695.7 650.2 L695.8 652.8 L695.9 655.3 L696.1 657.9 L696.2 660.4 L696.3 662.9 L696.4 665.5 L696.6 668.0 L696.7 670.5 L696.9 673.1 L697.0 675.6 L697.1 678.2 L697.3 680.7 L697.4 683.2 L697.6 685.8 L697.7 688.3 L697.8 690.8 L698.0 693.4 L698.1 695.9 L698.3 698.5 L698.5 701.0 L698.6 703.5 L698.8 706.1 L698.9 708.6 L699.1 711.1 L699.2 713.7 L699.4 716.2 L699.6 718.8 L699.7 721.3 L699.9 723.8 L700.1 726.4 L700.3 728.9 L700.4 731.4 L700.6 734.0 L700.8 736.5 L701.0 739.1 L701.2 741.6 L701.4 744.1 L701.6 746.7 L701.8 749.2 L702.1 751.7 L702.3 754.3 L702.6 756.8 L702.9 759.4 L703.2 761.9 L703.5 764.4 L703.8 767.0 L704.1 769.5 L704.4 772.0 L704.7 774.6 L705.0 777.1 L705.4 779.7 L705.7 782.2 L706.0 784.7 L706.4 787.3 L706.7 789.8 L707.1 792.3 L707.4 794.9 L707.8 797.4 L708.1 800.0 L708.4 802.5 L708.8 805.0 L709.1 807.6 L709.4 810.1 L709.7 812.6 L710.0 815.2 L710.3 817.7 L710.6 820.3 L710.9 822.8 L711.2 825.3 L711.5 827.9 L711.8 830.4 L712.1 832.9 L712.4 835.5 L712.7 838.0 L713.0 840.6 L713.3 843.1 L713.6 845.6 L714.0 848.2 L714.4 850.7 L714.7 853.2 L715.2 855.8 L715.6 858.3 L716.0 860.9 L716.5 863.4 L716.9 865.9 L717.4 868.5 L717.9 871.0 L718.4 873.5 L718.8 876.1 L719.3 878.6 L719.7 881.2 L720.2 883.7 L720.6 886.2 L721.2 888.8 L721.9 891.3 L722.7 893.8 L723.7 896.4 L725.1 898.9 L726.9 901.5 L735.0 904.0 L738.0 904.5 L740.5 903.7 L743.0 903.2 L745.5 902.7 L748.0 902.5 L750.5 901.7 L753.0 900.2 L755.5 899.2 L758.0 899.6 L760.5 899.7 L763.0 899.4 L765.5 898.9 L768.0 898.5 L770.5 898.1 L773.0 897.7 L775.5 898.4 L778.0 899.4 L780.5 899.3 L783.0 899.3 L785.5 899.7 L788.0 899.3 L790.5 899.8 L793.0 902.6 L795.5 904.0 L798.0 903.1 L800.5 902.1 L803.0 901.0 L805.5 900.6 L808.0 899.6 L810.5 899.5 L813.0 901.1 L815.5 901.9 L818.0 901.1 L820.5 901.7 L823.0 903.5 L825.5 904.2 L828.0 906.0 L830.5 908.2 L833.0 909.2 L835.5 909.5 L838.0 907.8 L840.5 905.8 L843.0 905.9 L845.5 905.7 L848.0 905.0 L850.5 905.6 L853.0 906.1 L855.5 905.9 L858.0 906.3 L860.5 906.5 L863.0 905.2 L865.5 904.0 L868.0 903.3 L870.5 903.0 L873.0 902.7 L875.5 902.4 L878.0 902.9 L880.5 903.9 L883.0 903.5 L885.5 902.6 L888.0 903.0 L890.5 902.6 L893.0 901.4 L895.5 901.3 L898.0 901.4 L900.5 900.8 L903.0 900.5 L905.5 900.8 L908.0 901.4 L910.5 902.0 L913.0 901.6 L915.5 901.6 L918.0 902.6 L920.5 902.8 L923.0 902.5 L925.5 902.2 L928.0 902.7 L930.5 901.9 L933.0 899.9 L935.5 899.6 L938.0 901.7 L940.5 903.4 L943.0 904.0 L945.5 903.9 L948.0 904.1 L950.5 903.7 L953.0 903.1 L955.5 904.8 L958.0 906.4 L960.5 905.8 L963.0 906.0 L965.5 907.0 L968.0 907.6 L970.5 908.8 L973.0 909.2 L975.5 907.4 L978.0 905.7 L980.5 905.6 L983.0 906.0 L985.5 906.8 L988.0 907.9 L990.5 908.2 L993.0 907.9 L995.5 907.8 L998.0 907.1 L1000.5 905.6 L1003.0 904.5 L1005.5 903.9 L1008.0 902.8 L1010.5 901.6 L1013.0 902.4 L1015.5 904.1 L1018.0 903.7 L1020.5 903.4 L1023.0 903.3 L1025.5 901.2 L1028.0 899.2 L1030.5 898.7 L1033.0 898.1 L1035.5 895.9 L1038.0 894.0 L1040.5 893.5 L1043.0 894.1 L1045.5 894.2 L1048.0 893.5 L1050.5 893.3 L1053.0 893.8 L1055.5 894.6 L1058.0 894.4 L1060.5 893.1 L1063.0 892.1 L1065.5 892.9 L1068.0 895.2 L1070.5 897.5 L1073.0 898.7 L1075.5 898.1 L1078.0 898.1 L1080.5 898.7 L1083.0 898.4 L1085.5 897.5 L1088.0 898.3 L1090.5 900.0 L1093.0 900.9 L1095.5 902.4 L1098.0 902.9 L1100.5 901.3 L1103.0 899.4 L1105.5 898.6 L1108.0 898.6 L1110.5 900.1 L1113.0 900.6 L1115.5 898.9 L1118.0 897.5 L1120.5 897.3 L1123.0 898.3 L1125.5 899.9 L1128.0 898.7 L1130.5 896.1 L1133.0 896.7 L1135.5 899.0 L1138.0 900.0 L1140.5 899.5 L1143.0 898.4 L1145.5 899.0 L1148.0 900.3 L1150.5 899.9 L1153.0 898.9 L1155.5 899.6 L1158.0 901.3 L1160.5 902.1 L1163.0 901.9 L1165.5 903.0 L1168.0 903.9 L1170.5 902.6 L1173.0 901.1 L1175.5 900.7 L1178.0 900.9 L1180.5 901.7 L1183.0 902.1 L1185.5 901.3 L1188.0 901.2 L1190.5 900.5 L1193.0 898.7 L1195.5 897.8 L1198.0 898.0 L1200.5 898.8 L1203.0 900.0 L1205.5 899.4 L1208.0 898.6 L1210.5 899.1 L1213.0 899.2 L1215.5 899.4 L1218.0 900.4 L1220.5 902.0 L1223.0 902.3 L1225.5 900.6 L1228.0 898.4 L1230.5 898.2 L1233.0 899.4 L1235.5 900.2 L1238.0 900.9 L1240.5 901.3 L1243.0 901.7 L1245.5 901.5 L1248.0 900.5 L1250.5 899.4 L1253.0 899.6 L1255.5 900.5 L1258.0 901.1 L1260.5 901.7 L1263.0 902.1 L1265.5 901.8 L1268.0 902.6 L1270.5 903.4 L1273.0 902.0 L1275.5 901.5 L1278.0 904.0 L1280.5 905.4 L1283.0 904.0 L1285.5 901.8 L1288.0 900.3 L1290.5 900.9 L1293.0 902.7 L1295.5 903.7 L1298.0 904.0 L1300.5 903.8 L1303.0 904.0 L1305.5 905.1 L1308.0 905.3 L1310.5 904.9 L1313.0 904.4 L1315.5 903.3 L1318.0 903.1 L1320.5 904.6 L1323.0 905.1 L1325.5 903.4 L1328.0 901.4 L1330.5 899.6 L1333.0 899.2 L1335.5 900.6 L1338.0 901.3 L1340.5 901.9 L1343.0 901.7 L1345.5 902.4 L1348.0 904.0 L1350.5 904.0 L1353.0 902.8 L1355.5 903.0 L1358.0 904.6 L1360.5 905.2 L1363.0 904.2 L1365.5 903.0 L1368.0 903.4 L1370.5 904.4 L1373.0 903.6 L1375.5 902.0 L1378.0 902.3 L1380.5 904.0 L1383.0 905.3 L1385.5 905.6 L1388.0 905.9 L1390.5 906.3 L1393.0 906.3 L1395.5 905.1 L1398.0 904.1 L1400.5 903.1 L1403.0 902.4 L1405.5 903.0 L1408.0 903.6 L1410.5 903.3 L1413.0 901.9 L1415.5 901.5 L1418.0 901.5 L1420.5 901.1 L1423.0 901.9 L1425.5 902.3 L1428.0 901.5 L1430.5 901.3 L1433.0 901.3 L1435.5 900.3 L1438.0 898.8 L1440.5 898.2 L1443.0 898.5 L1445.5 899.7 L1448.0 900.8 L1450.5 901.1 L1453.0 901.0 L1455.5 899.2 L1458.0 897.9 L1460.5 898.7 L1463.0 900.3 L1465.5 902.0 L1468.0 902.4 L1470.5 900.8 L1473.0 899.7 L1475.5 901.5 L1478.0 904.2 L1480.5 905.3 L1483.0 904.9 L1485.5 903.2 L1488.0 902.6 L1490.5 903.5 L1493.0 905.0 L1495.5 905.2 L1498.0 904.1 L1500.5 903.4 L1503.0 903.4"/>
<path stroke="#74282d" d="M196.0 912.1 L198.5 911.0 L201.0 910.1 L203.5 909.8 L206.0 908.5 L208.5 907.2 L211.0 907.2 L213.5 907.6 L216.0 907.8 L218.5 907.8 L221.0 907.7 L223.5 908.6 L226.0 909.3 L228.5 908.5 L231.0 906.6 L233.5 906.1 L236.0 907.5 L238.5 908.8 L241.0 908.8 L243.5 907.9 L246.0 907.7 L248.5 907.8 L251.0 907.4 L253.5 906.4 L256.0 905.6 L258.5 906.7 L261.0 908.6 L263.5 909.9 L266.0 909.8 L268.5 909.1 L271.0 908.9 L273.5 908.6 L276.0 908.3 L278.5 908.4 L281.0 908.1 L283.5 907.8 L286.0 908.2 L288.5 908.3 L291.0 906.7 L293.5 905.7 L296.0 906.3 L298.5 907.3 L301.0 907.0 L303.5 906.3 L306.0 906.2 L308.5 906.1 L311.0 905.9 L313.5 907.3 L316.0 908.6 L318.5 908.8 L321.0 908.3 L327.0 908.0 L334.3 905.5 L336.1 902.9 L337.3 900.4 L338.2 897.9 L339.0 895.3 L339.7 892.8 L340.1 890.3 L340.5 887.7 L340.8 885.2 L341.1 882.7 L341.3 880.1 L341.5 877.6 L341.7 875.1 L341.9 872.5 L342.0 870.0 L342.2 867.5 L342.3 865.0 L342.4 862.4 L342.5 859.9 L342.7 857.4 L342.8 854.8 L342.9 852.3 L343.0 849.8 L343.1 847.2 L343.2 844.7 L343.3 842.2 L343.4 839.6 L343.5 837.1 L343.6 834.6 L343.7 832.0 L343.8 829.5 L343.9 827.0 L344.0 824.4 L344.2 821.9 L344.3 819.4 L344.4 816.8 L344.5 814.3 L344.6 811.8 L344.7 809.2 L344.8 806.7 L344.9 804.2 L345.0 801.6 L345.1 799.1 L345.2 796.6 L345.3 794.0 L345.4 791.5 L345.5 789.0 L345.6 786.5 L345.7 783.9 L345.8 781.4 L345.9 778.9 L346.0 776.3 L346.1 773.8 L346.2 771.3 L346.3 768.7 L346.4 766.2 L346.5 763.7 L346.6 761.1 L346.7 758.6 L346.8 756.1 L346.9 753.5 L347.0 751.0 L347.2 748.5 L347.3 745.9 L347.4 743.4 L347.5 740.9 L347.6 738.3 L347.7 735.8 L347.8 733.3 L347.9 730.7 L348.0 728.2 L348.1 725.7 L348.2 723.1 L348.3 720.6 L348.4 718.1 L348.5 715.5 L348.5 713.0 L348.6 710.5 L348.7 707.9 L348.8 705.4 L348.9 702.9 L349.0 700.4 L349.1 697.8 L349.2 695.3 L349.3 692.8 L349.4 690.2 L349.5 687.7 L349.6 685.2 L349.7 682.6 L349.8 680.1 L349.9 677.6 L350.0 675.0 L350.1 672.5 L350.2 670.0 L350.3 667.4 L350.4 664.9 L350.5 662.4 L350.6 659.8 L350.7 657.3 L350.8 654.8 L350.9 652.2 L351.0 649.7 L351.1 647.2 L351.2 644.6 L351.2 642.1 L351.3 639.6 L351.4 637.0 L351.5 634.5 L351.6 632.0 L351.7 629.4 L351.8 626.9 L351.9 624.4 L352.0 621.9 L352.1 619.3 L352.2 616.8 L352.3 614.3 L352.4 611.7 L352.5 609.2 L352.6 606.7 L352.7 604.1 L352.8 601.6 L352.9 599.1 L353.0 596.5 L353.1 594.0 L353.2 591.5 L353.3 588.9 L353.4 586.4 L353.5 583.9 L353.6 581.3 L353.6 578.8 L353.7 576.3 L353.8 573.7 L353.9 571.2 L354.0 568.7 L354.1 566.1 L354.2 563.6 L354.3 561.1 L354.4 558.5 L354.5 556.0 L354.6 553.5 L354.7 550.9 L354.8 548.4 L354.9 545.9 L355.0 543.4 L355.1 540.8 L355.2 538.3 L355.3 535.8 L355.4 533.2 L355.5 530.7 L355.6 528.2 L355.7 525.6 L355.9 523.1 L356.0 520.6 L356.1 518.0 L356.2 515.5 L356.3 513.0 L356.4 510.4 L356.5 507.9 L356.6 505.4 L356.7 502.8 L356.8 500.3 L356.9 497.8 L357.0 495.2 L357.1 492.7 L357.2 490.2 L357.3 487.6 L357.5 485.1 L357.6 482.6 L357.7 480.0 L357.8 477.5 L357.9 475.0 L358.0 472.4 L358.1 469.9 L358.2 467.4 L358.3 464.8 L358.5 462.3 L358.6 459.8 L358.7 457.3 L358.8 454.7 L358.9 452.2 L359.0 449.7 L359.1 447.1 L359.2 444.6 L359.4 442.1 L359.5 439.5 L359.6 437.0 L359.7 434.5 L359.8 431.9 L359.9 429.4 L360.0 426.9 L360.1 424.3 L360.3 421.8 L360.4 419.3 L360.5 416.7 L360.6 414.2 L360.7 411.7 L360.8 409.1 L360.9 406.6 L361.0 404.1 L361.1 401.5 L361.2 399.0 L361.4 396.5 L361.5 393.9 L361.6 391.4 L361.7 388.9 L361.8 386.3 L361.9 383.8 L362.0 381.3 L362.1 378.8 L362.2 376.2 L362.3 373.7 L362.4 371.2 L362.5 368.6 L362.6 366.1 L362.7 363.6 L362.8 361.0 L362.9 358.5 L363.0 356.0 L363.1 353.4 L363.2 350.9 L363.3 348.4 L363.4 345.8 L363.5 343.3 L363.6 340.8 L363.7 338.2 L363.8 335.7 L363.9 333.2 L364.0 330.6 L364.1 328.1 L364.1 325.6 L364.2 323.0 L364.3 320.5 L364.4 318.0 L364.5 315.4 L364.6 312.9 L364.7 310.4 L364.8 307.8 L364.9 305.3 L365.0 302.8 L365.1 300.3 L365.2 297.7 L365.3 295.2 L365.4 292.7 L365.5 290.1 L365.6 287.6 L365.7 285.1 L365.8 282.5 L365.9 280.0 L366.0 277.5 L366.1 274.9 L366.2 272.4 L366.3 269.9 L366.4 267.3 L366.5 264.8 L366.6 262.3 L366.7 259.7 L366.8 257.2 L366.9 254.7 L367.0 252.1 L367.1 249.6 L367.2 247.1 L367.4 244.5 L367.5 242.0 L367.6 239.5 L367.7 236.9 L367.8 234.4 L368.0 231.9 L368.1 229.3 L368.2 226.8 L368.3 224.3 L368.5 221.7 L368.6 219.2 L368.7 216.7 L368.8 214.2 L369.0 211.6 L369.1 209.1 L369.2 206.6 L369.3 204.0 L369.5 201.5 L369.6 199.0 L369.7 196.4 L369.9 193.9 L370.0 191.4 L370.2 188.8 L370.3 186.3 L370.5 183.8 L370.6 181.2 L370.8 178.7 L370.9 176.2 L371.1 173.6 L371.3 171.1 L371.4 168.6 L371.6 166.0 L371.8 163.5 L372.0 161.0 L372.2 158.4 L372.4 155.9 L372.6 153.4 L372.8 150.8 L373.0 148.3 L373.2 145.8 L373.4 143.2 L373.6 140.7 L373.9 138.2 L374.2 135.7 L374.5 133.1 L374.8 130.6 L375.1 128.1 L375.5 125.5 L375.9 123.0 L376.3 120.5 L376.8 117.9 L377.4 115.4 L378.0 112.9 L378.7 110.3 L379.4 107.8 L380.3 105.3 L381.4 102.7 L382.6 100.2 L385.6 98.9 L388.1 98.6 L390.6 100.7 L393.1 104.8 L395.6 106.2 L398.1 105.9 L400.6 105.6 L403.1 105.8 L405.6 105.9 L408.1 105.4 L410.6 105.0 L413.1 104.4 L415.6 103.6 L418.1 103.6 L420.6 104.4 L423.1 105.1 L425.6 104.8 L428.1 103.6 L430.6 102.7 L433.1 103.0 L435.6 102.9 L438.1 102.2 L440.6 102.4 L443.1 102.1 L445.6 101.2 L448.1 99.8 L450.6 98.5 L453.1 98.2 L455.6 98.4 L458.1 99.0 L460.6 99.9 L463.1 100.3 L465.6 100.2 L468.1 99.6 L470.6 98.9 L473.1 98.5 L475.6 98.6 L478.1 99.5 L480.6 99.7 L483.1 99.5 L485.6 99.3 L488.1 98.7 L490.6 98.1 L493.1 97.9 L495.6 98.1 L498.1 98.8 L500.6 98.7 L503.1 97.1 L505.6 96.1 L508.1 98.1 L510.6 99.1 L513.1 98.2 L515.6 97.8 L518.1 97.9 L520.6 98.0 L523.1 98.2 L525.6 98.5 L528.1 98.7 L530.6 97.7 L533.1 97.0 L535.6 96.8 L538.1 96.7 L540.6 97.1 L543.1 97.0 L545.6 96.9 L548.1 97.3 L550.6 97.2 L553.1 97.0 L555.6 97.0 L558.1 95.8 L560.6 95.3 L563.1 95.6 L565.6 95.0 L568.1 94.7 L570.6 95.9 L573.1 97.4 L575.6 98.1 L578.1 97.0 L580.6 95.7 L583.1 95.7 L585.6 96.3 L588.1 96.4 L590.6 97.2 L593.1 97.8 L595.6 97.7 L598.1 97.8 L600.6 98.1 L603.1 98.6 L605.6 98.5 L608.1 97.8 L610.6 98.2 L613.1 99.3 L615.6 100.1 L618.1 99.9 L620.6 98.8 L623.1 97.5 L625.6 96.5 L628.1 96.0 L630.6 95.3 L633.1 94.2 L635.6 93.4 L638.1 92.7 L640.6 91.2 L643.1 89.7 L645.6 89.7 L648.1 90.9 L650.6 92.3 L653.1 93.8 L655.6 95.4 L658.1 97.0 L660.6 98.4 L663.1 98.4 L665.6 97.3 L669.0 101.1 L670.4 103.6 L671.7 106.2 L672.6 108.7 L673.1 111.2 L673.5 113.8 L673.8 116.3 L674.0 118.9 L674.3 121.4 L674.5 123.9 L674.6 126.5 L674.8 129.0 L675.0 131.5 L675.2 134.1 L675.3 136.6 L675.5 139.1 L675.6 141.7 L675.8 144.2 L675.9 146.7 L676.0 149.3 L676.2 151.8 L676.3 154.4 L676.4 156.9 L676.5 159.4 L676.7 162.0 L676.8 164.5 L676.9 167.0 L677.0 169.6 L677.2 172.1 L677.3 174.6 L677.5 177.2 L677.6 179.7 L677.7 182.2 L677.9 184.8 L678.0 187.3 L678.1 189.9 L678.3 192.4 L678.4 194.9 L678.5 197.5 L678.6 200.0 L678.7 202.5 L678.8 205.1 L679.0 207.6 L679.1 210.1 L679.2 212.7 L679.3 215.2 L679.4 217.7 L679.5 220.3 L679.6 222.8 L679.7 225.4 L679.8 227.9 L679.8 230.4 L679.9 233.0 L680.0 235.5 L680.1 238.0 L680.2 240.6 L680.3 243.1 L680.4 245.6 L680.5 248.2 L680.6 250.7 L680.6 253.2 L680.7 255.8 L680.8 258.3 L680.9 260.9 L681.0 263.4 L681.1 265.9 L681.1 268.5 L681.2 271.0 L681.3 273.5 L681.4 276.1 L681.4 278.6 L681.5 281.1 L681.6 283.7 L681.7 286.2 L681.7 288.7 L681.8 291.3 L681.9 293.8 L682.0 296.4 L682.0 298.9 L682.1 301.4 L682.2 304.0 L682.3 306.5 L682.3 309.0 L682.4 311.6 L682.5 314.1 L682.6 316.6 L682.6 319.2 L682.7 321.7 L682.8 324.2 L682.8 326.8 L682.9 329.3 L683.0 331.9 L683.0 334.4 L683.1 336.9 L683.1 339.5 L683.2 342.0 L683.3 344.5 L683.3 347.1 L683.4 349.6 L683.4 352.1 L683.5 354.7 L683.6 357.2 L683.6 359.7 L683.7 362.3 L683.7 364.8 L683.8 367.4 L683.8 369.9 L683.9 372.4 L684.0 375.0 L684.0 377.5 L684.1 380.0 L684.1 382.6 L684.2 385.1 L684.2 387.6 L684.3 390.2 L684.3 392.7 L684.4 395.2 L684.5 397.8 L684.5 400.3 L684.6 402.9 L684.6 405.4 L684.7 407.9 L684.7 410.5 L684.8 413.0 L684.8 415.5 L684.9 418.1 L684.9 420.6 L685.0 423.1 L685.1 425.7 L685.1 428.2 L685.2 430.7 L685.2 433.3 L685.3 435.8 L685.3 438.4 L685.4 440.9 L685.4 443.4 L685.5 446.0 L685.6 448.5 L685.6 451.0 L685.7 453.6 L685.7 456.1 L685.8 458.6 L685.9 461.2 L685.9 463.7 L686.0 466.2 L686.0 468.8 L686.1 471.3 L686.2 473.9 L686.2 476.4 L686.3 478.9 L686.4 481.5 L686.4 484.0 L686.5 486.5 L686.6 489.1 L686.6 491.6 L686.7 494.1 L686.8 496.7 L686.8 499.2 L686.9 501.7 L687.0 504.3 L687.0 506.8 L687.1 509.4 L687.2 511.9 L687.3 514.4 L687.4 517.0 L687.4 519.5 L687.5 522.0 L687.6 524.6 L687.7 527.1 L687.8 529.6 L687.8 532.2 L687.9 534.7 L688.0 537.2 L688.1 539.8 L688.2 542.3 L688.3 544.9 L688.3 547.4 L688.4 549.9 L688.5 552.5 L688.6 555.0 L688.7 557.5 L688.8 560.1 L688.9 562.6 L688.9 565.1 L689.0 567.7 L689.1 570.2 L689.2 572.7 L689.3 575.3 L689.4 577.8 L689.5 580.4 L689.6 582.9 L689.7 585.4 L689.8 588.0 L689.9 590.5 L690.0 593.0 L690.1 595.6 L690.2 598.1 L690.3 600.6 L690.4 603.2 L690.5 605.7 L690.6 608.2 L690.7 610.8 L690.8 613.3 L690.9 615.9 L691.0 618.4 L691.1 620.9 L691.2 623.5 L691.3 626.0 L691.4 628.5 L691.5 631.1 L691.6 633.6 L691.7 636.1 L691.8 638.7 L692.0 641.2 L692.1 643.7 L692.2 646.3 L692.3 648.8 L692.4 651.4 L692.6 653.9 L692.7 656.4 L692.8 659.0 L692.9 661.5 L693.1 664.0 L693.2 666.6 L693.3 669.1 L693.4 671.6 L693.6 674.2 L693.7 676.7 L693.9 679.2 L694.0 681.8 L694.1 684.3 L694.3 686.9 L694.4 689.4 L694.6 691.9 L694.7 694.5 L694.8 697.0 L695.0 699.5 L695.1 702.1 L695.3 704.6 L695.5 707.1 L695.6 709.7 L695.8 712.2 L695.9 714.7 L696.1 717.3 L696.2 719.8 L696.4 722.4 L696.6 724.9 L696.7 727.4 L696.9 730.0 L697.1 732.5 L697.3 735.0 L697.4 737.6 L697.6 740.1 L697.8 742.6 L698.0 745.2 L698.2 747.7 L698.4 750.2 L698.6 752.8 L698.8 755.3 L699.1 757.9 L699.3 760.4 L699.6 762.9 L699.9 765.5 L700.2 768.0 L700.5 770.5 L700.8 773.1 L701.1 775.6 L701.4 778.1 L701.7 780.7 L702.0 783.2 L702.4 785.7 L702.7 788.3 L703.0 790.8 L703.4 793.4 L703.7 795.9 L704.1 798.4 L704.4 801.0 L704.8 803.5 L705.1 806.0 L705.4 808.6 L705.8 811.1 L706.1 813.6 L706.4 816.2 L706.7 818.7 L707.0 821.2 L707.3 823.8 L707.6 826.3 L707.9 828.9 L708.2 831.4 L708.5 833.9 L708.8 836.5 L709.1 839.0 L709.4 841.5 L709.7 844.1 L710.0 846.6 L710.3 849.1 L710.6 851.7 L711.0 854.2 L711.4 856.7 L711.7 859.3 L712.2 861.8 L712.6 864.4 L713.0 866.9 L713.5 869.4 L713.9 872.0 L714.4 874.5 L714.9 877.0 L715.4 879.6 L715.8 882.1 L716.3 884.6 L716.7 887.2 L717.2 889.7 L717.6 892.2 L718.2 894.8 L718.9 897.3 L719.7 899.9 L720.7 902.4 L722.1 904.9 L723.9 907.5 L732.0 910.0 L735.0 908.6 L737.5 907.0 L740.0 906.0 L742.5 905.9 L745.0 906.5 L747.5 907.0 L750.0 907.0 L752.5 906.5 L755.0 905.6 L757.5 906.0 L760.0 907.9 L762.5 909.2 L765.0 909.0 L767.5 909.0 L770.0 908.7 L772.5 908.6 L775.0 909.1 L777.5 909.3 L780.0 907.5 L782.5 905.5 L785.0 906.0 L787.5 906.7 L790.0 905.7 L792.5 905.6 L795.0 906.5 L797.5 907.3 L800.0 907.6 L802.5 907.6 L805.0 907.8 L807.5 908.1 L810.0 908.3 L812.5 907.7 L815.0 908.1 L817.5 909.1 L820.0 908.7 L822.5 908.3 L825.0 909.6 L827.5 911.0 L830.0 911.5 L832.5 910.8 L835.0 910.4 L837.5 911.9 L840.0 913.6 L842.5 914.2 L845.0 914.9 L847.5 915.4 L850.0 914.5 L852.5 912.8 L855.0 912.8 L857.5 913.1 L860.0 912.8 L862.5 912.4 L865.0 911.2 L867.5 910.0 L870.0 909.8 L872.5 911.0 L875.0 911.3 L877.5 910.1 L880.0 909.6 L882.5 910.9 L885.0 912.1 L887.5 912.2 L890.0 912.0 L892.5 912.1 L895.0 911.6 L897.5 910.1 L900.0 908.5 L902.5 908.4 L905.0 909.7 L907.5 910.7 L910.0 910.6 L912.5 910.5 L915.0 909.0 L917.5 906.7 L920.0 906.0 L922.5 906.8 L925.0 907.8 L927.5 908.6 L930.0 909.2 L932.5 909.0 L935.0 908.1 L937.5 907.5 L940.0 907.4 L942.5 907.1 L945.0 906.4 L947.5 906.2 L950.0 906.7 L952.5 907.9 L955.0 909.6 L957.5 910.7 L960.0 910.5 L962.5 910.0 L965.0 909.6 L967.5 909.5 L970.0 910.3 L972.5 909.5 L975.0 907.4 L977.5 906.4 L980.0 907.0 L982.5 908.1 L985.0 908.2 L987.5 907.9 L990.0 906.9 L992.5 905.0 L995.0 904.9 L997.5 905.3 L1000.0 905.5 L1002.5 906.3 L1005.0 907.1 L1007.5 907.4 L1010.0 907.0 L1012.5 905.4 L1015.0 903.7 L1017.5 903.7 L1020.0 905.5 L1022.5 908.2 L1025.0 909.8 L1027.5 908.7 L1030.0 907.1 L1032.5 906.5 L1035.0 907.2 L1037.5 907.5 L1040.0 906.7 L1042.5 905.8 L1045.0 904.9 L1047.5 904.0 L1050.0 904.7 L1052.5 905.6 L1055.0 905.4 L1057.5 905.0 L1060.0 905.2 L1062.5 904.9 L1065.0 904.4 L1067.5 904.2 L1070.0 903.2 L1072.5 902.2 L1075.0 902.3 L1077.5 903.1 L1080.0 904.0 L1082.5 905.3 L1085.0 906.0 L1087.5 905.5 L1090.0 905.0 L1092.5 906.0 L1095.0 906.9 L1097.5 905.9 L1100.0 903.8 L1102.5 902.8 L1105.0 903.5 L1107.5 903.3 L1110.0 901.7 L1112.5 901.3 L1115.0 902.1 L1117.5 903.4 L1120.0 904.2 L1122.5 904.5 L1125.0 904.4 L1127.5 903.9 L1130.0 904.4 L1132.5 906.0 L1135.0 906.1 L1137.5 904.7 L1140.0 903.5 L1142.5 903.3 L1145.0 903.1 L1147.5 902.8 L1150.0 902.6 L1152.5 904.1 L1155.0 905.6 L1157.5 905.0 L1160.0 904.4 L1162.5 904.8 L1165.0 906.2 L1167.5 906.5 L1170.0 905.0 L1172.5 904.3 L1175.0 905.1 L1177.5 905.7 L1180.0 906.3 L1182.5 906.4 L1185.0 906.0 L1187.5 906.4 L1190.0 907.5 L1192.5 907.7 L1195.0 906.7 L1197.5 905.8 L1200.0 905.2 L1202.5 905.3 L1205.0 906.5 L1207.5 907.3 L1210.0 908.0 L1212.5 908.2 L1215.0 908.7 L1217.5 909.6 L1220.0 909.4 L1222.5 909.2 L1225.0 909.3 L1227.5 908.3 L1230.0 907.1 L1232.5 906.3 L1235.0 906.1 L1237.5 905.7 L1240.0 905.3 L1242.5 906.1 L1245.0 907.0 L1247.5 907.1 L1250.0 907.1 L1252.5 908.2 L1255.0 908.0 L1257.5 906.9 L1260.0 906.9 L1262.5 907.5 L1265.0 907.6 L1267.5 907.1 L1270.0 905.4 L1272.5 904.8 L1275.0 906.1 L1277.5 906.3 L1280.0 907.1 L1282.5 909.2 L1285.0 909.8 L1287.5 907.9 L1290.0 906.6 L1292.5 907.5 L1295.0 908.7 L1297.5 909.5 L1300.0 908.9 L1302.5 908.0 L1305.0 907.9 L1307.5 907.7 L1310.0 907.8 L1312.5 907.7 L1315.0 906.7 L1317.5 906.0 L1320.0 905.1 L1322.5 904.0 L1325.0 903.0 L1327.5 903.1 L1330.0 904.5 L1332.5 905.2 L1335.0 905.7 L1337.5 906.7 L1340.0 907.5 L1342.5 907.8 L1345.0 908.2 L1347.5 909.2 L1350.0 909.6 L1352.5 909.7 L1355.0 910.1 L1357.5 910.1 L1360.0 909.1 L1362.5 908.8 L1365.0 909.3 L1367.5 909.3 L1370.0 908.9 L1372.5 908.5 L1375.0 909.5 L1377.5 910.5 L1380.0 909.9 L1382.5 909.3 L1385.0 909.0 L1387.5 909.3 L1390.0 909.7 L1392.5 909.0 L1395.0 907.9 L1397.5 907.7 L1400.0 908.1 L1402.5 907.3 L1405.0 907.5 L1407.5 908.6 L1410.0 908.8 L1412.5 908.6 L1415.0 909.1 L1417.5 909.5 L1420.0 909.2 L1422.5 910.9 L1425.0 913.1 L1427.5 912.9 L1430.0 911.6 L1432.5 911.8 L1435.0 912.5 L1437.5 912.7 L1440.0 912.2 L1442.5 912.1 L1445.0 911.7 L1447.5 910.9 L1450.0 910.5 L1452.5 910.4 L1455.0 910.8 L1457.5 910.4 L1460.0 909.1 L1462.5 907.9 L1465.0 907.4 L1467.5 907.8 L1470.0 908.9 L1472.5 909.7 L1475.0 909.9 L1477.5 910.5 L1480.0 911.6 L1482.5 911.4 L1485.0 910.3 L1487.5 909.4 L1490.0 909.6 L1492.5 911.0 L1495.0 912.5 L1497.5 912.6 L1500.0 911.3 L1502.5 910.2"/>
<path stroke="#3b8146" d="M196.0 900.7 L198.5 901.5 L201.0 903.6 L203.5 905.9 L206.0 906.3 L208.5 905.3 L211.0 905.1 L213.5 905.6 L216.0 906.6 L218.5 907.0 L221.0 907.1 L223.5 907.3 L226.0 907.1 L228.5 906.5 L231.0 906.9 L233.5 907.8 L236.0 907.3 L238.5 906.6 L241.0 906.7 L243.5 907.2 L246.0 907.3 L248.5 906.5 L251.0 905.3 L253.5 904.1 L256.0 904.1 L258.5 904.6 L261.0 904.4 L263.5 903.4 L266.0 902.9 L268.5 902.2 L271.0 900.4 L273.5 899.6 L276.0 899.6 L278.5 899.7 L281.0 899.4 L283.5 899.0 L286.0 898.7 L288.5 899.0 L291.0 899.7 L293.5 899.4 L296.0 898.4 L298.5 898.3 L301.0 899.0 L303.5 899.9 L306.0 899.9 L308.5 898.8 L311.0 899.4 L313.5 900.7 L316.0 901.7 L318.5 902.4 L325.0 903.0 L332.3 900.5 L334.1 897.9 L335.3 895.4 L336.2 892.9 L337.0 890.4 L337.7 887.8 L338.1 885.3 L338.5 882.8 L338.8 880.2 L339.1 877.7 L339.3 875.2 L339.5 872.7 L339.7 870.1 L339.9 867.6 L340.0 865.1 L340.2 862.6 L340.3 860.0 L340.4 857.5 L340.5 855.0 L340.7 852.4 L340.8 849.9 L340.9 847.4 L341.0 844.9 L341.1 842.3 L341.2 839.8 L341.3 837.3 L341.4 834.7 L341.5 832.2 L341.6 829.7 L341.7 827.2 L341.8 824.6 L341.9 822.1 L342.0 819.6 L342.2 817.1 L342.3 814.5 L342.4 812.0 L342.5 809.5 L342.6 806.9 L342.7 804.4 L342.8 801.9 L342.9 799.4 L343.0 796.8 L343.1 794.3 L343.2 791.8 L343.3 789.2 L343.4 786.7 L343.5 784.2 L343.6 781.7 L343.7 779.1 L343.8 776.6 L343.9 774.1 L344.0 771.5 L344.1 769.0 L344.2 766.5 L344.3 764.0 L344.4 761.4 L344.5 758.9 L344.6 756.4 L344.7 753.9 L344.8 751.3 L344.9 748.8 L345.0 746.3 L345.2 743.7 L345.3 741.2 L345.4 738.7 L345.5 736.2 L345.6 733.6 L345.7 731.1 L345.8 728.6 L345.9 726.0 L346.0 723.5 L346.1 721.0 L346.2 718.5 L346.3 715.9 L346.4 713.4 L346.5 710.9 L346.5 708.4 L346.6 705.8 L346.7 703.3 L346.8 700.8 L346.9 698.2 L347.0 695.7 L347.1 693.2 L347.2 690.7 L347.3 688.1 L347.4 685.6 L347.5 683.1 L347.6 680.5 L347.7 678.0 L347.8 675.5 L347.9 673.0 L348.0 670.4 L348.1 667.9 L348.2 665.4 L348.3 662.8 L348.4 660.3 L348.5 657.8 L348.6 655.3 L348.7 652.7 L348.8 650.2 L348.9 647.7 L349.0 645.2 L349.1 642.6 L349.2 640.1 L349.2 637.6 L349.3 635.0 L349.4 632.5 L349.5 630.0 L349.6 627.5 L349.7 624.9 L349.8 622.4 L349.9 619.9 L350.0 617.3 L350.1 614.8 L350.2 612.3 L350.3 609.8 L350.4 607.2 L350.5 604.7 L350.6 602.2 L350.7 599.7 L350.8 597.1 L350.9 594.6 L351.0 592.1 L351.1 589.5 L351.2 587.0 L351.3 584.5 L351.4 582.0 L351.5 579.4 L351.6 576.9 L351.6 574.4 L351.7 571.8 L351.8 569.3 L351.9 566.8 L352.0 564.3 L352.1 561.7 L352.2 559.2 L352.3 556.7 L352.4 554.1 L352.5 551.6 L352.6 549.1 L352.7 546.6 L352.8 544.0 L352.9 541.5 L353.0 539.0 L353.1 536.5 L353.2 533.9 L353.3 531.4 L353.4 528.9 L353.5 526.3 L353.6 523.8 L353.7 521.3 L353.9 518.8 L354.0 516.2 L354.1 513.7 L354.2 511.2 L354.3 508.6 L354.4 506.1 L354.5 503.6 L354.6 501.1 L354.7 498.5 L354.8 496.0 L354.9 493.5 L355.0 491.0 L355.1 488.4 L355.2 485.9 L355.3 483.4 L355.5 480.8 L355.6 478.3 L355.7 475.8 L355.8 473.3 L355.9 470.7 L356.0 468.2 L356.1 465.7 L356.2 463.1 L356.3 460.6 L356.5 458.1 L356.6 455.6 L356.7 453.0 L356.8 450.5 L356.9 448.0 L357.0 445.5 L357.1 442.9 L357.2 440.4 L357.4 437.9 L357.5 435.3 L357.6 432.8 L357.7 430.3 L357.8 427.8 L357.9 425.2 L358.0 422.7 L358.1 420.2 L358.3 417.6 L358.4 415.1 L358.5 412.6 L358.6 410.1 L358.7 407.5 L358.8 405.0 L358.9 402.5 L359.0 399.9 L359.1 397.4 L359.2 394.9 L359.4 392.4 L359.5 389.8 L359.6 387.3 L359.7 384.8 L359.8 382.3 L359.9 379.7 L360.0 377.2 L360.1 374.7 L360.2 372.1 L360.3 369.6 L360.4 367.1 L360.5 364.6 L360.6 362.0 L360.7 359.5 L360.8 357.0 L360.9 354.4 L361.0 351.9 L361.1 349.4 L361.2 346.9 L361.3 344.3 L361.4 341.8 L361.5 339.3 L361.6 336.8 L361.7 334.2 L361.8 331.7 L361.9 329.2 L362.0 326.6 L362.1 324.1 L362.1 321.6 L362.2 319.1 L362.3 316.5 L362.4 314.0 L362.5 311.5 L362.6 308.9 L362.7 306.4 L362.8 303.9 L362.9 301.4 L363.0 298.8 L363.1 296.3 L363.2 293.8 L363.3 291.2 L363.4 288.7 L363.5 286.2 L363.6 283.7 L363.7 281.1 L363.8 278.6 L363.9 276.1 L364.0 273.6 L364.1 271.0 L364.2 268.5 L364.3 266.0 L364.4 263.4 L364.5 260.9 L364.6 258.4 L364.7 255.9 L364.8 253.3 L364.9 250.8 L365.0 248.3 L365.1 245.7 L365.2 243.2 L365.4 240.7 L365.5 238.2 L365.6 235.6 L365.7 233.1 L365.8 230.6 L366.0 228.1 L366.1 225.5 L366.2 223.0 L366.3 220.5 L366.5 217.9 L366.6 215.4 L366.7 212.9 L366.8 210.4 L367.0 207.8 L367.1 205.3 L367.2 202.8 L367.3 200.2 L367.5 197.7 L367.6 195.2 L367.7 192.7 L367.9 190.1 L368.0 187.6 L368.2 185.1 L368.3 182.5 L368.5 180.0 L368.6 177.5 L368.8 175.0 L368.9 172.4 L369.1 169.9 L369.3 167.4 L369.4 164.9 L369.6 162.3 L369.8 159.8 L370.0 157.3 L370.2 154.7 L370.4 152.2 L370.6 149.7 L370.8 147.2 L371.0 144.6 L371.2 142.1 L371.4 139.6 L371.6 137.0 L371.9 134.5 L372.2 132.0 L372.5 129.5 L372.8 126.9 L373.1 124.4 L373.5 121.9 L373.9 119.4 L374.3 116.8 L374.8 114.3 L375.4 111.8 L376.0 109.2 L376.7 106.7 L377.4 104.2 L378.3 101.7 L379.4 99.1 L380.6 96.6 L383.6 97.8 L386.1 98.0 L388.6 97.9 L391.1 98.4 L393.6 97.4 L396.1 96.0 L398.6 95.8 L401.1 95.9 L403.6 96.1 L406.1 97.2 L408.6 98.1 L411.1 98.4 L413.6 99.6 L416.1 100.8 L418.6 101.1 L421.1 100.9 L423.6 100.4 L426.1 100.5 L428.6 101.3 L431.1 101.6 L433.6 100.7 L436.1 99.1 L438.6 97.9 L441.1 97.9 L443.6 98.6 L446.1 98.9 L448.6 98.3 L451.1 97.6 L453.6 96.9 L456.1 96.3 L458.6 96.0 L461.1 96.0 L463.6 96.5 L466.1 96.6 L468.6 95.6 L471.1 94.2 L473.6 93.2 L476.1 92.1 L478.6 91.0 L481.1 90.2 L483.6 89.7 L486.1 90.4 L488.6 91.0 L491.1 90.6 L493.6 90.0 L496.1 90.1 L498.6 91.2 L501.1 91.8 L503.6 92.1 L506.1 92.8 L508.6 93.6 L511.1 93.4 L513.6 93.2 L516.1 93.4 L518.6 93.5 L521.1 93.7 L523.6 94.3 L526.1 95.5 L528.6 96.3 L531.1 96.5 L533.6 96.3 L536.1 95.4 L538.6 94.6 L541.1 94.4 L543.6 93.9 L546.1 93.1 L548.6 92.8 L551.1 92.5 L553.6 92.0 L556.1 92.1 L558.6 92.0 L561.1 90.8 L563.6 90.0 L566.1 89.8 L568.6 89.7 L571.1 89.3 L573.6 88.4 L576.1 87.9 L578.6 88.4 L581.1 89.6 L583.6 91.4 L586.1 92.0 L588.6 91.8 L591.1 92.8 L593.6 93.6 L596.1 93.1 L598.6 92.3 L601.1 91.7 L603.6 91.6 L606.1 92.3 L608.6 93.0 L611.1 92.8 L613.6 92.1 L616.1 90.7 L618.6 90.1 L621.1 90.1 L623.6 89.6 L626.1 89.5 L628.6 90.7 L631.1 91.8 L633.6 91.7 L636.1 89.9 L638.6 89.0 L641.1 89.1 L643.6 89.0 L646.1 88.6 L648.6 89.2 L651.1 90.4 L653.6 91.2 L656.1 92.1 L658.6 92.7 L661.1 93.0 L663.6 94.3 L666.1 96.2 L668.6 97.4 L671.0 97.5 L672.4 100.0 L673.7 102.5 L674.6 105.1 L675.1 107.6 L675.5 110.1 L675.8 112.6 L676.0 115.1 L676.3 117.7 L676.5 120.2 L676.6 122.7 L676.8 125.2 L677.0 127.7 L677.2 130.2 L677.3 132.8 L677.5 135.3 L677.6 137.8 L677.8 140.3 L677.9 142.8 L678.0 145.4 L678.2 147.9 L678.3 150.4 L678.4 152.9 L678.5 155.4 L678.7 158.0 L678.8 160.5 L678.9 163.0 L679.0 165.5 L679.2 168.0 L679.3 170.5 L679.5 173.1 L679.6 175.6 L679.7 178.1 L679.9 180.6 L680.0 183.1 L680.1 185.7 L680.3 188.2 L680.4 190.7 L680.5 193.2 L680.6 195.7 L680.7 198.3 L680.8 200.8 L681.0 203.3 L681.1 205.8 L681.2 208.3 L681.3 210.8 L681.4 213.4 L681.5 215.9 L681.6 218.4 L681.7 220.9 L681.8 223.4 L681.8 226.0 L681.9 228.5 L682.0 231.0 L682.1 233.5 L682.2 236.0 L682.3 238.6 L682.4 241.1 L682.5 243.6 L682.6 246.1 L682.6 248.6 L682.7 251.1 L682.8 253.7 L682.9 256.2 L683.0 258.7 L683.1 261.2 L683.1 263.7 L683.2 266.3 L683.3 268.8 L683.4 271.3 L683.4 273.8 L683.5 276.3 L683.6 278.9 L683.7 281.4 L683.7 283.9 L683.8 286.4 L683.9 288.9 L684.0 291.4 L684.0 294.0 L684.1 296.5 L684.2 299.0 L684.3 301.5 L684.3 304.0 L684.4 306.6 L684.5 309.1 L684.6 311.6 L684.6 314.1 L684.7 316.6 L684.8 319.2 L684.8 321.7 L684.9 324.2 L685.0 326.7 L685.0 329.2 L685.1 331.7 L685.1 334.3 L685.2 336.8 L685.3 339.3 L685.3 341.8 L685.4 344.3 L685.4 346.9 L685.5 349.4 L685.6 351.9 L685.6 354.4 L685.7 356.9 L685.7 359.5 L685.8 362.0 L685.8 364.5 L685.9 367.0 L686.0 369.5 L686.0 372.1 L686.1 374.6 L686.1 377.1 L686.2 379.6 L686.2 382.1 L686.3 384.6 L686.3 387.2 L686.4 389.7 L686.5 392.2 L686.5 394.7 L686.6 397.2 L686.6 399.8 L686.7 402.3 L686.7 404.8 L686.8 407.3 L686.8 409.8 L686.9 412.4 L686.9 414.9 L687.0 417.4 L687.1 419.9 L687.1 422.4 L687.2 424.9 L687.2 427.5 L687.3 430.0 L687.3 432.5 L687.4 435.0 L687.4 437.5 L687.5 440.1 L687.6 442.6 L687.6 445.1 L687.7 447.6 L687.7 450.1 L687.8 452.7 L687.9 455.2 L687.9 457.7 L688.0 460.2 L688.0 462.7 L688.1 465.2 L688.2 467.8 L688.2 470.3 L688.3 472.8 L688.4 475.3 L688.4 477.8 L688.5 480.4 L688.6 482.9 L688.6 485.4 L688.7 487.9 L688.8 490.4 L688.8 493.0 L688.9 495.5 L689.0 498.0 L689.0 500.5 L689.1 503.0 L689.2 505.5 L689.3 508.1 L689.4 510.6 L689.4 513.1 L689.5 515.6 L689.6 518.1 L689.7 520.7 L689.8 523.2 L689.8 525.7 L689.9 528.2 L690.0 530.7 L690.1 533.3 L690.2 535.8 L690.3 538.3 L690.3 540.8 L690.4 543.3 L690.5 545.8 L690.6 548.4 L690.7 550.9 L690.8 553.4 L690.9 555.9 L690.9 558.4 L691.0 561.0 L691.1 563.5 L691.2 566.0 L691.3 568.5 L691.4 571.0 L691.5 573.6 L691.6 576.1 L691.7 578.6 L691.8 581.1 L691.9 583.6 L692.0 586.1 L692.1 588.7 L692.2 591.2 L692.3 593.7 L692.4 596.2 L692.5 598.7 L692.6 601.3 L692.7 603.8 L692.8 606.3 L692.9 608.8 L693.0 611.3 L693.1 613.9 L693.2 616.4 L693.3 618.9 L693.4 621.4 L693.5 623.9 L693.6 626.4 L693.7 629.0 L693.8 631.5 L694.0 634.0 L694.1 636.5 L694.2 639.0 L694.3 641.6 L694.4 644.1 L694.6 646.6 L694.7 649.1 L694.8 651.6 L694.9 654.2 L695.1 656.7 L695.2 659.2 L695.3 661.7 L695.4 664.2 L695.6 666.8 L695.7 669.3 L695.9 671.8 L696.0 674.3 L696.1 676.8 L696.3 679.3 L696.4 681.9 L696.6 684.4 L696.7 686.9 L696.8 689.4 L697.0 691.9 L697.1 694.5 L697.3 697.0 L697.5 699.5 L697.6 702.0 L697.8 704.5 L697.9 707.1 L698.1 709.6 L698.2 712.1 L698.4 714.6 L698.6 717.1 L698.7 719.6 L698.9 722.2 L699.1 724.7 L699.3 727.2 L699.4 729.7 L699.6 732.2 L699.8 734.8 L700.0 737.3 L700.2 739.8 L700.4 742.3 L700.6 744.8 L700.8 747.4 L701.1 749.9 L701.3 752.4 L701.6 754.9 L701.9 757.4 L702.2 759.9 L702.5 762.5 L702.8 765.0 L703.1 767.5 L703.4 770.0 L703.7 772.5 L704.0 775.1 L704.4 777.6 L704.7 780.1 L705.0 782.6 L705.4 785.1 L705.7 787.7 L706.1 790.2 L706.4 792.7 L706.8 795.2 L707.1 797.7 L707.4 800.2 L707.8 802.8 L708.1 805.3 L708.4 807.8 L708.7 810.3 L709.0 812.8 L709.3 815.4 L709.6 817.9 L709.9 820.4 L710.2 822.9 L710.5 825.4 L710.8 828.0 L711.1 830.5 L711.4 833.0 L711.7 835.5 L712.0 838.0 L712.3 840.5 L712.6 843.1 L713.0 845.6 L713.4 848.1 L713.7 850.6 L714.2 853.1 L714.6 855.7 L715.0 858.2 L715.5 860.7 L715.9 863.2 L716.4 865.7 L716.9 868.3 L717.4 870.8 L717.8 873.3 L718.3 875.8 L718.7 878.3 L719.2 880.8 L719.6 883.4 L720.2 885.9 L720.9 888.4 L721.7 890.9 L722.7 893.4 L724.1 896.0 L725.9 898.5 L734.0 901.0 L737.0 901.3 L739.5 900.7 L742.0 900.3 L744.5 900.7 L747.0 900.9 L749.5 900.9 L752.0 900.5 L754.5 900.3 L757.0 900.8 L759.5 901.5 L762.0 902.5 L764.5 902.3 L767.0 901.1 L769.5 901.1 L772.0 901.4 L774.5 900.7 L777.0 899.8 L779.5 899.2 L782.0 898.2 L784.5 897.4 L787.0 897.5 L789.5 898.2 L792.0 899.8 L794.5 900.4 L797.0 899.3 L799.5 898.7 L802.0 898.3 L804.5 897.6 L807.0 898.3 L809.5 900.8 L812.0 902.0 L814.5 901.1 L817.0 900.4 L819.5 901.2 L822.0 902.2 L824.5 902.9 L827.0 904.3 L829.5 905.6 L832.0 905.8 L834.5 904.7 L837.0 903.9 L839.5 904.1 L842.0 905.1 L844.5 906.2 L847.0 905.9 L849.5 905.2 L852.0 904.9 L854.5 905.9 L857.0 907.3 L859.5 907.4 L862.0 907.2 L864.5 905.6 L867.0 904.5 L869.5 905.9 L872.0 907.5 L874.5 907.8 L877.0 908.6 L879.5 909.4 L882.0 908.5 L884.5 907.1 L887.0 906.7 L889.5 908.1 L892.0 908.8 L894.5 906.7 L897.0 904.3 L899.5 902.4 L902.0 901.9 L904.5 902.4 L907.0 902.5 L909.5 902.8 L912.0 904.3 L914.5 904.9 L917.0 904.1 L919.5 902.7 L922.0 902.3 L924.5 903.7 L927.0 904.2 L929.5 903.5 L932.0 904.0 L934.5 904.2 L937.0 904.3 L939.5 904.9 L942.0 904.9 L944.5 904.4 L947.0 903.0 L949.5 901.6 L952.0 900.9 L954.5 901.3 L957.0 902.6 L959.5 903.6 L962.0 904.3 L964.5 904.6 L967.0 903.9 L969.5 903.0 L972.0 902.5 L974.5 901.8 L977.0 900.1 L979.5 898.0 L982.0 896.8 L984.5 896.9 L987.0 897.8 L989.5 897.9 L992.0 898.9 L994.5 901.0 L997.0 901.7 L999.5 901.8 L1002.0 903.2 L1004.5 904.6 L1007.0 904.8 L1009.5 903.8 L1012.0 902.6 L1014.5 902.0 L1017.0 901.9 L1019.5 900.6 L1022.0 898.0 L1024.5 895.3 L1027.0 895.0 L1029.5 895.9 L1032.0 895.0 L1034.5 893.2 L1037.0 891.7 L1039.5 891.5 L1042.0 892.0 L1044.5 890.8 L1047.0 889.2 L1049.5 889.6 L1052.0 890.5 L1054.5 890.2 L1057.0 889.6 L1059.5 890.0 L1062.0 891.5 L1064.5 893.0 L1067.0 892.5 L1069.5 890.9 L1072.0 890.8 L1074.5 893.0 L1077.0 895.0 L1079.5 894.2 L1082.0 892.4 L1084.5 892.2 L1087.0 892.6 L1089.5 892.6 L1092.0 892.5 L1094.5 892.6 L1097.0 892.9 L1099.5 893.9 L1102.0 893.9 L1104.5 893.0 L1107.0 892.2 L1109.5 891.4 L1112.0 891.0 L1114.5 892.1 L1117.0 892.9 L1119.5 892.6 L1122.0 892.2 L1124.5 892.4 L1127.0 892.8 L1129.5 893.9 L1132.0 895.5 L1134.5 895.5 L1137.0 894.5 L1139.5 894.2 L1142.0 894.2 L1144.5 894.3 L1147.0 894.3 L1149.5 892.6 L1152.0 890.5 L1154.5 890.0 L1157.0 890.9 L1159.5 891.8 L1162.0 891.4 L1164.5 891.0 L1167.0 891.1 L1169.5 890.2 L1172.0 890.2 L1174.5 892.1 L1177.0 894.1 L1179.5 894.7 L1182.0 895.1 L1184.5 896.9 L1187.0 898.4 L1189.5 898.2 L1192.0 898.0 L1194.5 897.5 L1197.0 897.8 L1199.5 899.6 L1202.0 901.4 L1204.5 901.8 L1207.0 901.2 L1209.5 900.4 L1212.0 898.6 L1214.5 897.5 L1217.0 898.4 L1219.5 899.1 L1222.0 898.1 L1224.5 897.9 L1227.0 898.7 L1229.5 898.4 L1232.0 897.7 L1234.5 899.0 L1237.0 900.1 L1239.5 899.4 L1242.0 898.2 L1244.5 896.9 L1247.0 895.9 L1249.5 896.4 L1252.0 897.3 L1254.5 898.1 L1257.0 898.8 L1259.5 900.2 L1262.0 901.4 L1264.5 901.8 L1267.0 901.8 L1269.5 901.4 L1272.0 901.4 L1274.5 901.3 L1277.0 900.2 L1279.5 898.8 L1282.0 899.0 L1284.5 900.0 L1287.0 900.2 L1289.5 898.8 L1292.0 898.2 L1294.5 899.7 L1297.0 899.7 L1299.5 897.1 L1302.0 896.0 L1304.5 898.0 L1307.0 899.9 L1309.5 899.4 L1312.0 898.0 L1314.5 897.2 L1317.0 896.5 L1319.5 895.3 L1322.0 894.5 L1324.5 894.2 L1327.0 894.7 L1329.5 897.2 L1332.0 899.3 L1334.5 899.3 L1337.0 899.6 L1339.5 900.8 L1342.0 900.7 L1344.5 899.6 L1347.0 898.1 L1349.5 897.1 L1352.0 898.1 L1354.5 900.0 L1357.0 900.4 L1359.5 900.0 L1362.0 898.9 L1364.5 897.4 L1367.0 897.6 L1369.5 899.2 L1372.0 899.6 L1374.5 899.0 L1377.0 898.1 L1379.5 897.0 L1382.0 897.3 L1384.5 898.6 L1387.0 897.6 L1389.5 895.7 L1392.0 895.3 L1394.5 896.2 L1397.0 896.1 L1399.5 895.9 L1402.0 897.1 L1404.5 897.4 L1407.0 896.8 L1409.5 897.4 L1412.0 898.2 L1414.5 898.4 L1417.0 897.9 L1419.5 896.8 L1422.0 896.7 L1424.5 897.5 L1427.0 897.6 L1429.5 897.2 L1432.0 897.3 L1434.5 897.8 L1437.0 898.2 L1439.5 898.1 L1442.0 897.8 L1444.5 897.8 L1447.0 897.4 L1449.5 897.0 L1452.0 898.2 L1454.5 899.0 L1457.0 899.1 L1459.5 898.3 L1462.0 897.0 L1464.5 896.0 L1467.0 895.1 L1469.5 895.3 L1472.0 897.0 L1474.5 898.8 L1477.0 899.9 L1479.5 899.8 L1482.0 899.2 L1484.5 898.8 L1487.0 899.1 L1489.5 899.9 L1492.0 899.9 L1494.5 899.2 L1497.0 898.9 L1499.5 900.1 L1502.0 902.3"/>
</g>
<path d="M329.4 88.9 V104.6 M329.4 122.3 V138.0 M329.4 155.6 V171.3 M329.4 189.0 V204.7 M329.4 222.3 V238.0 M329.4 255.7 V271.4 M329.4 289.1 V304.8 M329.4 322.4 V338.1 M329.4 355.8 V371.5 M329.4 389.1 V404.8 M329.4 422.5 V438.2 M329.4 455.9 V471.6 M329.4 489.2 V504.9 M329.4 522.6 V538.3 M329.4 555.9 V571.6 M329.4 589.3 V605.0 M329.4 622.7 V638.4 M329.4 656.0 V671.7 M329.4 689.4 V705.1 M329.4 722.7 V738.4 M329.4 756.1 V771.8 M329.4 789.5 V805.2 M329.4 822.8 V838.5 M329.4 856.2 V871.9 M329.4 889.5 V905.2 M383.3 108.0 V123.7 M383.3 141.4 V157.1 M383.3 174.7 V190.4 M383.3 208.1 V223.8 M383.3 241.4 V257.1 M383.3 274.8 V290.5 M383.3 308.2 V323.9 M383.3 341.5 V357.2 M383.3 374.9 V390.6 M383.3 408.2 V423.9 M383.3 441.6 V457.3 M383.3 475.0 V490.7 M383.3 508.3 V524.0 M383.3 541.7 V557.4 M383.3 575.0 V590.7 M383.3 608.4 V624.1 M383.3 641.8 V657.5 M383.3 675.1 V690.8 M383.3 708.5 V724.2 M383.3 741.8 V757.5 M383.3 775.2 V790.9 M383.3 808.6 V824.3 M383.3 841.9 V857.6 M383.3 875.3 V891.0 M341.3 83.4 H357.1 M333.8 918.0 H349.5 M374.6 83.4 H383.3 V94.5 M383.3 908.3 V918.0 H367.4" fill="none" stroke="#9b9b9b" stroke-width="4.3" stroke-linecap="round" stroke-linejoin="miter"/>
<g stroke="#262626" stroke-width="4.4" fill="none">
<rect x="198.75" y="37.75" width="1299.7" height="967.15"/>
<line x1="198.75" y1="37.75" x2="215.5" y2="37.75"/>
<line x1="198.75" y1="175.91" x2="215.5" y2="175.91"/>
<line x1="198.75" y1="314.08" x2="215.5" y2="314.08"/>
<line x1="198.75" y1="452.24" x2="215.5" y2="452.24"/>
<line x1="198.75" y1="590.41" x2="215.5" y2="590.41"/>
<line x1="198.75" y1="728.57" x2="215.5" y2="728.57"/>
<line x1="198.75" y1="866.73" x2="215.5" y2="866.73"/>
<line x1="198.75" y1="1004.90" x2="215.5" y2="1004.90"/>
<line x1="198.75" y1="1004.9" x2="198.75" y2="988.8"/>
<line x1="361.21" y1="1004.9" x2="361.21" y2="988.8"/>
<line x1="523.67" y1="1004.9" x2="523.67" y2="988.8"/>
<line x1="686.14" y1="1004.9" x2="686.14" y2="988.8"/>
<line x1="848.60" y1="1004.9" x2="848.60" y2="988.8"/>
<line x1="1011.06" y1="1004.9" x2="1011.06" y2="988.8"/>
<line x1="1173.53" y1="1004.9" x2="1173.53" y2="988.8"/>
<line x1="1335.99" y1="1004.9" x2="1335.99" y2="988.8"/>
<line x1="1498.45" y1="1004.9" x2="1498.45" y2="988.8"/>
</g>
<g font-family="Liberation Serif" font-size="68" fill="#262626">
<text x="175.6" y="54.5" text-anchor="end">20</text>
<text x="175.6" y="192.7" text-anchor="end">16</text>
<text x="175.6" y="330.9" text-anchor="end">12</text>
<text x="175.6" y="469.0" text-anchor="end">8</text>
<text x="175.6" y="607.2" text-anchor="end">4</text>
<text x="175.6" y="745.4" text-anchor="end">0</text>
<text x="175.6" y="883.5" text-anchor="end">−4</text>
<text x="175.6" y="1021.7" text-anchor="end">−8</text>
<text x="198.8" y="1077" text-anchor="middle">−5</text>
<text x="361.2" y="1077" text-anchor="middle">0</text>
<text x="523.7" y="1077" text-anchor="middle">5</text>
<text x="686.1" y="1077" text-anchor="middle">10</text>
<text x="848.6" y="1077" text-anchor="middle">15</text>
<text x="1011.1" y="1077" text-anchor="middle">20</text>
<text x="1173.5" y="1077" text-anchor="middle">25</text>
<text x="1336.0" y="1077" text-anchor="middle">30</text>
<text x="1498.5" y="1077" text-anchor="middle">35</text>
<text x="848.5" y="1152" text-anchor="middle" letter-spacing="-0.4">time/μs</text>
<text transform="translate(59.2 520.7) rotate(-90)" text-anchor="middle" letter-spacing="-0.7">voltage/V</text>
</g>
<line x1="396.8" y1="406.3" x2="712" y2="307" stroke="#262626" stroke-width="4.6" stroke-linecap="butt"/>
<path d="M733.7 300.1 L706.8 300.8 L711.1 314.4 Z" fill="#262626" stroke="#262626" stroke-width="1.6" stroke-linejoin="round"/>
<rect x="765.5" y="160.5" width="416" height="309" fill="#fff" stroke="none"/>
<g clip-path="url(#ic)" fill="none" stroke-width="4.4" stroke-linejoin="round" stroke-linecap="round">
<path stroke="#ec3232" d="M763.0 459.0 L765.0 459.0 L767.0 459.0 L769.0 459.0 L771.0 459.0 L773.0 458.9 L775.0 458.9 L777.0 458.9 L779.0 458.8 L781.0 458.8 L783.0 458.7 L785.0 458.6 L787.0 458.6 L789.0 458.5 L791.0 458.4 L793.0 458.3 L795.0 458.3 L797.0 458.2 L799.0 458.1 L801.0 458.0 L803.0 457.9 L805.0 457.8 L807.0 457.7 L809.0 457.5 L811.0 457.4 L813.0 457.2 L815.0 457.0 L817.0 456.8 L819.0 456.5 L821.0 456.3 L823.0 456.0 L825.0 455.6 L827.0 455.2 L829.0 454.6 L831.0 453.9 L833.0 453.1 L835.0 452.3 L837.0 451.3 L839.0 450.3 L841.0 449.2 L843.0 448.1 L845.0 446.8 L847.0 445.6 L849.0 444.2 L851.0 442.9 L853.0 441.5 L855.0 439.8 L857.0 437.8 L859.0 435.6 L861.0 433.2 L863.0 430.7 L865.0 428.0 L867.0 425.3 L869.0 422.5 L871.0 419.8 L873.0 417.1 L875.0 414.4 L877.0 411.7 L879.0 408.8 L881.0 406.0 L883.0 403.0 L885.0 400.0 L887.0 397.0 L889.0 394.0 L891.0 390.9 L893.0 387.8 L895.0 384.8 L897.0 381.7 L899.0 378.5 L901.0 375.4 L903.0 372.2 L905.0 368.9 L907.0 365.7 L909.0 362.4 L911.0 359.2 L913.0 356.0 L915.0 352.9 L917.0 349.8 L919.0 346.7 L921.0 343.7 L923.0 340.6 L925.0 337.6 L927.0 334.6 L929.0 331.7 L931.0 328.7 L933.0 325.8 L935.0 322.9 L937.0 320.0 L939.0 317.1 L941.0 314.3 L943.0 311.5 L945.0 308.7 L947.0 305.9 L949.0 303.2 L951.0 300.5 L953.0 297.8 L955.0 295.1 L957.0 292.4 L959.0 289.8 L961.0 287.2 L963.0 284.7 L965.0 282.1 L967.0 279.6 L969.0 277.2 L971.0 274.8 L973.0 272.4 L975.0 270.1 L977.0 267.8 L979.0 265.5 L981.0 263.3 L983.0 261.0 L985.0 258.8 L987.0 256.7 L989.0 254.5 L991.0 252.4 L993.0 250.3 L995.0 248.2 L997.0 246.1 L999.0 244.0 L1001.0 242.0 L1003.0 239.9 L1005.0 237.8 L1007.0 235.8 L1009.0 233.7 L1011.0 231.6 L1013.0 229.6 L1015.0 227.5 L1017.0 225.5 L1019.0 223.5 L1021.0 221.5 L1023.0 219.5 L1025.0 217.6 L1027.0 215.8 L1029.0 213.9 L1031.0 212.2 L1033.0 210.5 L1035.0 208.8 L1037.0 207.2 L1039.0 205.7 L1041.0 204.3 L1043.0 202.9 L1045.0 201.5 L1047.0 200.1 L1049.0 198.7 L1051.0 197.4 L1053.0 196.1 L1055.0 194.8 L1057.0 193.5 L1059.0 192.3 L1061.0 191.1 L1063.0 190.0 L1065.0 188.9 L1067.0 187.8 L1069.0 186.8 L1071.0 185.8 L1073.0 184.8 L1075.0 184.0 L1077.0 183.1 L1079.0 182.4 L1081.0 181.6 L1083.0 180.9 L1085.0 180.2 L1087.0 179.5 L1089.0 178.9 L1091.0 178.2 L1093.0 177.6 L1095.0 177.0 L1097.0 176.4 L1099.0 175.9 L1101.0 175.4 L1103.0 175.0 L1105.0 174.6 L1107.0 174.3 L1109.0 174.1 L1111.0 173.9 L1113.0 173.8 L1115.0 173.6 L1117.0 173.5 L1119.0 173.3 L1121.0 173.2 L1123.0 173.1 L1125.0 173.0 L1127.0 172.9 L1129.0 172.8 L1131.0 172.8 L1133.0 172.7 L1135.0 172.6 L1137.0 172.6 L1139.0 172.5 L1141.0 172.5 L1143.0 172.4 L1145.0 172.4 L1147.0 172.4 L1149.0 172.3 L1151.0 172.3 L1153.0 172.3 L1155.0 172.2 L1157.0 172.2 L1159.0 172.2 L1161.0 172.2 L1163.0 172.1 L1165.0 172.1 L1167.0 172.1 L1169.0 172.1 L1171.0 172.0 L1173.0 172.0 L1175.0 172.0 L1177.0 172.0 L1179.0 172.0 L1181.0 172.0 L1183.0 172.0 L1185.0 172.0"/>
<path stroke="#76b951" d="M763.0 457.5 L765.0 457.5 L767.0 457.5 L769.0 457.5 L771.0 457.5 L773.0 457.4 L775.0 457.4 L777.0 457.3 L779.0 457.3 L781.0 457.2 L783.0 457.1 L785.0 457.0 L787.0 456.9 L789.0 456.8 L791.0 456.7 L793.0 456.6 L795.0 456.5 L797.0 456.3 L799.0 456.2 L801.0 456.1 L803.0 455.9 L805.0 455.7 L807.0 455.5 L809.0 455.2 L811.0 454.9 L813.0 454.5 L815.0 454.1 L817.0 453.6 L819.0 453.1 L821.0 452.6 L823.0 452.0 L825.0 451.4 L827.0 450.8 L829.0 450.1 L831.0 449.4 L833.0 448.6 L835.0 447.6 L837.0 446.5 L839.0 445.3 L841.0 443.9 L843.0 442.4 L845.0 440.8 L847.0 439.1 L849.0 437.3 L851.0 435.4 L853.0 433.5 L855.0 431.4 L857.0 429.0 L859.0 426.4 L861.0 423.5 L863.0 420.5 L865.0 417.4 L867.0 414.1 L869.0 410.9 L871.0 407.6 L873.0 404.4 L875.0 401.2 L877.0 398.0 L879.0 394.7 L881.0 391.4 L883.0 388.0 L885.0 384.6 L887.0 381.2 L889.0 377.8 L891.0 374.4 L893.0 371.0 L895.0 367.7 L897.0 364.5 L899.0 361.3 L901.0 358.2 L903.0 355.2 L905.0 352.1 L907.0 349.1 L909.0 346.1 L911.0 343.0 L913.0 340.0 L915.0 337.0 L917.0 333.9 L919.0 330.8 L921.0 327.7 L923.0 324.5 L925.0 321.3 L927.0 318.2 L929.0 315.0 L931.0 311.8 L933.0 308.7 L935.0 305.5 L937.0 302.4 L939.0 299.4 L941.0 296.3 L943.0 293.3 L945.0 290.2 L947.0 287.2 L949.0 284.2 L951.0 281.2 L953.0 278.3 L955.0 275.6 L957.0 272.9 L959.0 270.4 L961.0 267.9 L963.0 265.4 L965.0 263.0 L967.0 260.6 L969.0 258.3 L971.0 256.0 L973.0 253.8 L975.0 251.5 L977.0 249.4 L979.0 247.2 L981.0 245.1 L983.0 243.0 L985.0 241.0 L987.0 238.9 L989.0 236.9 L991.0 235.0 L993.0 233.0 L995.0 231.1 L997.0 229.2 L999.0 227.3 L1001.0 225.4 L1003.0 223.5 L1005.0 221.6 L1007.0 219.8 L1009.0 217.9 L1011.0 216.1 L1013.0 214.3 L1015.0 212.6 L1017.0 210.9 L1019.0 209.2 L1021.0 207.5 L1023.0 205.9 L1025.0 204.4 L1027.0 202.9 L1029.0 201.4 L1031.0 200.0 L1033.0 198.7 L1035.0 197.4 L1037.0 196.1 L1039.0 194.8 L1041.0 193.6 L1043.0 192.4 L1045.0 191.1 L1047.0 190.0 L1049.0 188.8 L1051.0 187.7 L1053.0 186.6 L1055.0 185.5 L1057.0 184.5 L1059.0 183.5 L1061.0 182.6 L1063.0 181.7 L1065.0 180.8 L1067.0 180.0 L1069.0 179.3 L1071.0 178.6 L1073.0 177.9 L1075.0 177.2 L1077.0 176.6 L1079.0 175.9 L1081.0 175.2 L1083.0 174.6 L1085.0 174.0 L1087.0 173.4 L1089.0 172.9 L1091.0 172.5 L1093.0 172.1 L1095.0 171.9 L1097.0 171.7 L1099.0 171.6 L1101.0 171.6 L1103.0 171.7 L1105.0 171.7 L1107.0 171.8 L1109.0 171.9 L1111.0 172.0 L1113.0 172.2 L1115.0 172.3 L1117.0 172.4 L1119.0 172.6 L1121.0 172.7 L1123.0 172.8 L1125.0 172.9 L1127.0 173.0 L1129.0 173.0 L1131.0 173.1 L1133.0 173.1 L1135.0 173.2 L1137.0 173.3 L1139.0 173.3 L1141.0 173.4 L1143.0 173.4 L1145.0 173.5 L1147.0 173.5 L1149.0 173.5 L1151.0 173.6 L1153.0 173.6 L1155.0 173.7 L1157.0 173.7 L1159.0 173.8 L1161.0 173.8 L1163.0 173.8 L1165.0 173.9 L1167.0 173.9 L1169.0 173.9 L1171.0 173.9 L1173.0 173.9 L1175.0 174.0 L1177.0 174.0 L1179.0 174.0 L1181.0 174.0 L1183.0 174.0 L1185.0 174.0"/>
<path stroke="#2f5aa8" d="M763.0 457.5 L765.0 457.5 L767.0 457.5 L769.0 457.5 L771.0 457.5 L773.0 457.4 L775.0 457.4 L777.0 457.4 L779.0 457.3 L781.0 457.2 L783.0 457.2 L785.0 457.1 L787.0 457.0 L789.0 456.9 L791.0 456.8 L793.0 456.7 L795.0 456.5 L797.0 456.4 L799.0 456.3 L801.0 456.1 L803.0 456.0 L805.0 455.8 L807.0 455.6 L809.0 455.3 L811.0 455.0 L813.0 454.7 L815.0 454.3 L817.0 453.8 L819.0 453.4 L821.0 452.8 L823.0 452.3 L825.0 451.7 L827.0 451.1 L829.0 450.4 L831.0 449.8 L833.0 449.0 L835.0 448.1 L837.0 447.1 L839.0 445.9 L841.0 444.6 L843.0 443.1 L845.0 441.6 L847.0 439.9 L849.0 438.2 L851.0 436.3 L853.0 434.5 L855.0 432.5 L857.0 430.2 L859.0 427.7 L861.0 425.0 L863.0 422.0 L865.0 419.0 L867.0 415.8 L869.0 412.5 L871.0 409.2 L873.0 406.0 L875.0 402.8 L877.0 399.6 L879.0 396.4 L881.0 393.1 L883.0 389.7 L885.0 386.3 L887.0 382.9 L889.0 379.5 L891.0 376.1 L893.0 372.7 L895.0 369.4 L897.0 366.1 L899.0 362.9 L901.0 359.8 L903.0 356.7 L905.0 353.6 L907.0 350.6 L909.0 347.6 L911.0 344.6 L913.0 341.5 L915.0 338.5 L917.0 335.4 L919.0 332.4 L921.0 329.2 L923.0 326.1 L925.0 322.9 L927.0 319.8 L929.0 316.6 L931.0 313.4 L933.0 310.2 L935.0 307.1 L937.0 304.0 L939.0 300.9 L941.0 297.9 L943.0 294.8 L945.0 291.7 L947.0 288.7 L949.0 285.6 L951.0 282.7 L953.0 279.8 L955.0 276.9 L957.0 274.2 L959.0 271.6 L961.0 269.1 L963.0 266.6 L965.0 264.2 L967.0 261.8 L969.0 259.5 L971.0 257.2 L973.0 254.9 L975.0 252.7 L977.0 250.5 L979.0 248.3 L981.0 246.2 L983.0 244.1 L985.0 242.0 L987.0 239.9 L989.0 237.9 L991.0 235.9 L993.0 234.0 L995.0 232.0 L997.0 230.1 L999.0 228.2 L1001.0 226.3 L1003.0 224.4 L1005.0 222.5 L1007.0 220.7 L1009.0 218.8 L1011.0 217.0 L1013.0 215.2 L1015.0 213.5 L1017.0 211.7 L1019.0 210.0 L1021.0 208.4 L1023.0 206.7 L1025.0 205.2 L1027.0 203.6 L1029.0 202.2 L1031.0 200.7 L1033.0 199.4 L1035.0 198.0 L1037.0 196.8 L1039.0 195.5 L1041.0 194.2 L1043.0 193.0 L1045.0 191.7 L1047.0 190.5 L1049.0 189.4 L1051.0 188.2 L1053.0 187.1 L1055.0 186.0 L1057.0 185.0 L1059.0 184.0 L1061.0 183.0 L1063.0 182.1 L1065.0 181.2 L1067.0 180.4 L1069.0 179.7 L1071.0 178.9 L1073.0 178.3 L1075.0 177.6 L1077.0 176.9 L1079.0 176.2 L1081.0 175.5 L1083.0 174.9 L1085.0 174.3 L1087.0 173.7 L1089.0 173.2 L1091.0 172.7 L1093.0 172.3 L1095.0 172.0 L1097.0 171.8 L1099.0 171.6 L1101.0 171.6 L1103.0 171.6 L1105.0 171.7 L1107.0 171.8 L1109.0 171.9 L1111.0 172.0 L1113.0 172.1 L1115.0 172.2 L1117.0 172.4 L1119.0 172.5 L1121.0 172.6 L1123.0 172.8 L1125.0 172.9 L1127.0 172.9 L1129.0 173.0 L1131.0 173.1 L1133.0 173.1 L1135.0 173.2 L1137.0 173.2 L1139.0 173.3 L1141.0 173.3 L1143.0 173.4 L1145.0 173.4 L1147.0 173.5 L1149.0 173.5 L1151.0 173.6 L1153.0 173.6 L1155.0 173.7 L1157.0 173.7 L1159.0 173.7 L1161.0 173.8 L1163.0 173.8 L1165.0 173.8 L1167.0 173.9 L1169.0 173.9 L1171.0 173.9 L1173.0 173.9 L1175.0 174.0 L1177.0 174.0 L1179.0 174.0 L1181.0 174.0 L1183.0 174.0 L1185.0 174.0"/>
<path stroke="#72c6d2" d="M763.0 457.5 L765.0 457.5 L767.0 457.5 L769.0 457.5 L771.0 457.5 L773.0 457.4 L775.0 457.4 L777.0 457.3 L779.0 457.3 L781.0 457.2 L783.0 457.1 L785.0 457.1 L787.0 457.0 L789.0 456.9 L791.0 456.7 L793.0 456.6 L795.0 456.5 L797.0 456.4 L799.0 456.2 L801.0 456.1 L803.0 456.0 L805.0 455.8 L807.0 455.5 L809.0 455.3 L811.0 454.9 L813.0 454.6 L815.0 454.2 L817.0 453.7 L819.0 453.2 L821.0 452.7 L823.0 452.1 L825.0 451.6 L827.0 450.9 L829.0 450.3 L831.0 449.6 L833.0 448.8 L835.0 447.9 L837.0 446.8 L839.0 445.6 L841.0 444.2 L843.0 442.8 L845.0 441.2 L847.0 439.5 L849.0 437.7 L851.0 435.9 L853.0 434.0 L855.0 432.0 L857.0 429.6 L859.0 427.1 L861.0 424.3 L863.0 421.3 L865.0 418.2 L867.0 415.0 L869.0 411.7 L871.0 408.4 L873.0 405.2 L875.0 402.0 L877.0 398.8 L879.0 395.6 L881.0 392.2 L883.0 388.9 L885.0 385.5 L887.0 382.0 L889.0 378.6 L891.0 375.2 L893.0 371.8 L895.0 368.5 L897.0 365.3 L899.0 362.1 L901.0 359.0 L903.0 355.9 L905.0 352.9 L907.0 349.8 L909.0 346.8 L911.0 343.8 L913.0 340.8 L915.0 337.7 L917.0 334.7 L919.0 331.6 L921.0 328.5 L923.0 325.3 L925.0 322.1 L927.0 319.0 L929.0 315.8 L931.0 312.6 L933.0 309.4 L935.0 306.3 L937.0 303.2 L939.0 300.2 L941.0 297.1 L943.0 294.0 L945.0 291.0 L947.0 287.9 L949.0 284.9 L951.0 281.9 L953.0 279.0 L955.0 276.2 L957.0 273.6 L959.0 271.0 L961.0 268.5 L963.0 266.0 L965.0 263.6 L967.0 261.2 L969.0 258.9 L971.0 256.6 L973.0 254.3 L975.0 252.1 L977.0 249.9 L979.0 247.8 L981.0 245.6 L983.0 243.5 L985.0 241.5 L987.0 239.4 L989.0 237.4 L991.0 235.5 L993.0 233.5 L995.0 231.6 L997.0 229.6 L999.0 227.7 L1001.0 225.8 L1003.0 223.9 L1005.0 222.1 L1007.0 220.2 L1009.0 218.4 L1011.0 216.6 L1013.0 214.8 L1015.0 213.0 L1017.0 211.3 L1019.0 209.6 L1021.0 208.0 L1023.0 206.3 L1025.0 204.8 L1027.0 203.3 L1029.0 201.8 L1031.0 200.4 L1033.0 199.0 L1035.0 197.7 L1037.0 196.4 L1039.0 195.2 L1041.0 193.9 L1043.0 192.7 L1045.0 191.4 L1047.0 190.3 L1049.0 189.1 L1051.0 188.0 L1053.0 186.8 L1055.0 185.8 L1057.0 184.7 L1059.0 183.8 L1061.0 182.8 L1063.0 181.9 L1065.0 181.0 L1067.0 180.2 L1069.0 179.5 L1071.0 178.8 L1073.0 178.1 L1075.0 177.4 L1077.0 176.7 L1079.0 176.1 L1081.0 175.4 L1083.0 174.7 L1085.0 174.1 L1087.0 173.6 L1089.0 173.1 L1091.0 172.6 L1093.0 172.2 L1095.0 171.9 L1097.0 171.7 L1099.0 171.6 L1101.0 171.6 L1103.0 171.6 L1105.0 171.7 L1107.0 171.8 L1109.0 171.9 L1111.0 172.0 L1113.0 172.1 L1115.0 172.3 L1117.0 172.4 L1119.0 172.5 L1121.0 172.7 L1123.0 172.8 L1125.0 172.9 L1127.0 173.0 L1129.0 173.0 L1131.0 173.1 L1133.0 173.1 L1135.0 173.2 L1137.0 173.2 L1139.0 173.3 L1141.0 173.3 L1143.0 173.4 L1145.0 173.4 L1147.0 173.5 L1149.0 173.5 L1151.0 173.6 L1153.0 173.6 L1155.0 173.7 L1157.0 173.7 L1159.0 173.7 L1161.0 173.8 L1163.0 173.8 L1165.0 173.8 L1167.0 173.9 L1169.0 173.9 L1171.0 173.9 L1173.0 173.9 L1175.0 174.0 L1177.0 174.0 L1179.0 174.0 L1181.0 174.0 L1183.0 174.0 L1185.0 174.0"/>
<path stroke="#a560a8" d="M763.0 462.0 L765.0 462.0 L767.0 462.0 L769.0 462.0 L771.0 461.9 L773.0 461.8 L775.0 461.8 L777.0 461.6 L779.0 461.5 L781.0 461.4 L783.0 461.3 L785.0 461.1 L787.0 460.9 L789.0 460.7 L791.0 460.6 L793.0 460.4 L795.0 460.2 L797.0 459.9 L799.0 459.7 L801.0 459.5 L803.0 459.3 L805.0 459.0 L807.0 458.6 L809.0 458.2 L811.0 457.8 L813.0 457.3 L815.0 456.8 L817.0 456.3 L819.0 455.7 L821.0 455.1 L823.0 454.5 L825.0 453.8 L827.0 453.1 L829.0 452.4 L831.0 451.6 L833.0 450.8 L835.0 449.8 L837.0 448.7 L839.0 447.6 L841.0 446.3 L843.0 445.0 L845.0 443.6 L847.0 442.1 L849.0 440.5 L851.0 438.8 L853.0 437.1 L855.0 435.1 L857.0 432.9 L859.0 430.4 L861.0 427.8 L863.0 425.1 L865.0 422.3 L867.0 419.4 L869.0 416.6 L871.0 413.8 L873.0 411.1 L875.0 408.4 L877.0 405.8 L879.0 403.1 L881.0 400.3 L883.0 397.6 L885.0 394.9 L887.0 392.2 L889.0 389.5 L891.0 386.8 L893.0 384.2 L895.0 381.6 L897.0 379.1 L899.0 376.7 L901.0 374.3 L903.0 371.9 L905.0 369.6 L907.0 367.2 L909.0 364.9 L911.0 362.6 L913.0 360.2 L915.0 357.8 L917.0 355.4 L919.0 352.9 L921.0 350.4 L923.0 347.9 L925.0 345.4 L927.0 342.8 L929.0 340.3 L931.0 337.7 L933.0 335.1 L935.0 332.5 L937.0 329.9 L939.0 327.3 L941.0 324.7 L943.0 322.0 L945.0 319.4 L947.0 316.7 L949.0 314.0 L951.0 311.3 L953.0 308.6 L955.0 305.8 L957.0 303.0 L959.0 300.2 L961.0 297.5 L963.0 294.7 L965.0 291.9 L967.0 289.2 L969.0 286.5 L971.0 283.8 L973.0 281.2 L975.0 278.6 L977.0 276.0 L979.0 273.5 L981.0 270.9 L983.0 268.4 L985.0 265.8 L987.0 263.3 L989.0 260.8 L991.0 258.3 L993.0 255.8 L995.0 253.4 L997.0 250.9 L999.0 248.6 L1001.0 246.2 L1003.0 243.9 L1005.0 241.6 L1007.0 239.4 L1009.0 237.2 L1011.0 235.0 L1013.0 232.9 L1015.0 230.9 L1017.0 228.8 L1019.0 226.8 L1021.0 224.8 L1023.0 222.8 L1025.0 220.8 L1027.0 218.8 L1029.0 216.9 L1031.0 215.0 L1033.0 213.2 L1035.0 211.4 L1037.0 209.6 L1039.0 207.9 L1041.0 206.2 L1043.0 204.5 L1045.0 203.0 L1047.0 201.4 L1049.0 200.0 L1051.0 198.6 L1053.0 197.2 L1055.0 195.9 L1057.0 194.5 L1059.0 193.2 L1061.0 191.9 L1063.0 190.7 L1065.0 189.4 L1067.0 188.2 L1069.0 187.0 L1071.0 185.9 L1073.0 184.8 L1075.0 183.7 L1077.0 182.7 L1079.0 181.7 L1081.0 180.8 L1083.0 180.0 L1085.0 179.1 L1087.0 178.4 L1089.0 177.7 L1091.0 177.0 L1093.0 176.3 L1095.0 175.7 L1097.0 175.0 L1099.0 174.4 L1101.0 173.9 L1103.0 173.5 L1105.0 173.2 L1107.0 173.0 L1109.0 173.0 L1111.0 173.0 L1113.0 173.0 L1115.0 173.0 L1117.0 173.0 L1119.0 173.0 L1121.0 173.0 L1123.0 173.0 L1125.0 173.0 L1127.0 173.0 L1129.0 173.0 L1131.0 173.0 L1133.0 173.0 L1135.0 173.0 L1137.0 173.0 L1139.0 173.0 L1141.0 173.0 L1143.0 173.0 L1145.0 173.0 L1147.0 173.0 L1149.0 173.0 L1151.0 173.0 L1153.0 173.0 L1155.0 173.0 L1157.0 173.0 L1159.0 173.0 L1161.0 173.0 L1163.0 173.0 L1165.0 173.0 L1167.0 173.0 L1169.0 173.0 L1171.0 173.0 L1173.0 173.0 L1175.0 173.0 L1177.0 173.0 L1179.0 173.0 L1181.0 173.0 L1183.0 173.0 L1185.0 173.0"/>
<path stroke="#7f8043" d="M763.0 454.0 L765.0 454.0 L767.0 454.0 L769.0 454.0 L771.0 453.9 L773.0 453.8 L775.0 453.7 L777.0 453.6 L779.0 453.5 L781.0 453.4 L783.0 453.2 L785.0 453.0 L787.0 452.8 L789.0 452.6 L791.0 452.4 L793.0 452.2 L795.0 451.9 L797.0 451.6 L799.0 451.3 L801.0 451.0 L803.0 450.7 L805.0 450.1 L807.0 449.4 L809.0 448.4 L811.0 447.4 L813.0 446.2 L815.0 445.0 L817.0 443.6 L819.0 442.2 L821.0 440.8 L823.0 439.3 L825.0 437.7 L827.0 435.8 L829.0 433.7 L831.0 431.5 L833.0 429.1 L835.0 426.5 L837.0 423.8 L839.0 421.1 L841.0 418.4 L843.0 415.6 L845.0 412.8 L847.0 410.0 L849.0 407.1 L851.0 404.0 L853.0 400.9 L855.0 397.6 L857.0 394.3 L859.0 391.0 L861.0 387.6 L863.0 384.2 L865.0 380.8 L867.0 377.4 L869.0 374.0 L871.0 370.4 L873.0 366.8 L875.0 363.2 L877.0 359.5 L879.0 355.8 L881.0 352.1 L883.0 348.5 L885.0 344.9 L887.0 341.4 L889.0 338.0 L891.0 334.7 L893.0 331.3 L895.0 328.0 L897.0 324.7 L899.0 321.5 L901.0 318.3 L903.0 315.1 L905.0 312.0 L907.0 308.9 L909.0 305.9 L911.0 303.0 L913.0 300.1 L915.0 297.3 L917.0 294.4 L919.0 291.7 L921.0 288.9 L923.0 286.2 L925.0 283.6 L927.0 280.9 L929.0 278.4 L931.0 275.8 L933.0 273.3 L935.0 270.9 L937.0 268.5 L939.0 266.1 L941.0 263.8 L943.0 261.6 L945.0 259.3 L947.0 257.1 L949.0 255.0 L951.0 252.8 L953.0 250.7 L955.0 248.7 L957.0 246.6 L959.0 244.6 L961.0 242.6 L963.0 240.6 L965.0 238.6 L967.0 236.6 L969.0 234.7 L971.0 232.7 L973.0 230.8 L975.0 228.8 L977.0 226.9 L979.0 225.0 L981.0 223.1 L983.0 221.3 L985.0 219.4 L987.0 217.7 L989.0 215.9 L991.0 214.2 L993.0 212.5 L995.0 210.9 L997.0 209.3 L999.0 207.7 L1001.0 206.3 L1003.0 204.8 L1005.0 203.4 L1007.0 201.9 L1009.0 200.5 L1011.0 199.2 L1013.0 197.8 L1015.0 196.5 L1017.0 195.3 L1019.0 194.0 L1021.0 192.8 L1023.0 191.7 L1025.0 190.6 L1027.0 189.5 L1029.0 188.5 L1031.0 187.5 L1033.0 186.6 L1035.0 185.6 L1037.0 184.7 L1039.0 183.8 L1041.0 183.0 L1043.0 182.2 L1045.0 181.5 L1047.0 180.8 L1049.0 180.2 L1051.0 179.6 L1053.0 179.1 L1055.0 178.6 L1057.0 178.1 L1059.0 177.6 L1061.0 177.1 L1063.0 176.6 L1065.0 176.2 L1067.0 175.7 L1069.0 175.3 L1071.0 174.9 L1073.0 174.6 L1075.0 174.2 L1077.0 173.9 L1079.0 173.6 L1081.0 173.4 L1083.0 173.2 L1085.0 173.1 L1087.0 173.0 L1089.0 173.0 L1091.0 173.0 L1093.0 173.0 L1095.0 173.0 L1097.0 173.0 L1099.0 173.1 L1101.0 173.1 L1103.0 173.1 L1105.0 173.1 L1107.0 173.2 L1109.0 173.2 L1111.0 173.2 L1113.0 173.3 L1115.0 173.3 L1117.0 173.3 L1119.0 173.3 L1121.0 173.4 L1123.0 173.4 L1125.0 173.4 L1127.0 173.5 L1129.0 173.5 L1131.0 173.5 L1133.0 173.5 L1135.0 173.6 L1137.0 173.6 L1139.0 173.6 L1141.0 173.6 L1143.0 173.6 L1145.0 173.7 L1147.0 173.7 L1149.0 173.7 L1151.0 173.7 L1153.0 173.7 L1155.0 173.8 L1157.0 173.8 L1159.0 173.8 L1161.0 173.8 L1163.0 173.8 L1165.0 173.8 L1167.0 173.9 L1169.0 173.9 L1171.0 173.9 L1173.0 173.9 L1175.0 173.9 L1177.0 174.0 L1179.0 174.0 L1181.0 174.0 L1183.0 174.0 L1185.0 174.0"/>
<path stroke="#373865" d="M763.0 457.5 L765.0 457.5 L767.0 457.5 L769.0 457.5 L771.0 457.5 L773.0 457.5 L775.0 457.4 L777.0 457.4 L779.0 457.3 L781.0 457.3 L783.0 457.2 L785.0 457.1 L787.0 457.0 L789.0 456.9 L791.0 456.8 L793.0 456.7 L795.0 456.6 L797.0 456.5 L799.0 456.3 L801.0 456.2 L803.0 456.1 L805.0 455.9 L807.0 455.7 L809.0 455.5 L811.0 455.2 L813.0 454.9 L815.0 454.5 L817.0 454.1 L819.0 453.6 L821.0 453.1 L823.0 452.6 L825.0 452.0 L827.0 451.4 L829.0 450.8 L831.0 450.1 L833.0 449.4 L835.0 448.6 L837.0 447.6 L839.0 446.5 L841.0 445.3 L843.0 443.9 L845.0 442.4 L847.0 440.8 L849.0 439.1 L851.0 437.3 L853.0 435.4 L855.0 433.5 L857.0 431.4 L859.0 429.0 L861.0 426.4 L863.0 423.5 L865.0 420.5 L867.0 417.4 L869.0 414.1 L871.0 410.9 L873.0 407.6 L875.0 404.4 L877.0 401.2 L879.0 398.0 L881.0 394.7 L883.0 391.4 L885.0 388.0 L887.0 384.6 L889.0 381.2 L891.0 377.8 L893.0 374.4 L895.0 371.0 L897.0 367.7 L899.0 364.5 L901.0 361.3 L903.0 358.2 L905.0 355.2 L907.0 352.1 L909.0 349.1 L911.0 346.1 L913.0 343.0 L915.0 340.0 L917.0 337.0 L919.0 333.9 L921.0 330.8 L923.0 327.7 L925.0 324.5 L927.0 321.3 L929.0 318.2 L931.0 315.0 L933.0 311.8 L935.0 308.7 L937.0 305.5 L939.0 302.4 L941.0 299.4 L943.0 296.3 L945.0 293.3 L947.0 290.2 L949.0 287.2 L951.0 284.2 L953.0 281.2 L955.0 278.3 L957.0 275.6 L959.0 272.9 L961.0 270.4 L963.0 267.9 L965.0 265.4 L967.0 263.0 L969.0 260.6 L971.0 258.3 L973.0 256.0 L975.0 253.8 L977.0 251.5 L979.0 249.4 L981.0 247.2 L983.0 245.1 L985.0 243.0 L987.0 241.0 L989.0 238.9 L991.0 236.9 L993.0 235.0 L995.0 233.0 L997.0 231.1 L999.0 229.2 L1001.0 227.3 L1003.0 225.4 L1005.0 223.5 L1007.0 221.6 L1009.0 219.8 L1011.0 217.9 L1013.0 216.1 L1015.0 214.3 L1017.0 212.6 L1019.0 210.9 L1021.0 209.2 L1023.0 207.5 L1025.0 205.9 L1027.0 204.4 L1029.0 202.9 L1031.0 201.4 L1033.0 200.0 L1035.0 198.7 L1037.0 197.4 L1039.0 196.1 L1041.0 194.8 L1043.0 193.6 L1045.0 192.4 L1047.0 191.1 L1049.0 190.0 L1051.0 188.8 L1053.0 187.7 L1055.0 186.6 L1057.0 185.5 L1059.0 184.5 L1061.0 183.5 L1063.0 182.6 L1065.0 181.7 L1067.0 180.8 L1069.0 180.0 L1071.0 179.3 L1073.0 178.6 L1075.0 177.9 L1077.0 177.2 L1079.0 176.6 L1081.0 175.9 L1083.0 175.2 L1085.0 174.6 L1087.0 174.0 L1089.0 173.4 L1091.0 172.9 L1093.0 172.5 L1095.0 172.1 L1097.0 171.9 L1099.0 171.7 L1101.0 171.6 L1103.0 171.6 L1105.0 171.7 L1107.0 171.7 L1109.0 171.8 L1111.0 171.9 L1113.0 172.0 L1115.0 172.2 L1117.0 172.3 L1119.0 172.4 L1121.0 172.6 L1123.0 172.7 L1125.0 172.8 L1127.0 172.9 L1129.0 173.0 L1131.0 173.0 L1133.0 173.1 L1135.0 173.1 L1137.0 173.2 L1139.0 173.3 L1141.0 173.3 L1143.0 173.4 L1145.0 173.4 L1147.0 173.5 L1149.0 173.5 L1151.0 173.5 L1153.0 173.6 L1155.0 173.6 L1157.0 173.7 L1159.0 173.7 L1161.0 173.8 L1163.0 173.8 L1165.0 173.8 L1167.0 173.9 L1169.0 173.9 L1171.0 173.9 L1173.0 173.9 L1175.0 173.9 L1177.0 174.0 L1179.0 174.0 L1181.0 174.0 L1183.0 174.0 L1185.0 174.0"/>
<path stroke="#7a3482" d="M763.0 458.5 L765.0 458.5 L767.0 458.5 L769.0 458.5 L771.0 458.5 L773.0 458.5 L775.0 458.4 L777.0 458.4 L779.0 458.3 L781.0 458.3 L783.0 458.2 L785.0 458.1 L787.0 458.0 L789.0 457.9 L791.0 457.8 L793.0 457.7 L795.0 457.6 L797.0 457.4 L799.0 457.3 L801.0 457.2 L803.0 457.0 L805.0 456.9 L807.0 456.7 L809.0 456.4 L811.0 456.1 L813.0 455.8 L815.0 455.4 L817.0 455.0 L819.0 454.5 L821.0 454.0 L823.0 453.4 L825.0 452.9 L827.0 452.2 L829.0 451.6 L831.0 450.9 L833.0 450.2 L835.0 449.4 L837.0 448.4 L839.0 447.2 L841.0 445.9 L843.0 444.5 L845.0 443.0 L847.0 441.3 L849.0 439.6 L851.0 437.8 L853.0 435.9 L855.0 434.0 L857.0 431.8 L859.0 429.4 L861.0 426.7 L863.0 423.8 L865.0 420.7 L867.0 417.6 L869.0 414.3 L871.0 411.1 L873.0 407.8 L875.0 404.6 L877.0 401.4 L879.0 398.2 L881.0 394.9 L883.0 391.6 L885.0 388.2 L887.0 384.8 L889.0 381.3 L891.0 377.9 L893.0 374.5 L895.0 371.2 L897.0 367.9 L899.0 364.7 L901.0 361.6 L903.0 358.5 L905.0 355.4 L907.0 352.4 L909.0 349.3 L911.0 346.3 L913.0 343.3 L915.0 340.3 L917.0 337.2 L919.0 334.1 L921.0 331.0 L923.0 327.9 L925.0 324.7 L927.0 321.6 L929.0 318.4 L931.0 315.2 L933.0 312.0 L935.0 308.9 L937.0 305.8 L939.0 302.7 L941.0 299.6 L943.0 296.6 L945.0 293.5 L947.0 290.4 L949.0 287.4 L951.0 284.4 L953.0 281.5 L955.0 278.6 L957.0 275.9 L959.0 273.3 L961.0 270.7 L963.0 268.2 L965.0 265.8 L967.0 263.4 L969.0 261.0 L971.0 258.7 L973.0 256.4 L975.0 254.2 L977.0 252.0 L979.0 249.8 L981.0 247.7 L983.0 245.6 L985.0 243.5 L987.0 241.5 L989.0 239.4 L991.0 237.4 L993.0 235.5 L995.0 233.5 L997.0 231.6 L999.0 229.7 L1001.0 227.8 L1003.0 225.9 L1005.0 224.0 L1007.0 222.1 L1009.0 220.3 L1011.0 218.5 L1013.0 216.7 L1015.0 214.9 L1017.0 213.2 L1019.0 211.4 L1021.0 209.8 L1023.0 208.1 L1025.0 206.6 L1027.0 205.0 L1029.0 203.5 L1031.0 202.1 L1033.0 200.7 L1035.0 199.4 L1037.0 198.1 L1039.0 196.8 L1041.0 195.5 L1043.0 194.3 L1045.0 193.1 L1047.0 191.8 L1049.0 190.7 L1051.0 189.5 L1053.0 188.4 L1055.0 187.3 L1057.0 186.3 L1059.0 185.2 L1061.0 184.3 L1063.0 183.3 L1065.0 182.5 L1067.0 181.6 L1069.0 180.8 L1071.0 180.1 L1073.0 179.4 L1075.0 178.8 L1077.0 178.1 L1079.0 177.4 L1081.0 176.7 L1083.0 176.1 L1085.0 175.4 L1087.0 174.8 L1089.0 174.3 L1091.0 173.8 L1093.0 173.4 L1095.0 173.1 L1097.0 172.8 L1099.0 172.7 L1101.0 172.6 L1103.0 172.6 L1105.0 172.7 L1107.0 172.7 L1109.0 172.8 L1111.0 172.9 L1113.0 173.1 L1115.0 173.2 L1117.0 173.3 L1119.0 173.5 L1121.0 173.6 L1123.0 173.7 L1125.0 173.8 L1127.0 173.9 L1129.0 174.0 L1131.0 174.0 L1133.0 174.1 L1135.0 174.2 L1137.0 174.2 L1139.0 174.3 L1141.0 174.3 L1143.0 174.4 L1145.0 174.4 L1147.0 174.5 L1149.0 174.5 L1151.0 174.6 L1153.0 174.6 L1155.0 174.6 L1157.0 174.7 L1159.0 174.7 L1161.0 174.8 L1163.0 174.8 L1165.0 174.8 L1167.0 174.9 L1169.0 174.9 L1171.0 174.9 L1173.0 174.9 L1175.0 175.0 L1177.0 175.0 L1179.0 175.0 L1181.0 175.0 L1183.0 175.0 L1185.0 175.0"/>
<path stroke="#74282d" d="M763.0 458.0 L765.0 458.0 L767.0 458.0 L769.0 458.0 L771.0 458.0 L773.0 457.9 L775.0 457.9 L777.0 457.9 L779.0 457.8 L781.0 457.8 L783.0 457.7 L785.0 457.7 L787.0 457.6 L789.0 457.5 L791.0 457.5 L793.0 457.4 L795.0 457.3 L797.0 457.2 L799.0 457.1 L801.0 457.0 L803.0 456.8 L805.0 456.6 L807.0 456.3 L809.0 455.9 L811.0 455.4 L813.0 454.8 L815.0 454.2 L817.0 453.5 L819.0 452.8 L821.0 452.0 L823.0 451.2 L825.0 450.3 L827.0 449.4 L829.0 448.5 L831.0 447.5 L833.0 446.3 L835.0 444.9 L837.0 443.3 L839.0 441.5 L841.0 439.6 L843.0 437.5 L845.0 435.4 L847.0 433.2 L849.0 431.0 L851.0 428.7 L853.0 426.5 L855.0 424.1 L857.0 421.5 L859.0 418.9 L861.0 416.1 L863.0 413.3 L865.0 410.3 L867.0 407.3 L869.0 404.3 L871.0 401.3 L873.0 398.2 L875.0 395.1 L877.0 391.9 L879.0 388.6 L881.0 385.2 L883.0 381.7 L885.0 378.2 L887.0 374.7 L889.0 371.3 L891.0 368.0 L893.0 364.8 L895.0 361.7 L897.0 358.9 L899.0 356.1 L901.0 353.3 L903.0 350.7 L905.0 348.1 L907.0 345.5 L909.0 343.0 L911.0 340.5 L913.0 338.1 L915.0 335.7 L917.0 333.4 L919.0 331.0 L921.0 328.8 L923.0 326.6 L925.0 324.4 L927.0 322.3 L929.0 320.2 L931.0 318.1 L933.0 316.1 L935.0 314.0 L937.0 311.9 L939.0 309.7 L941.0 307.6 L943.0 305.3 L945.0 303.0 L947.0 300.6 L949.0 298.1 L951.0 295.6 L953.0 293.0 L955.0 290.4 L957.0 287.8 L959.0 285.2 L961.0 282.5 L963.0 279.9 L965.0 277.3 L967.0 274.7 L969.0 272.2 L971.0 269.8 L973.0 267.3 L975.0 264.9 L977.0 262.4 L979.0 260.0 L981.0 257.6 L983.0 255.2 L985.0 252.8 L987.0 250.4 L989.0 248.1 L991.0 245.8 L993.0 243.6 L995.0 241.3 L997.0 239.2 L999.0 237.0 L1001.0 235.0 L1003.0 232.9 L1005.0 230.8 L1007.0 228.7 L1009.0 226.7 L1011.0 224.6 L1013.0 222.6 L1015.0 220.6 L1017.0 218.6 L1019.0 216.7 L1021.0 214.8 L1023.0 212.9 L1025.0 211.0 L1027.0 209.3 L1029.0 207.5 L1031.0 205.8 L1033.0 204.2 L1035.0 202.6 L1037.0 201.1 L1039.0 199.7 L1041.0 198.3 L1043.0 197.0 L1045.0 195.7 L1047.0 194.4 L1049.0 193.1 L1051.0 191.9 L1053.0 190.7 L1055.0 189.5 L1057.0 188.4 L1059.0 187.3 L1061.0 186.2 L1063.0 185.2 L1065.0 184.2 L1067.0 183.3 L1069.0 182.4 L1071.0 181.6 L1073.0 180.8 L1075.0 180.0 L1077.0 179.3 L1079.0 178.5 L1081.0 177.7 L1083.0 177.0 L1085.0 176.2 L1087.0 175.5 L1089.0 174.9 L1091.0 174.3 L1093.0 173.8 L1095.0 173.4 L1097.0 173.2 L1099.0 173.0 L1101.0 173.0 L1103.0 173.0 L1105.0 173.0 L1107.0 173.0 L1109.0 173.0 L1111.0 173.0 L1113.0 173.0 L1115.0 173.0 L1117.0 173.0 L1119.0 173.0 L1121.0 173.0 L1123.0 173.0 L1125.0 173.1 L1127.0 173.1 L1129.0 173.1 L1131.0 173.1 L1133.0 173.1 L1135.0 173.1 L1137.0 173.2 L1139.0 173.2 L1141.0 173.2 L1143.0 173.3 L1145.0 173.3 L1147.0 173.4 L1149.0 173.4 L1151.0 173.5 L1153.0 173.5 L1155.0 173.6 L1157.0 173.6 L1159.0 173.7 L1161.0 173.8 L1163.0 173.9 L1165.0 174.0 L1167.0 174.1 L1169.0 174.1 L1171.0 174.3 L1173.0 174.4 L1175.0 174.5 L1177.0 174.6 L1179.0 174.7 L1181.0 174.9 L1183.0 175.0 L1185.0 175.1"/>
<path stroke="#3b8146" d="M763.0 457.5 L765.0 457.5 L767.0 457.5 L769.0 457.5 L771.0 457.4 L773.0 457.4 L775.0 457.4 L777.0 457.3 L779.0 457.2 L781.0 457.2 L783.0 457.1 L785.0 457.0 L787.0 456.9 L789.0 456.8 L791.0 456.7 L793.0 456.5 L795.0 456.4 L797.0 456.3 L799.0 456.1 L801.0 456.0 L803.0 455.8 L805.0 455.6 L807.0 455.3 L809.0 455.0 L811.0 454.7 L813.0 454.3 L815.0 453.8 L817.0 453.4 L819.0 452.8 L821.0 452.3 L823.0 451.7 L825.0 451.1 L827.0 450.4 L829.0 449.8 L831.0 449.0 L833.0 448.1 L835.0 447.1 L837.0 445.9 L839.0 444.6 L841.0 443.1 L843.0 441.6 L845.0 439.9 L847.0 438.2 L849.0 436.3 L851.0 434.5 L853.0 432.5 L855.0 430.2 L857.0 427.7 L859.0 425.0 L861.0 422.0 L863.0 419.0 L865.0 415.8 L867.0 412.5 L869.0 409.2 L871.0 406.0 L873.0 402.8 L875.0 399.6 L877.0 396.4 L879.0 393.1 L881.0 389.7 L883.0 386.3 L885.0 382.9 L887.0 379.5 L889.0 376.1 L891.0 372.7 L893.0 369.4 L895.0 366.1 L897.0 362.9 L899.0 359.8 L901.0 356.7 L903.0 353.6 L905.0 350.6 L907.0 347.6 L909.0 344.6 L911.0 341.5 L913.0 338.5 L915.0 335.4 L917.0 332.4 L919.0 329.2 L921.0 326.1 L923.0 322.9 L925.0 319.8 L927.0 316.6 L929.0 313.4 L931.0 310.2 L933.0 307.1 L935.0 304.0 L937.0 300.9 L939.0 297.9 L941.0 294.8 L943.0 291.7 L945.0 288.7 L947.0 285.6 L949.0 282.7 L951.0 279.8 L953.0 276.9 L955.0 274.2 L957.0 271.6 L959.0 269.1 L961.0 266.6 L963.0 264.2 L965.0 261.8 L967.0 259.5 L969.0 257.2 L971.0 254.9 L973.0 252.7 L975.0 250.5 L977.0 248.3 L979.0 246.2 L981.0 244.1 L983.0 242.0 L985.0 239.9 L987.0 237.9 L989.0 235.9 L991.0 234.0 L993.0 232.0 L995.0 230.1 L997.0 228.2 L999.0 226.3 L1001.0 224.4 L1003.0 222.5 L1005.0 220.7 L1007.0 218.8 L1009.0 217.0 L1011.0 215.2 L1013.0 213.5 L1015.0 211.7 L1017.0 210.0 L1019.0 208.4 L1021.0 206.7 L1023.0 205.2 L1025.0 203.6 L1027.0 202.2 L1029.0 200.7 L1031.0 199.4 L1033.0 198.0 L1035.0 196.8 L1037.0 195.5 L1039.0 194.2 L1041.0 193.0 L1043.0 191.7 L1045.0 190.5 L1047.0 189.4 L1049.0 188.2 L1051.0 187.1 L1053.0 186.0 L1055.0 185.0 L1057.0 184.0 L1059.0 183.0 L1061.0 182.1 L1063.0 181.2 L1065.0 180.4 L1067.0 179.7 L1069.0 178.9 L1071.0 178.3 L1073.0 177.6 L1075.0 176.9 L1077.0 176.2 L1079.0 175.5 L1081.0 174.9 L1083.0 174.3 L1085.0 173.7 L1087.0 173.2 L1089.0 172.7 L1091.0 172.3 L1093.0 172.0 L1095.0 171.8 L1097.0 171.6 L1099.0 171.6 L1101.0 171.6 L1103.0 171.7 L1105.0 171.8 L1107.0 171.9 L1109.0 172.0 L1111.0 172.1 L1113.0 172.2 L1115.0 172.4 L1117.0 172.5 L1119.0 172.6 L1121.0 172.8 L1123.0 172.9 L1125.0 172.9 L1127.0 173.0 L1129.0 173.1 L1131.0 173.1 L1133.0 173.2 L1135.0 173.2 L1137.0 173.3 L1139.0 173.3 L1141.0 173.4 L1143.0 173.4 L1145.0 173.5 L1147.0 173.5 L1149.0 173.6 L1151.0 173.6 L1153.0 173.7 L1155.0 173.7 L1157.0 173.7 L1159.0 173.8 L1161.0 173.8 L1163.0 173.8 L1165.0 173.9 L1167.0 173.9 L1169.0 173.9 L1171.0 173.9 L1173.0 174.0 L1175.0 174.0 L1177.0 174.0 L1179.0 174.0 L1181.0 174.0 L1183.0 174.0 L1185.0 174.0"/>
</g>
<g stroke="#262626" stroke-width="4" fill="none">
<rect x="765.5" y="160.5" width="416" height="309"/>
<line x1="973.5" y1="469.5" x2="973.5" y2="454"/>
<line x1="912.8" y1="209.5" x2="912.8" y2="400"/>
<line x1="935.3" y1="207.3" x2="935.3" y2="450"/>
<line x1="960.5" y1="207.3" x2="960.5" y2="449"/>
<line x1="869.3" y1="298.7" x2="992.5" y2="298.7"/>
</g>
<line x1="871.5" y1="393.0" x2="891.3" y2="393.3" stroke="#262626" stroke-width="4.5"/><path d="M905.3 393.5 L888.7 398.3 L891.3 393.3 L888.9 388.3 Z" fill="#262626" stroke="#262626" stroke-width="2" stroke-linejoin="round"/>
<line x1="1079.0" y1="393.8" x2="979.0" y2="392.2" stroke="#262626" stroke-width="4.5"/><path d="M965.0 392.0 L981.6 387.3 L979.0 392.2 L981.4 397.3 Z" fill="#262626" stroke="#262626" stroke-width="2" stroke-linejoin="round"/>
<line x1="894.0" y1="444.3" x2="914.0" y2="444.6" stroke="#e5282e" stroke-width="4.5"/><path d="M928.0 444.8 L911.4 449.6 L914.0 444.6 L911.6 439.6 Z" fill="#e5282e" stroke="#e5282e" stroke-width="2" stroke-linejoin="round"/>
<line x1="1078.0" y1="445.6" x2="977.3" y2="444.2" stroke="#e5282e" stroke-width="4.5"/><path d="M963.3 444.0 L979.9 439.2 L977.3 444.2 L979.7 449.2 Z" fill="#e5282e" stroke="#e5282e" stroke-width="2" stroke-linejoin="round"/>
<g font-family="Liberation Serif" font-size="68" letter-spacing="-0.75">
<text x="986.6" y="376.2" fill="#262626" letter-spacing="-1.2">107 ns</text>
<text x="990.8" y="439.7" fill="#e5282e">62 ns</text>
</g>
<g font-family="Liberation Serif" font-size="68" fill="#262626" text-anchor="middle">
<text x="764.5" y="542.2">−0.5</text>
<text x="973.5" y="542.2">0</text>
<text x="1180.5" y="542.2">0.5</text>
<text x="970.9" y="616.1" letter-spacing="-0.4">time/μs</text>
</g>
<g fill="none" stroke-width="4.6" stroke-linecap="round">
<line x1="1263" y1="74.2" x2="1395" y2="74.2" stroke="#ec3232"/>
<line x1="1263" y1="147.0" x2="1395" y2="147.0" stroke="#76b951"/>
<line x1="1263" y1="219.8" x2="1395" y2="219.8" stroke="#2f5aa8"/>
<line x1="1263" y1="292.6" x2="1395" y2="292.6" stroke="#72c6d2"/>
<line x1="1263" y1="365.4" x2="1395" y2="365.4" stroke="#a560a8"/>
<line x1="1263" y1="438.2" x2="1395" y2="438.2" stroke="#7f8043"/>
<line x1="1263" y1="511.0" x2="1395" y2="511.0" stroke="#373865"/>
<line x1="1263" y1="583.8" x2="1395" y2="583.8" stroke="#7a3482"/>
<line x1="1263" y1="656.6" x2="1395" y2="656.6" stroke="#74282d"/>
<line x1="1263" y1="729.4" x2="1395" y2="729.4" stroke="#3b8146"/>
</g>
<g font-family="Liberation Serif" font-size="68" fill="#262626">
<text x="1419.5" y="93.70">1</text>
<text x="1419.5" y="166.27">2</text>
<text x="1419.5" y="238.84">3</text>
<text x="1419.5" y="311.41">4</text>
<text x="1419.5" y="383.98">5</text>
<text x="1419.5" y="456.55">6</text>
<text x="1419.5" y="529.12">7</text>
<text x="1419.5" y="601.69">8</text>
<text x="1419.5" y="674.26">9</text>
<text x="1419.5" y="746.83">10</text>
</g>
<g><rect x="890.6" y="1152.9" width="8" height="14" fill="#fff"/><path d="M892 1152.4 L896.9 1152.4 C895.2 1154.5 894.6 1156 895.0 1158 C896.7 1160.6 896.7 1165.9 893.2 1165.9 C889.7 1165.9 889.7 1160.6 891.5 1158 C892.3 1156 892.4 1154 892 1152.4 Z" fill="#262626"/></g>
<g transform="translate(122.4 -535.9)"><g><rect x="890.6" y="1152.9" width="8" height="14" fill="#fff"/><path d="M892 1152.4 L896.9 1152.4 C895.2 1154.5 894.6 1156 895.0 1158 C896.7 1160.6 896.7 1165.9 893.2 1165.9 C889.7 1165.9 889.7 1160.6 891.5 1158 C892.3 1156 892.4 1154 892 1152.4 Z" fill="#262626"/></g></g>
</svg>
</body></html>
